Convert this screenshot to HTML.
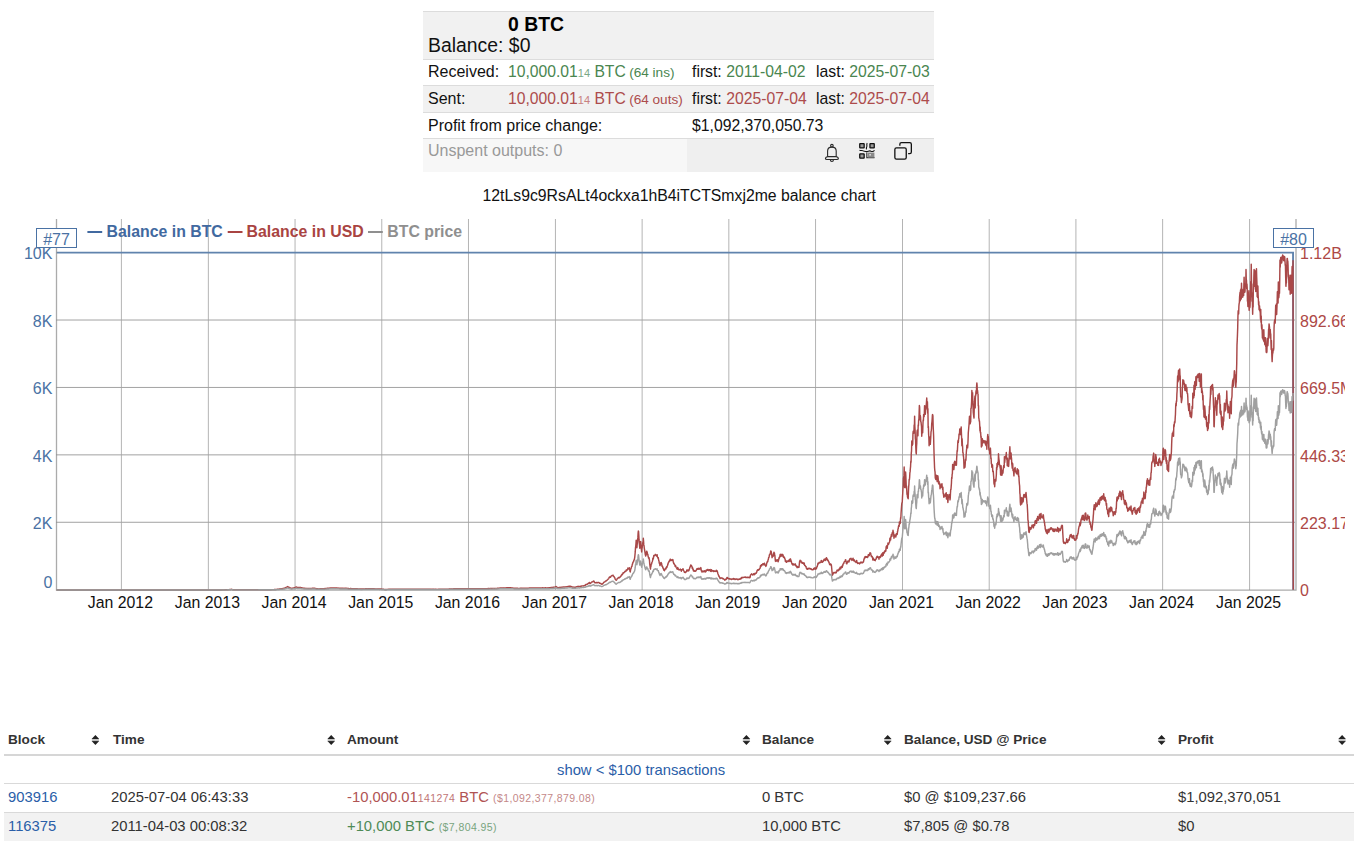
<!DOCTYPE html>
<html><head><meta charset="utf-8">
<style>
*{box-sizing:border-box}
html,body{margin:0;padding:0;background:#fff}
body{width:1354px;height:841px;overflow:hidden;position:relative;font-family:"Liberation Sans",sans-serif;color:#111}
.a{position:absolute;white-space:nowrap}
#top{position:absolute;left:423px;top:11px;width:511px;height:161px}
.row{position:absolute;left:0;width:511px;border-top:1px solid #dcdcdc}
.g{color:#4a8650}
.r{color:#ad4c4c}
.sm{font-size:11px}
.f16{font-size:16px}
.th{top:732px;font-size:13.6px;font-weight:bold;color:#333}
.td{font-size:14.8px;color:#333}
.s10{font-size:10.5px;letter-spacing:0.4px}
</style></head><body>
<div id="top">
  <div class="row" style="top:0;height:49px;background:#f1f1f1"></div>
  <div class="row" style="top:48px;height:26px;background:#fff"></div>
  <div class="row" style="top:74px;height:27px;background:#f1f1f1"></div>
  <div class="row" style="top:101px;height:26px;background:#fff"></div>
  <div class="row" style="top:127px;height:34px;background:#f7f7f7"></div>
  <div class="a" style="left:264px;top:128px;width:247px;height:33px;background:#efefef"></div>
  <div class="a" style="left:85px;top:2px;font-size:19.4px;font-weight:bold;color:#000">0 BTC</div>
  <div class="a" style="left:5px;top:23px;font-size:19.4px">Balance: $0</div>
  <div class="a f16" style="left:5px;top:52px">Received:</div>
  <div class="a g" style="left:85px;top:52px;font-size:15.7px">10,000.01<span class="sm" style="color:#7aa886">14</span> BTC <span style="font-size:13.6px;margin-left:-1px">(64 ins)</span></div>
  <div class="a f16" style="left:269px;top:52px;font-size:15.75px">first: <span class="g">2011-04-02</span></div>
  <div class="a f16" style="left:393px;top:52px;font-size:15.75px">last: <span class="g">2025-07-03</span></div>
  <div class="a f16" style="left:5px;top:79px">Sent:</div>
  <div class="a r" style="left:85px;top:79px;font-size:15.7px">10,000.01<span class="sm" style="color:#c88080">14</span> BTC <span style="font-size:13.6px;margin-left:-1px">(64 outs)</span></div>
  <div class="a f16" style="left:269px;top:79px;font-size:15.75px">first: <span class="r">2025-07-04</span></div>
  <div class="a f16" style="left:393px;top:79px;font-size:15.75px">last: <span class="r">2025-07-04</span></div>
  <div class="a f16" style="left:5px;top:106px">Profit from price change:</div>
  <div class="a f16" style="left:269px;top:106px;font-size:15.75px">$1,092,370,050.73</div>
  <div class="a f16" style="left:5px;top:131px;color:#999">Unspent outputs: 0</div>
<svg class="a" style="left:-423px;top:-11px" width="1354" height="200" viewBox="0 0 1354 200">
<g fill="none" stroke="#2a2a2a" stroke-width="1.1">
<circle cx="831.9" cy="145.7" r="1.3"/>
<path d="M827.6 156.6V151C827.6 148.4 829.4 147.1 831.9 147.1C834.4 147.1 836.2 148.4 836.2 151V156.6"/>
<path d="M827.6 156.6C826.1 157 825.4 157.7 825.4 158.5C825.4 159.2 826 159.5 827 159.5H836.8C837.8 159.5 838.4 159.2 838.4 158.5C838.4 157.7 837.7 157 836.2 156.6Z"/>
<path d="M830.4 159.9A1.5 1.5 0 0 0 833.4 159.9"/>
</g>
<g fill="#9a9a9a" stroke="#111" stroke-width="1.3">
<rect x="859.75" y="143.65" width="4.4" height="4.3" rx="0.4"/>
<rect x="869.95" y="143.65" width="4.3" height="4.3" rx="0.4"/>
<rect x="859.75" y="153.85" width="4.4" height="4.3" rx="0.4"/>
</g>
<g fill="none" stroke="#111" stroke-width="1.1">
<path d="M867.3 143.2C866 144.5 867.6 145.5 866.6 147.2C866.2 148 866.5 148.6 866.4 149.3"/>
<path d="M859.5 150.2C861 150.8 862 150 863.5 150.9C864.5 151.4 865.5 151.4 866.6 151.6C868 151.8 869.5 150.2 871 151.2C872.5 151.8 873.5 151.5 874.5 150.4"/>
<path d="M866.8 152.6V157.6H874.5" stroke="#333"/>
</g>
<rect x="867.6" y="152.6" width="6.8" height="5" fill="#8a8a8a"/>
<rect x="869.3" y="154" width="1.6" height="1.6" fill="#ddd"/>
<g fill="none" stroke="#111" stroke-width="1.3">
<rect x="894.85" y="147.85" width="11.4" height="11.3" rx="1.6"/>
<path d="M899.85 145.8V144.2Q899.85 142.65 901.4 142.65H909.8Q911.35 142.65 911.35 144.2V152Q911.35 153.55 909.8 153.55H908.1"/>
</g>
</svg>

</div>
<div class="a f16" style="left:482.5px;top:187px;font-size:15.8px">12tLs9c9RsALt4ockxa1hB4iTCTSmxj2me balance chart</div>
<svg class="a" style="left:0;top:0" width="1354" height="841" viewBox="0 0 1354 841">
<defs><clipPath id="cr"><rect x="0" y="0" width="1345" height="841"/></clipPath></defs>
<path d="M121.40 219V590M208.35 219V590M295.06 219V590M381.77 219V590M468.48 219V590M555.43 219V590M642.14 219V590M728.84 219V590M815.55 219V590M902.50 219V590M989.21 219V590M1075.92 219V590M1162.63 219V590M1249.58 219V590" stroke="#b4b4b4" stroke-width="1" fill="none"/>
<path d="M56 320.02H1295M56 387.44H1295M56 454.86H1295M56 522.28H1295" stroke="#a2a2a2" stroke-width="1" fill="none"/>
<polyline points="56.5,252.6 1293.05,252.6 1293.25,590" fill="none" stroke="#6083ad" stroke-width="1.9"/>
<polyline points="56.55,590.00 56.79,590.00 57.03,590.00 57.26,590.00 57.50,590.00 57.74,590.00 57.98,590.00 58.21,590.00 58.45,590.00 58.69,590.00 58.93,590.00 59.16,590.00 59.40,589.99 59.64,589.99 59.88,589.99 60.11,589.99 60.35,589.99 60.59,589.99 60.83,589.99 61.06,589.99 61.30,589.99 61.54,589.99 61.78,589.99 62.01,589.99 62.25,589.99 62.49,589.99 62.73,589.99 62.96,589.99 63.20,589.99 63.44,589.99 63.68,589.99 63.91,589.99 64.15,589.99 64.39,589.99 64.63,589.98 64.86,589.98 65.10,589.98 65.34,589.98 65.58,589.98 65.81,589.98 66.05,589.98 66.29,589.98 66.53,589.97 66.77,589.97 67.00,589.97 67.24,589.97 67.48,589.97 67.72,589.97 67.95,589.97 68.19,589.96 68.43,589.96 68.67,589.96 68.90,589.96 69.14,589.96 69.38,589.96 69.62,589.95 69.85,589.95 70.09,589.95 70.33,589.95 70.57,589.94 70.80,589.94 71.04,589.93 71.28,589.93 71.52,589.93 71.75,589.93 71.99,589.92 72.23,589.91 72.47,589.91 72.70,589.92 72.94,589.92 73.18,589.92 73.42,589.92 73.65,589.92 73.89,589.93 74.13,589.93 74.37,589.93 74.60,589.93 74.84,589.93 75.08,589.94 75.32,589.94 75.55,589.94 75.79,589.94 76.03,589.94 76.27,589.94 76.51,589.95 76.74,589.95 76.98,589.95 77.22,589.95 77.46,589.95 77.69,589.95 77.93,589.95 78.17,589.95 78.41,589.96 78.64,589.96 78.88,589.96 79.12,589.96 79.36,589.96 79.59,589.96 79.83,589.96 80.07,589.96 80.31,589.96 80.54,589.96 80.78,589.96 81.02,589.96 81.26,589.96 81.49,589.96 81.73,589.96 81.97,589.97 82.21,589.97 82.44,589.97 82.68,589.97 82.92,589.97 83.16,589.97 83.39,589.97 83.63,589.97 83.87,589.97 84.11,589.97 84.34,589.97 84.58,589.97 84.82,589.97 85.06,589.97 85.29,589.97 85.53,589.97 85.77,589.97 86.01,589.97 86.25,589.97 86.48,589.97 86.72,589.97 86.96,589.98 87.20,589.98 87.43,589.98 87.67,589.98 87.91,589.98 88.15,589.98 88.38,589.98 88.62,589.98 88.86,589.98 89.10,589.98 89.33,589.98 89.57,589.98 89.81,589.98 90.05,589.98 90.28,589.98 90.52,589.98 90.76,589.98 91.00,589.98 91.23,589.98 91.47,589.98 91.71,589.98 91.95,589.98 92.18,589.98 92.42,589.98 92.66,589.98 92.90,589.98 93.13,589.98 93.37,589.99 93.61,589.99 93.85,589.99 94.08,589.99 94.32,589.99 94.56,589.99 94.80,589.99 95.03,589.99 95.27,589.99 95.51,589.99 95.75,589.99 95.98,589.99 96.22,589.99 96.46,589.99 96.70,589.99 96.94,589.99 97.17,589.99 97.41,589.99 97.65,589.99 97.89,589.99 98.12,589.99 98.36,589.99 98.60,589.99 98.84,589.99 99.07,589.99 99.31,589.99 99.55,589.99 99.79,589.99 100.02,589.99 100.26,589.99 100.50,589.99 100.74,589.99 100.97,589.99 101.21,589.99 101.45,589.99 101.69,589.99 101.92,589.99 102.16,589.99 102.40,589.99 102.64,589.99 102.87,589.99 103.11,589.99 103.35,589.99 103.59,589.99 103.82,589.99 104.06,589.99 104.30,589.99 104.54,589.99 104.77,589.99 105.01,589.99 105.25,589.99 105.49,589.99 105.72,589.99 105.96,589.99 106.20,589.99 106.44,589.99 106.68,589.99 106.91,589.99 107.15,589.99 107.39,589.99 107.63,589.99 107.86,589.99 108.10,589.99 108.34,589.99 108.58,589.99 108.81,589.99 109.05,589.99 109.29,589.99 109.53,589.99 109.76,589.99 110.00,589.99 110.24,589.99 110.48,589.99 110.71,589.99 110.95,589.99 111.19,589.99 111.43,589.99 111.66,589.99 111.90,589.99 112.14,589.99 112.38,589.99 112.61,589.99 112.85,589.99 113.09,589.99 113.33,589.99 113.56,589.99 113.80,589.99 114.04,589.99 114.28,589.99 114.51,589.99 114.75,589.99 114.99,589.99 115.23,589.99 115.46,589.99 115.70,589.99 115.94,589.99 116.18,589.99 116.42,589.99 116.65,589.99 116.89,589.99 117.13,589.99 117.37,589.99 117.60,589.99 117.84,589.99 118.08,589.99 118.32,589.99 118.55,589.99 118.79,589.99 119.03,589.99 119.27,589.99 119.50,589.99 119.74,589.98 119.98,589.98 120.22,589.98 120.45,589.98 120.69,589.98 120.93,589.98 121.17,589.98 121.40,589.98 121.64,589.98 121.88,589.98 122.12,589.98 122.35,589.98 122.59,589.98 122.83,589.98 123.07,589.98 123.30,589.98 123.54,589.98 123.78,589.98 124.02,589.98 124.25,589.98 124.49,589.98 124.73,589.98 124.97,589.98 125.20,589.98 125.44,589.98 125.68,589.98 125.92,589.98 126.16,589.98 126.39,589.98 126.63,589.98 126.87,589.98 127.11,589.98 127.34,589.98 127.58,589.98 127.82,589.98 128.06,589.98 128.29,589.98 128.53,589.98 128.77,589.98 129.01,589.98 129.24,589.98 129.48,589.98 129.72,589.98 129.96,589.98 130.19,589.98 130.43,589.98 130.67,589.98 130.91,589.98 131.14,589.98 131.38,589.98 131.62,589.98 131.86,589.98 132.09,589.98 132.33,589.98 132.57,589.98 132.81,589.98 133.04,589.98 133.28,589.98 133.52,589.98 133.76,589.98 133.99,589.98 134.23,589.98 134.47,589.98 134.71,589.98 134.94,589.98 135.18,589.98 135.42,589.98 135.66,589.98 135.90,589.98 136.13,589.98 136.37,589.98 136.61,589.98 136.85,589.98 137.08,589.98 137.32,589.98 137.56,589.98 137.80,589.98 138.03,589.98 138.27,589.98 138.51,589.98 138.75,589.98 138.98,589.98 139.22,589.98 139.46,589.98 139.70,589.98 139.93,589.98 140.17,589.98 140.41,589.98 140.65,589.98 140.88,589.98 141.12,589.98 141.36,589.98 141.60,589.98 141.83,589.98 142.07,589.98 142.31,589.98 142.55,589.98 142.78,589.98 143.02,589.98 143.26,589.98 143.50,589.98 143.73,589.98 143.97,589.98 144.21,589.98 144.45,589.98 144.68,589.98 144.92,589.98 145.16,589.98 145.40,589.98 145.63,589.98 145.87,589.98 146.11,589.98 146.35,589.98 146.59,589.98 146.82,589.98 147.06,589.98 147.30,589.98 147.54,589.98 147.77,589.98 148.01,589.98 148.25,589.98 148.49,589.98 148.72,589.98 148.96,589.98 149.20,589.98 149.44,589.98 149.67,589.98 149.91,589.98 150.15,589.98 150.39,589.98 150.62,589.97 150.86,589.97 151.10,589.98 151.34,589.98 151.57,589.98 151.81,589.98 152.05,589.98 152.29,589.98 152.52,589.98 152.76,589.98 153.00,589.98 153.24,589.97 153.47,589.97 153.71,589.98 153.95,589.97 154.19,589.97 154.42,589.98 154.66,589.98 154.90,589.98 155.14,589.98 155.37,589.98 155.61,589.98 155.85,589.98 156.09,589.98 156.33,589.98 156.56,589.98 156.80,589.98 157.04,589.98 157.28,589.98 157.51,589.98 157.75,589.98 157.99,589.98 158.23,589.97 158.46,589.98 158.70,589.98 158.94,589.98 159.18,589.97 159.41,589.98 159.65,589.97 159.89,589.97 160.13,589.97 160.36,589.97 160.60,589.97 160.84,589.97 161.08,589.97 161.31,589.97 161.55,589.97 161.79,589.97 162.03,589.97 162.26,589.97 162.50,589.97 162.74,589.97 162.98,589.97 163.21,589.97 163.45,589.97 163.69,589.97 163.93,589.97 164.16,589.97 164.40,589.97 164.64,589.97 164.88,589.97 165.11,589.97 165.35,589.97 165.59,589.97 165.83,589.97 166.07,589.97 166.30,589.97 166.54,589.97 166.78,589.97 167.02,589.96 167.25,589.96 167.49,589.96 167.73,589.96 167.97,589.96 168.20,589.96 168.44,589.96 168.68,589.97 168.92,589.97 169.15,589.96 169.39,589.96 169.63,589.96 169.87,589.96 170.10,589.96 170.34,589.96 170.58,589.96 170.82,589.97 171.05,589.96 171.29,589.97 171.53,589.97 171.77,589.96 172.00,589.96 172.24,589.96 172.48,589.96 172.72,589.96 172.95,589.96 173.19,589.97 173.43,589.96 173.67,589.96 173.90,589.96 174.14,589.96 174.38,589.96 174.62,589.96 174.85,589.96 175.09,589.96 175.33,589.96 175.57,589.96 175.81,589.96 176.04,589.96 176.28,589.96 176.52,589.96 176.76,589.96 176.99,589.96 177.23,589.96 177.47,589.96 177.71,589.96 177.94,589.96 178.18,589.96 178.42,589.96 178.66,589.96 178.89,589.96 179.13,589.96 179.37,589.96 179.61,589.96 179.84,589.96 180.08,589.96 180.32,589.96 180.56,589.96 180.79,589.96 181.03,589.96 181.27,589.96 181.51,589.96 181.74,589.96 181.98,589.96 182.22,589.96 182.46,589.96 182.69,589.96 182.93,589.96 183.17,589.96 183.41,589.96 183.64,589.96 183.88,589.96 184.12,589.96 184.36,589.96 184.59,589.96 184.83,589.96 185.07,589.96 185.31,589.96 185.55,589.96 185.78,589.96 186.02,589.96 186.26,589.96 186.50,589.96 186.73,589.96 186.97,589.96 187.21,589.96 187.45,589.96 187.68,589.96 187.92,589.96 188.16,589.96 188.40,589.96 188.63,589.96 188.87,589.96 189.11,589.96 189.35,589.96 189.58,589.96 189.82,589.96 190.06,589.96 190.30,589.96 190.53,589.96 190.77,589.96 191.01,589.96 191.25,589.96 191.48,589.96 191.72,589.96 191.96,589.96 192.20,589.96 192.43,589.96 192.67,589.96 192.91,589.96 193.15,589.96 193.38,589.96 193.62,589.96 193.86,589.96 194.10,589.96 194.33,589.96 194.57,589.96 194.81,589.96 195.05,589.96 195.29,589.96 195.52,589.96 195.76,589.96 196.00,589.96 196.24,589.96 196.47,589.96 196.71,589.96 196.95,589.96 197.19,589.96 197.42,589.96 197.66,589.96 197.90,589.96 198.14,589.96 198.37,589.96 198.61,589.96 198.85,589.96 199.09,589.96 199.32,589.96 199.56,589.96 199.80,589.96 200.04,589.96 200.27,589.96 200.51,589.96 200.75,589.96 200.99,589.96 201.22,589.96 201.46,589.96 201.70,589.96 201.94,589.96 202.17,589.96 202.41,589.96 202.65,589.96 202.89,589.96 203.12,589.96 203.36,589.96 203.60,589.96 203.84,589.96 204.07,589.96 204.31,589.96 204.55,589.96 204.79,589.96 205.02,589.96 205.26,589.96 205.50,589.96 205.74,589.96 205.98,589.96 206.21,589.96 206.45,589.96 206.69,589.96 206.93,589.96 207.16,589.96 207.40,589.96 207.64,589.96 207.88,589.96 208.11,589.96 208.35,589.96 208.59,589.96 208.83,589.96 209.06,589.96 209.30,589.95 209.54,589.95 209.78,589.95 210.01,589.95 210.25,589.95 210.49,589.95 210.73,589.95 210.96,589.95 211.20,589.95 211.44,589.95 211.68,589.95 211.91,589.95 212.15,589.94 212.39,589.95 212.63,589.95 212.86,589.94 213.10,589.94 213.34,589.94 213.58,589.94 213.81,589.94 214.05,589.94 214.29,589.94 214.53,589.94 214.76,589.94 215.00,589.93 215.24,589.93 215.48,589.93 215.72,589.93 215.95,589.93 216.19,589.93 216.43,589.93 216.67,589.93 216.90,589.93 217.14,589.93 217.38,589.93 217.62,589.93 217.85,589.93 218.09,589.93 218.33,589.92 218.57,589.92 218.80,589.92 219.04,589.92 219.28,589.92 219.52,589.92 219.75,589.91 219.99,589.92 220.23,589.91 220.47,589.91 220.70,589.91 220.94,589.91 221.18,589.91 221.42,589.91 221.65,589.91 221.89,589.90 222.13,589.90 222.37,589.90 222.60,589.89 222.84,589.89 223.08,589.88 223.32,589.88 223.55,589.87 223.79,589.86 224.03,589.86 224.27,589.86 224.50,589.85 224.74,589.84 224.98,589.83 225.22,589.83 225.46,589.83 225.69,589.81 225.93,589.80 226.17,589.79 226.41,589.79 226.64,589.77 226.88,589.76 227.12,589.75 227.36,589.74 227.59,589.72 227.83,589.71 228.07,589.69 228.31,589.67 228.54,589.67 228.78,589.65 229.02,589.64 229.26,589.61 229.49,589.59 229.73,589.58 229.97,589.55 230.21,589.52 230.44,589.50 230.68,589.47 230.92,589.43 231.16,589.37 231.39,589.33 231.63,589.30 231.87,589.40 232.11,589.48 232.34,589.58 232.58,589.65 232.82,589.70 233.06,589.75 233.29,589.79 233.53,589.78 233.77,589.79 234.01,589.78 234.24,589.79 234.48,589.78 234.72,589.78 234.96,589.79 235.20,589.79 235.43,589.78 235.67,589.79 235.91,589.79 236.15,589.79 236.38,589.79 236.62,589.79 236.86,589.79 237.10,589.79 237.33,589.79 237.57,589.79 237.81,589.79 238.05,589.79 238.28,589.79 238.52,589.79 238.76,589.79 239.00,589.79 239.23,589.79 239.47,589.80 239.71,589.79 239.95,589.80 240.18,589.79 240.42,589.79 240.66,589.79 240.90,589.79 241.13,589.79 241.37,589.79 241.61,589.79 241.85,589.80 242.08,589.79 242.32,589.79 242.56,589.79 242.80,589.79 243.03,589.79 243.27,589.79 243.51,589.79 243.75,589.79 243.98,589.79 244.22,589.80 244.46,589.79 244.70,589.79 244.94,589.78 245.17,589.79 245.41,589.79 245.65,589.79 245.89,589.79 246.12,589.79 246.36,589.79 246.60,589.80 246.84,589.79 247.07,589.79 247.31,589.80 247.55,589.79 247.79,589.79 248.02,589.79 248.26,589.79 248.50,589.79 248.74,589.79 248.97,589.79 249.21,589.80 249.45,589.79 249.69,589.79 249.92,589.79 250.16,589.79 250.40,589.78 250.64,589.78 250.87,589.78 251.11,589.79 251.35,589.78 251.59,589.79 251.82,589.79 252.06,589.79 252.30,589.79 252.54,589.78 252.77,589.78 253.01,589.77 253.25,589.76 253.49,589.77 253.72,589.76 253.96,589.76 254.20,589.77 254.44,589.77 254.68,589.77 254.91,589.78 255.15,589.77 255.39,589.77 255.63,589.76 255.86,589.76 256.10,589.76 256.34,589.75 256.58,589.75 256.81,589.75 257.05,589.76 257.29,589.76 257.53,589.75 257.76,589.75 258.00,589.74 258.24,589.74 258.48,589.75 258.71,589.74 258.95,589.74 259.19,589.73 259.43,589.72 259.66,589.72 259.90,589.72 260.14,589.72 260.38,589.72 260.61,589.73 260.85,589.71 261.09,589.70 261.33,589.72 261.56,589.71 261.80,589.72 262.04,589.70 262.28,589.71 262.51,589.70 262.75,589.71 262.99,589.70 263.23,589.70 263.46,589.69 263.70,589.68 263.94,589.69 264.18,589.68 264.41,589.70 264.65,589.67 264.89,589.68 265.13,589.69 265.37,589.68 265.60,589.69 265.84,589.69 266.08,589.69 266.32,589.70 266.55,589.69 266.79,589.69 267.03,589.70 267.27,589.68 267.50,589.69 267.74,589.69 267.98,589.68 268.22,589.69 268.45,589.69 268.69,589.69 268.93,589.68 269.17,589.69 269.40,589.68 269.64,589.68 269.88,589.68 270.12,589.68 270.35,589.68 270.59,589.67 270.83,589.65 271.07,589.67 271.30,589.65 271.54,589.65 271.78,589.64 272.02,589.63 272.25,589.65 272.49,589.62 272.73,589.62 272.97,589.62 273.20,589.62 273.44,589.63 273.68,589.62 273.92,589.60 274.15,589.58 274.39,589.56 274.63,589.55 274.87,589.51 275.11,589.51 275.34,589.49 275.58,589.47 275.82,589.44 276.06,589.42 276.29,589.42 276.53,589.38 276.77,589.36 277.01,589.34 277.24,589.32 277.48,589.31 277.72,589.28 277.96,589.25 278.19,589.19 278.43,589.18 278.67,589.16 278.91,589.11 279.14,589.07 279.38,589.00 279.62,589.00 279.86,588.92 280.09,588.86 280.33,588.85 280.57,588.81 280.81,588.79 281.04,588.77 281.28,588.77 281.52,588.73 281.76,588.68 281.99,588.62 282.23,588.61 282.47,588.63 282.71,588.58 282.94,588.55 283.18,588.48 283.42,588.40 283.66,588.29 283.89,588.33 284.13,588.27 284.37,588.24 284.61,588.19 284.85,588.11 285.08,587.93 285.32,587.80 285.56,587.71 285.80,587.64 286.03,587.55 286.27,587.36 286.51,587.29 286.75,587.08 286.98,586.99 287.22,586.88 287.46,586.58 287.70,586.74 287.93,586.80 288.17,587.07 288.41,587.22 288.65,587.24 288.88,587.38 289.12,587.45 289.36,587.45 289.60,587.54 289.83,587.70 290.07,587.87 290.31,588.00 290.55,588.08 290.78,588.12 291.02,588.21 291.26,588.28 291.50,588.41 291.73,588.43 291.97,588.37 292.21,588.24 292.45,588.20 292.68,588.13 292.92,588.10 293.16,588.02 293.40,587.88 293.63,587.90 293.87,588.00 294.11,587.90 294.35,587.78 294.59,587.74 294.82,587.73 295.06,587.59 295.30,587.40 295.54,587.26 295.77,587.17 296.01,587.11 296.25,586.98 296.49,586.99 296.72,587.22 296.96,587.29 297.20,587.42 297.44,587.39 297.67,587.51 297.91,587.51 298.15,587.58 298.39,587.41 298.62,587.42 298.86,587.48 299.10,587.43 299.34,587.47 299.57,587.42 299.81,587.50 300.05,587.47 300.29,587.56 300.52,587.60 300.76,587.55 301.00,587.60 301.24,587.71 301.47,587.77 301.71,587.89 301.95,587.86 302.19,587.93 302.42,588.03 302.66,588.08 302.90,588.05 303.14,588.09 303.37,588.14 303.61,588.21 303.85,588.22 304.09,588.32 304.33,588.29 304.56,588.28 304.80,588.32 305.04,588.27 305.28,588.35 305.51,588.36 305.75,588.41 305.99,588.40 306.23,588.44 306.46,588.40 306.70,588.35 306.94,588.40 307.18,588.39 307.41,588.44 307.65,588.42 307.89,588.51 308.13,588.49 308.36,588.44 308.60,588.41 308.84,588.36 309.08,588.45 309.31,588.44 309.55,588.44 309.79,588.40 310.03,588.40 310.26,588.45 310.50,588.49 310.74,588.46 310.98,588.45 311.21,588.43 311.45,588.39 311.69,588.43 311.93,588.39 312.16,588.36 312.40,588.22 312.64,588.23 312.88,588.20 313.11,588.21 313.35,588.23 313.59,588.22 313.83,588.20 314.07,588.21 314.30,588.33 314.54,588.30 314.78,588.28 315.02,588.40 315.25,588.44 315.49,588.52 315.73,588.54 315.97,588.58 316.20,588.62 316.44,588.64 316.68,588.68 316.92,588.70 317.15,588.64 317.39,588.69 317.63,588.78 317.87,588.78 318.10,588.85 318.34,588.90 318.58,588.91 318.82,588.90 319.05,588.90 319.29,588.90 319.53,588.88 319.77,588.84 320.00,588.82 320.24,588.83 320.48,588.80 320.72,588.77 320.95,588.82 321.19,588.78 321.43,588.74 321.67,588.76 321.90,588.75 322.14,588.78 322.38,588.77 322.62,588.75 322.85,588.79 323.09,588.78 323.33,588.77 323.57,588.72 323.81,588.72 324.04,588.70 324.28,588.65 324.52,588.59 324.76,588.59 324.99,588.60 325.23,588.58 325.47,588.55 325.71,588.55 325.94,588.49 326.18,588.48 326.42,588.43 326.66,588.47 326.89,588.33 327.13,588.27 327.37,588.27 327.61,588.23 327.84,588.18 328.08,588.23 328.32,588.20 328.56,588.21 328.79,588.17 329.03,588.17 329.27,588.08 329.51,588.12 329.74,588.10 329.98,588.16 330.22,588.06 330.46,588.07 330.69,588.07 330.93,588.00 331.17,588.03 331.41,587.97 331.64,588.06 331.88,587.99 332.12,587.95 332.36,588.07 332.59,588.02 332.83,588.04 333.07,588.06 333.31,588.07 333.54,588.02 333.78,588.03 334.02,587.99 334.26,588.00 334.50,588.02 334.73,588.02 334.97,588.06 335.21,588.10 335.45,588.07 335.68,588.07 335.92,588.02 336.16,588.06 336.40,588.02 336.63,588.02 336.87,588.09 337.11,588.11 337.35,588.11 337.58,588.06 337.82,588.12 338.06,588.11 338.30,588.08 338.53,588.10 338.77,588.10 339.01,588.11 339.25,588.15 339.48,588.15 339.72,588.24 339.96,588.25 340.20,588.30 340.43,588.25 340.67,588.21 340.91,588.26 341.15,588.30 341.38,588.27 341.62,588.32 341.86,588.22 342.10,588.31 342.33,588.26 342.57,588.32 342.81,588.23 343.05,588.30 343.28,588.31 343.52,588.32 343.76,588.36 344.00,588.36 344.24,588.36 344.47,588.29 344.71,588.36 344.95,588.35 345.19,588.28 345.42,588.29 345.66,588.33 345.90,588.34 346.14,588.40 346.37,588.33 346.61,588.34 346.85,588.29 347.09,588.31 347.32,588.40 347.56,588.48 347.80,588.50 348.04,588.51 348.27,588.55 348.51,588.60 348.75,588.57 348.99,588.63 349.22,588.60 349.46,588.61 349.70,588.67 349.94,588.65 350.17,588.59 350.41,588.57 350.65,588.62 350.89,588.58 351.12,588.59 351.36,588.60 351.60,588.69 351.84,588.64 352.07,588.68 352.31,588.65 352.55,588.65 352.79,588.70 353.02,588.69 353.26,588.66 353.50,588.66 353.74,588.67 353.98,588.71 354.21,588.72 354.45,588.69 354.69,588.76 354.93,588.83 355.16,588.77 355.40,588.79 355.64,588.74 355.88,588.76 356.11,588.77 356.35,588.76 356.59,588.80 356.83,588.79 357.06,588.76 357.30,588.81 357.54,588.83 357.78,588.86 358.01,588.85 358.25,588.88 358.49,588.89 358.73,588.86 358.96,588.89 359.20,588.90 359.44,588.93 359.68,588.91 359.91,588.92 360.15,588.96 360.39,589.00 360.63,589.01 360.86,589.03 361.10,589.06 361.34,589.03 361.58,588.96 361.81,589.00 362.05,589.00 362.29,588.99 362.53,589.00 362.76,589.01 363.00,588.97 363.24,588.96 363.48,588.95 363.72,588.96 363.95,588.93 364.19,588.95 364.43,588.88 364.67,588.88 364.90,588.88 365.14,588.87 365.38,588.80 365.62,588.85 365.85,588.79 366.09,588.84 366.33,588.84 366.57,588.87 366.80,588.82 367.04,588.85 367.28,588.84 367.52,588.82 367.75,588.81 367.99,588.77 368.23,588.76 368.47,588.77 368.70,588.77 368.94,588.76 369.18,588.71 369.42,588.72 369.65,588.71 369.89,588.73 370.13,588.71 370.37,588.70 370.60,588.74 370.84,588.73 371.08,588.74 371.32,588.80 371.55,588.74 371.79,588.77 372.03,588.80 372.27,588.72 372.50,588.76 372.74,588.75 372.98,588.74 373.22,588.78 373.46,588.78 373.69,588.77 373.93,588.72 374.17,588.78 374.41,588.83 374.64,588.86 374.88,588.85 375.12,588.93 375.36,588.91 375.59,588.89 375.83,588.92 376.07,588.90 376.31,588.90 376.54,588.90 376.78,588.88 377.02,588.90 377.26,588.90 377.49,588.95 377.73,588.97 377.97,588.95 378.21,588.97 378.44,588.96 378.68,588.97 378.92,588.98 379.16,589.03 379.39,589.00 379.63,589.00 379.87,588.99 380.11,589.00 380.34,588.98 380.58,589.00 380.82,588.98 381.06,589.00 381.29,589.02 381.53,589.03 381.77,589.07 382.01,589.11 382.24,589.16 382.48,589.18 382.72,589.24 382.96,589.22 383.19,589.25 383.43,589.26 383.67,589.31 383.91,589.34 384.15,589.36 384.38,589.39 384.62,589.42 384.86,589.46 385.10,589.45 385.33,589.45 385.57,589.44 385.81,589.41 386.05,589.44 386.28,589.44 386.52,589.40 386.76,589.40 387.00,589.41 387.23,589.39 387.47,589.38 387.71,589.37 387.95,589.34 388.18,589.35 388.42,589.33 388.66,589.34 388.90,589.31 389.13,589.31 389.37,589.32 389.61,589.29 389.85,589.33 390.08,589.32 390.32,589.31 390.56,589.31 390.80,589.33 391.03,589.33 391.27,589.33 391.51,589.33 391.75,589.27 391.98,589.28 392.22,589.28 392.46,589.27 392.70,589.28 392.93,589.28 393.17,589.30 393.41,589.28 393.65,589.27 393.89,589.29 394.12,589.28 394.36,589.29 394.60,589.27 394.84,589.24 395.07,589.24 395.31,589.21 395.55,589.23 395.79,589.18 396.02,589.21 396.26,589.17 396.50,589.23 396.74,589.20 396.97,589.17 397.21,589.13 397.45,589.15 397.69,589.14 397.92,589.12 398.16,589.12 398.40,589.12 398.64,589.13 398.87,589.13 399.11,589.16 399.35,589.14 399.59,589.14 399.82,589.17 400.06,589.15 400.30,589.14 400.54,589.16 400.77,589.15 401.01,589.17 401.25,589.15 401.49,589.17 401.72,589.19 401.96,589.21 402.20,589.17 402.44,589.18 402.67,589.16 402.91,589.16 403.15,589.16 403.39,589.14 403.63,589.19 403.86,589.16 404.10,589.18 404.34,589.17 404.58,589.20 404.81,589.14 405.05,589.16 405.29,589.12 405.53,589.11 405.76,589.13 406.00,589.12 406.24,589.16 406.48,589.19 406.71,589.16 406.95,589.19 407.19,589.17 407.43,589.16 407.66,589.15 407.90,589.18 408.14,589.17 408.38,589.16 408.61,589.14 408.85,589.11 409.09,589.13 409.33,589.14 409.56,589.16 409.80,589.18 410.04,589.14 410.28,589.13 410.51,589.16 410.75,589.16 410.99,589.17 411.23,589.18 411.46,589.14 411.70,589.13 411.94,589.15 412.18,589.16 412.41,589.13 412.65,589.16 412.89,589.17 413.13,589.17 413.37,589.15 413.60,589.15 413.84,589.14 414.08,589.14 414.32,589.13 414.55,589.14 414.79,589.15 415.03,589.19 415.27,589.21 415.50,589.21 415.74,589.21 415.98,589.20 416.22,589.19 416.45,589.16 416.69,589.21 416.93,589.19 417.17,589.17 417.40,589.19 417.64,589.18 417.88,589.16 418.12,589.15 418.35,589.14 418.59,589.16 418.83,589.16 419.07,589.16 419.30,589.18 419.54,589.20 419.78,589.18 420.02,589.19 420.25,589.19 420.49,589.20 420.73,589.21 420.97,589.20 421.20,589.23 421.44,589.25 421.68,589.23 421.92,589.22 422.15,589.21 422.39,589.24 422.63,589.24 422.87,589.21 423.11,589.21 423.34,589.25 423.58,589.24 423.82,589.24 424.06,589.26 424.29,589.24 424.53,589.23 424.77,589.23 425.01,589.23 425.24,589.21 425.48,589.24 425.72,589.24 425.96,589.22 426.19,589.23 426.43,589.24 426.67,589.24 426.91,589.26 427.14,589.31 427.38,589.29 427.62,589.32 427.86,589.31 428.09,589.28 428.33,589.30 428.57,589.29 428.81,589.29 429.04,589.29 429.28,589.30 429.52,589.29 429.76,589.29 429.99,589.32 430.23,589.34 430.47,589.33 430.71,589.31 430.94,589.32 431.18,589.33 431.42,589.32 431.66,589.33 431.89,589.33 432.13,589.31 432.37,589.33 432.61,589.32 432.85,589.32 433.08,589.32 433.32,589.31 433.56,589.32 433.80,589.32 434.03,589.32 434.27,589.32 434.51,589.32 434.75,589.35 434.98,589.33 435.22,589.30 435.46,589.35 435.70,589.33 435.93,589.34 436.17,589.34 436.41,589.34 436.65,589.35 436.88,589.36 437.12,589.34 437.36,589.36 437.60,589.37 437.83,589.35 438.07,589.36 438.31,589.34 438.55,589.33 438.78,589.32 439.02,589.32 439.26,589.34 439.50,589.31 439.73,589.30 439.97,589.30 440.21,589.30 440.45,589.27 440.68,589.29 440.92,589.28 441.16,589.30 441.40,589.30 441.63,589.28 441.87,589.31 442.11,589.30 442.35,589.27 442.58,589.24 442.82,589.25 443.06,589.24 443.30,589.26 443.54,589.23 443.77,589.23 444.01,589.25 444.25,589.24 444.49,589.25 444.72,589.27 444.96,589.27 445.20,589.24 445.44,589.25 445.67,589.22 445.91,589.19 446.15,589.19 446.39,589.19 446.62,589.17 446.86,589.20 447.10,589.19 447.34,589.20 447.57,589.19 447.81,589.14 448.05,589.14 448.29,589.13 448.52,589.12 448.76,589.10 449.00,589.07 449.24,589.08 449.47,589.05 449.71,589.00 449.95,588.96 450.19,588.95 450.42,588.90 450.66,588.92 450.90,588.88 451.14,588.89 451.37,588.95 451.61,588.92 451.85,588.93 452.09,588.88 452.32,588.93 452.56,588.86 452.80,588.87 453.04,588.91 453.28,588.84 453.51,588.79 453.75,588.78 453.99,588.77 454.23,588.80 454.46,588.77 454.70,588.79 454.94,588.81 455.18,588.80 455.41,588.77 455.65,588.80 455.89,588.83 456.13,588.81 456.36,588.82 456.60,588.79 456.84,588.81 457.08,588.84 457.31,588.82 457.55,588.80 457.79,588.82 458.03,588.80 458.26,588.83 458.50,588.81 458.74,588.79 458.98,588.80 459.21,588.82 459.45,588.82 459.69,588.79 459.93,588.79 460.16,588.80 460.40,588.79 460.64,588.81 460.88,588.80 461.11,588.81 461.35,588.81 461.59,588.79 461.83,588.82 462.06,588.77 462.30,588.79 462.54,588.81 462.78,588.74 463.02,588.75 463.25,588.75 463.49,588.82 463.73,588.80 463.97,588.80 464.20,588.81 464.44,588.83 464.68,588.82 464.92,588.79 465.15,588.78 465.39,588.76 465.63,588.80 465.87,588.78 466.10,588.79 466.34,588.77 466.58,588.77 466.82,588.74 467.05,588.73 467.29,588.74 467.53,588.70 467.77,588.76 468.00,588.68 468.24,588.70 468.48,588.72 468.72,588.66 468.95,588.71 469.19,588.70 469.43,588.68 469.67,588.69 469.90,588.73 470.14,588.67 470.38,588.70 470.62,588.71 470.85,588.72 471.09,588.74 471.33,588.69 471.57,588.73 471.80,588.68 472.04,588.75 472.28,588.70 472.52,588.73 472.76,588.73 472.99,588.70 473.23,588.69 473.47,588.67 473.71,588.73 473.94,588.72 474.18,588.71 474.42,588.71 474.66,588.70 474.89,588.72 475.13,588.73 475.37,588.70 475.61,588.71 475.84,588.70 476.08,588.69 476.32,588.70 476.56,588.67 476.79,588.72 477.03,588.71 477.27,588.70 477.51,588.71 477.74,588.72 477.98,588.71 478.22,588.68 478.46,588.71 478.69,588.71 478.93,588.73 479.17,588.70 479.41,588.73 479.64,588.71 479.88,588.72 480.12,588.70 480.36,588.69 480.59,588.69 480.83,588.68 481.07,588.67 481.31,588.65 481.54,588.70 481.78,588.70 482.02,588.67 482.26,588.69 482.50,588.68 482.73,588.70 482.97,588.72 483.21,588.72 483.45,588.71 483.68,588.70 483.92,588.71 484.16,588.64 484.40,588.68 484.63,588.67 484.87,588.71 485.11,588.74 485.35,588.69 485.58,588.72 485.82,588.69 486.06,588.62 486.30,588.68 486.53,588.69 486.77,588.61 487.01,588.61 487.25,588.66 487.48,588.59 487.72,588.60 487.96,588.59 488.20,588.57 488.43,588.57 488.67,588.54 488.91,588.61 489.15,588.62 489.38,588.60 489.62,588.56 489.86,588.56 490.10,588.55 490.33,588.50 490.57,588.46 490.81,588.53 491.05,588.54 491.28,588.58 491.52,588.57 491.76,588.53 492.00,588.53 492.24,588.48 492.47,588.54 492.71,588.53 492.95,588.52 493.19,588.48 493.42,588.51 493.66,588.48 493.90,588.53 494.14,588.55 494.37,588.55 494.61,588.53 494.85,588.46 495.09,588.49 495.32,588.48 495.56,588.48 495.80,588.42 496.04,588.47 496.27,588.46 496.51,588.47 496.75,588.43 496.99,588.40 497.22,588.32 497.46,588.27 497.70,588.25 497.94,588.21 498.17,588.20 498.41,588.19 498.65,588.15 498.89,588.15 499.12,588.17 499.36,588.11 499.60,588.11 499.84,588.04 500.07,588.04 500.31,588.00 500.55,587.99 500.79,588.05 501.02,587.95 501.26,587.98 501.50,587.96 501.74,587.89 501.98,587.91 502.21,587.92 502.45,587.94 502.69,587.91 502.93,587.96 503.16,587.96 503.40,587.99 503.64,588.07 503.88,588.07 504.11,588.03 504.35,588.04 504.59,588.04 504.83,588.04 505.06,587.97 505.30,587.87 505.54,587.96 505.78,587.94 506.01,587.89 506.25,587.80 506.49,587.83 506.73,587.90 506.96,587.88 507.20,587.80 507.44,587.82 507.68,587.80 507.91,587.73 508.15,587.81 508.39,587.73 508.63,587.82 508.86,587.75 509.10,587.79 509.34,587.79 509.58,587.75 509.81,587.80 510.05,587.74 510.29,587.75 510.53,587.74 510.76,587.78 511.00,587.85 511.24,587.86 511.48,587.84 511.71,587.89 511.95,587.91 512.19,587.97 512.43,588.03 512.67,587.94 512.90,588.03 513.14,588.08 513.38,588.12 513.62,588.16 513.85,588.24 514.09,588.24 514.33,588.22 514.57,588.16 514.80,588.18 515.04,588.30 515.28,588.27 515.52,588.23 515.75,588.21 515.99,588.24 516.23,588.24 516.47,588.24 516.70,588.27 516.94,588.21 517.18,588.21 517.42,588.31 517.65,588.30 517.89,588.35 518.13,588.39 518.37,588.37 518.60,588.40 518.84,588.40 519.08,588.41 519.32,588.37 519.55,588.37 519.79,588.36 520.03,588.28 520.27,588.31 520.50,588.31 520.74,588.35 520.98,588.28 521.22,588.34 521.45,588.34 521.69,588.27 521.93,588.22 522.17,588.28 522.41,588.32 522.64,588.33 522.88,588.39 523.12,588.29 523.36,588.33 523.59,588.31 523.83,588.25 524.07,588.34 524.31,588.22 524.54,588.25 524.78,588.26 525.02,588.20 525.26,588.12 525.49,588.18 525.73,588.22 525.97,588.18 526.21,588.16 526.44,588.16 526.68,588.24 526.92,588.20 527.16,588.24 527.39,588.21 527.63,588.19 527.87,588.21 528.11,588.22 528.34,588.12 528.58,588.13 528.82,588.12 529.06,588.08 529.29,588.08 529.53,588.05 529.77,588.06 530.01,587.99 530.24,588.01 530.48,588.03 530.72,588.03 530.96,588.07 531.19,588.03 531.43,588.04 531.67,587.96 531.91,588.03 532.15,587.96 532.38,587.98 532.62,587.94 532.86,588.00 533.10,588.00 533.33,588.05 533.57,588.03 533.81,588.02 534.05,588.04 534.28,588.02 534.52,588.03 534.76,588.02 535.00,587.99 535.23,588.01 535.47,588.00 535.71,588.00 535.95,587.98 536.18,588.03 536.42,588.03 536.66,588.03 536.90,588.03 537.13,588.01 537.37,588.02 537.61,588.00 537.85,588.07 538.08,588.05 538.32,588.03 538.56,588.00 538.80,588.01 539.03,588.00 539.27,588.03 539.51,588.00 539.75,588.03 539.98,588.06 540.22,588.07 540.46,588.08 540.70,588.06 540.93,588.03 541.17,588.06 541.41,588.03 541.65,587.92 541.89,587.90 542.12,587.89 542.36,587.88 542.60,587.83 542.84,587.80 543.07,587.86 543.31,587.89 543.55,587.87 543.79,587.90 544.02,587.88 544.26,587.92 544.50,587.87 544.74,587.90 544.97,587.81 545.21,587.81 545.45,587.79 545.69,587.88 545.92,587.96 546.16,588.06 546.40,587.98 546.64,587.91 546.87,587.91 547.11,587.98 547.35,587.85 547.59,587.92 547.82,587.89 548.06,587.95 548.30,587.88 548.54,587.83 548.77,587.85 549.01,587.83 549.25,587.78 549.49,587.79 549.72,587.78 549.96,587.71 550.20,587.74 550.44,587.68 550.67,587.62 550.91,587.54 551.15,587.52 551.39,587.58 551.63,587.46 551.86,587.46 552.10,587.35 552.34,587.37 552.58,587.41 552.81,587.46 553.05,587.31 553.29,587.29 553.53,587.35 553.76,587.14 554.00,587.18 554.24,587.15 554.48,587.12 554.71,587.11 554.95,587.12 555.19,587.10 555.43,586.93 555.66,586.67 555.90,586.59 556.14,586.52 556.38,586.66 556.61,586.89 556.85,587.12 557.09,587.20 557.33,587.36 557.56,587.41 557.80,587.64 558.04,587.63 558.28,587.64 558.51,587.68 558.75,587.58 558.99,587.58 559.23,587.53 559.46,587.43 559.70,587.34 559.94,587.51 560.18,587.48 560.41,587.41 560.65,587.26 560.89,587.33 561.13,587.27 561.37,587.20 561.60,587.42 561.84,587.23 562.08,587.30 562.32,587.20 562.55,587.13 562.79,587.07 563.03,587.02 563.27,586.96 563.50,587.01 563.74,586.93 563.98,587.05 564.22,586.96 564.45,587.01 564.69,586.95 564.93,586.87 565.17,586.86 565.40,586.91 565.64,586.91 565.88,586.78 566.12,586.82 566.35,586.90 566.59,586.94 566.83,586.82 567.07,586.76 567.30,586.72 567.54,586.79 567.78,586.61 568.02,586.44 568.25,586.46 568.49,586.40 568.73,586.32 568.97,586.22 569.20,586.26 569.44,586.23 569.68,586.20 569.92,586.13 570.15,586.11 570.39,586.21 570.63,586.42 570.87,586.42 571.10,586.50 571.34,586.76 571.58,586.74 571.82,586.80 572.06,586.85 572.29,586.97 572.53,587.04 572.77,587.16 573.01,587.07 573.24,587.05 573.48,587.16 573.72,587.13 573.96,587.12 574.19,587.16 574.43,587.17 574.67,587.22 574.91,587.19 575.14,587.16 575.38,587.20 575.62,587.20 575.86,587.01 576.09,586.90 576.33,586.84 576.57,586.81 576.81,586.73 577.04,586.71 577.28,586.56 577.52,586.54 577.76,586.44 577.99,586.60 578.23,586.48 578.47,586.40 578.71,586.31 578.94,586.43 579.18,586.58 579.42,586.58 579.66,586.58 579.89,586.48 580.13,586.42 580.37,586.33 580.61,586.34 580.84,586.36 581.08,586.27 581.32,586.23 581.56,586.03 581.80,585.94 582.03,585.88 582.27,585.87 582.51,585.85 582.75,585.88 582.98,585.91 583.22,585.85 583.46,585.95 583.70,585.92 583.93,585.67 584.17,585.61 584.41,585.51 584.65,585.49 584.88,585.39 585.12,585.46 585.36,585.22 585.60,584.80 585.83,584.51 586.07,584.56 586.31,584.46 586.55,584.45 586.78,584.26 587.02,584.36 587.26,584.24 587.50,583.98 587.73,583.77 587.97,583.68 588.21,583.24 588.45,583.56 588.68,583.42 588.92,583.03 589.16,582.66 589.40,582.42 589.63,582.44 589.87,583.16 590.11,583.65 590.35,583.34 590.58,583.16 590.82,582.95 591.06,582.69 591.30,582.72 591.54,582.36 591.77,581.99 592.01,582.08 592.25,581.91 592.49,581.81 592.72,581.69 592.96,581.64 593.20,581.19 593.44,581.36 593.67,581.08 593.91,581.08 594.15,581.66 594.39,582.15 594.62,582.59 594.86,582.77 595.10,582.68 595.34,582.58 595.57,582.64 595.81,582.77 596.05,582.79 596.29,582.52 596.52,582.68 596.76,582.53 597.00,582.75 597.24,582.77 597.47,582.84 597.71,582.48 597.95,582.55 598.19,582.43 598.42,582.44 598.66,582.50 598.90,582.47 599.14,582.66 599.37,582.89 599.61,583.22 599.85,583.19 600.09,583.22 600.32,583.48 600.56,583.38 600.80,583.52 601.04,583.51 601.28,584.01 601.51,583.94 601.75,584.19 601.99,584.25 602.23,584.03 602.46,583.97 602.70,583.55 602.94,583.47 603.18,583.17 603.41,582.86 603.65,582.43 603.89,582.12 604.13,582.14 604.36,582.14 604.60,581.90 604.84,581.61 605.08,581.65 605.31,581.23 605.55,581.04 605.79,581.01 606.03,581.11 606.26,580.62 606.50,580.70 606.74,580.32 606.98,580.31 607.21,580.07 607.45,579.81 607.69,579.53 607.93,579.20 608.16,579.24 608.40,578.72 608.64,578.80 608.88,578.28 609.11,577.55 609.35,577.28 609.59,577.00 609.83,576.91 610.06,577.09 610.30,577.30 610.54,577.12 610.78,576.75 611.02,576.14 611.25,576.08 611.49,575.83 611.73,575.63 611.97,575.40 612.20,575.52 612.44,575.67 612.68,575.52 612.92,575.32 613.15,575.18 613.39,575.72 613.63,576.17 613.87,576.60 614.10,576.64 614.34,577.10 614.58,577.55 614.82,577.74 615.05,578.80 615.29,579.22 615.53,579.78 615.77,579.75 616.00,580.01 616.24,580.32 616.48,580.09 616.72,579.66 616.95,579.22 617.19,578.68 617.43,578.55 617.67,578.21 617.90,578.18 618.14,577.88 618.38,577.58 618.62,577.54 618.85,577.67 619.09,577.36 619.33,577.43 619.57,577.65 619.80,577.48 620.04,577.16 620.28,576.70 620.52,576.59 620.75,576.37 620.99,576.22 621.23,575.30 621.47,575.00 621.71,574.66 621.94,574.25 622.18,574.82 622.42,574.42 622.66,573.91 622.89,573.67 623.13,572.77 623.37,572.69 623.61,572.97 623.84,572.75 624.08,572.57 624.32,572.17 624.56,571.73 624.79,571.86 625.03,571.16 625.27,571.50 625.51,571.55 625.74,571.36 625.98,570.82 626.22,570.05 626.46,570.52 626.69,570.12 626.93,570.23 627.17,569.82 627.41,569.22 627.64,569.74 627.88,568.09 628.12,568.88 628.36,568.90 628.59,568.64 628.83,568.44 629.07,568.50 629.31,567.62 629.54,568.46 629.78,569.98 630.02,571.54 630.26,572.01 630.49,570.38 630.73,569.14 630.97,568.70 631.21,568.20 631.45,567.05 631.68,566.41 631.92,566.53 632.16,565.21 632.40,563.92 632.63,563.88 632.87,562.38 633.11,562.03 633.35,561.90 633.58,561.65 633.82,560.38 634.06,559.84 634.30,559.76 634.53,558.37 634.77,557.04 635.01,554.53 635.25,551.93 635.48,547.85 635.72,546.44 635.96,543.74 636.20,540.11 636.43,542.56 636.67,543.69 636.91,547.67 637.15,544.71 637.38,543.10 637.62,540.14 637.86,537.64 638.10,533.40 638.33,531.03 638.57,531.64 638.81,535.63 639.05,539.93 639.28,542.87 639.52,545.26 639.76,548.27 640.00,547.59 640.23,544.81 640.47,541.73 640.71,541.62 640.95,544.29 641.19,548.03 641.42,550.02 641.66,551.90 641.90,548.57 642.14,548.00 642.37,545.86 642.61,544.39 642.85,542.28 643.09,542.14 643.32,538.29 643.56,541.09 643.80,544.92 644.04,545.75 644.27,548.02 644.51,549.30 644.75,550.88 644.99,552.30 645.22,554.20 645.46,555.06 645.70,556.13 645.94,555.43 646.17,554.01 646.41,552.25 646.65,551.30 646.89,551.28 647.12,552.53 647.36,553.52 647.60,554.66 647.84,554.26 648.07,556.32 648.31,556.61 648.55,558.14 648.79,558.10 649.02,557.59 649.26,559.16 649.50,560.59 649.74,564.11 649.97,565.69 650.21,567.36 650.45,569.14 650.69,566.72 650.93,566.44 651.16,564.31 651.40,563.92 651.64,563.92 651.88,562.43 652.11,562.07 652.35,561.37 652.59,560.70 652.83,558.31 653.06,558.37 653.30,558.96 653.54,557.46 653.78,555.58 654.01,556.13 654.25,555.75 654.49,555.39 654.73,555.32 654.96,554.75 655.20,554.60 655.44,554.38 655.68,554.54 655.91,555.07 656.15,555.68 656.39,555.22 656.63,556.13 656.86,555.23 657.10,554.69 657.34,556.49 657.58,557.40 657.81,557.50 658.05,558.21 658.29,557.72 658.53,559.31 658.76,560.74 659.00,560.83 659.24,563.10 659.48,563.43 659.71,563.65 659.95,565.61 660.19,565.21 660.43,563.29 660.67,562.79 660.90,562.83 661.14,562.56 661.38,563.01 661.62,563.53 661.85,565.26 662.09,566.31 662.33,566.30 662.57,566.46 662.80,567.65 663.04,568.18 663.28,568.28 663.52,569.14 663.75,570.14 663.99,570.14 664.23,570.19 664.47,570.80 664.70,570.04 664.94,569.24 665.18,569.13 665.42,568.35 665.65,568.21 665.89,568.99 666.13,568.06 666.37,567.63 666.60,566.66 666.84,567.53 667.08,566.52 667.32,566.04 667.55,565.56 667.79,564.07 668.03,564.13 668.27,562.63 668.50,562.59 668.74,562.38 668.98,561.19 669.22,560.97 669.45,561.24 669.69,560.39 669.93,560.14 670.17,559.19 670.41,559.28 670.64,560.35 670.88,560.64 671.12,559.65 671.36,560.35 671.59,560.37 671.83,560.22 672.07,560.12 672.31,559.92 672.54,559.68 672.78,559.45 673.02,560.42 673.26,562.17 673.49,562.48 673.73,563.63 673.97,563.35 674.21,563.96 674.44,564.56 674.68,564.51 674.92,565.00 675.16,566.33 675.39,566.07 675.63,565.68 675.87,566.42 676.11,567.22 676.34,567.76 676.58,567.69 676.82,568.54 677.06,568.53 677.29,569.20 677.53,568.39 677.77,567.56 678.01,568.84 678.24,568.82 678.48,568.95 678.72,569.54 678.96,570.05 679.19,569.82 679.43,569.68 679.67,569.62 679.91,569.83 680.14,569.44 680.38,569.01 680.62,569.76 680.86,570.05 681.10,570.06 681.33,571.22 681.57,569.66 681.81,569.72 682.05,569.75 682.28,569.88 682.52,569.43 682.76,569.02 683.00,568.75 683.23,569.20 683.47,570.04 683.71,570.55 683.95,571.09 684.18,571.39 684.42,572.29 684.66,572.16 684.90,572.26 685.13,572.55 685.37,572.40 685.61,572.56 685.85,571.80 686.08,571.80 686.32,571.77 686.56,571.27 686.80,570.09 687.03,570.09 687.27,570.65 687.51,570.19 687.75,570.67 687.98,570.89 688.22,570.09 688.46,570.32 688.70,570.47 688.93,570.65 689.17,569.44 689.41,569.05 689.65,568.08 689.88,567.43 690.12,566.72 690.36,566.67 690.60,565.35 690.84,564.90 691.07,565.26 691.31,565.28 691.55,565.76 691.79,566.42 692.02,566.83 692.26,568.46 692.50,567.36 692.74,568.55 692.97,569.35 693.21,569.82 693.45,570.94 693.69,570.25 693.92,570.72 694.16,570.97 694.40,571.23 694.64,570.94 694.87,570.74 695.11,570.98 695.35,571.06 695.59,571.25 695.82,570.70 696.06,570.65 696.30,570.00 696.54,569.74 696.77,569.09 697.01,568.65 697.25,569.36 697.49,569.16 697.72,568.83 697.96,569.10 698.20,568.26 698.44,568.62 698.67,568.88 698.91,569.30 699.15,568.67 699.39,568.41 699.62,568.83 699.86,568.70 700.10,568.98 700.34,568.00 700.58,567.99 700.81,567.62 701.05,568.77 701.29,570.78 701.53,571.25 701.76,571.01 702.00,572.12 702.24,571.59 702.48,571.41 702.71,571.10 702.95,570.94 703.19,571.54 703.43,571.81 703.66,571.28 703.90,571.41 704.14,571.19 704.38,570.78 704.61,571.69 704.85,570.89 705.09,570.88 705.33,571.93 705.56,571.12 705.80,570.83 706.04,571.47 706.28,570.05 706.51,570.34 706.75,570.59 706.99,570.04 707.23,569.95 707.46,569.97 707.70,569.38 707.94,570.28 708.18,569.57 708.41,569.87 708.65,570.10 708.89,570.75 709.13,570.06 709.36,569.62 709.60,569.67 709.84,569.91 710.08,569.49 710.32,570.35 710.55,571.14 710.79,570.97 711.03,571.48 711.27,570.58 711.50,569.79 711.74,570.58 711.98,570.57 712.22,571.07 712.45,570.68 712.69,570.83 712.93,571.07 713.17,570.78 713.40,570.85 713.64,571.63 713.88,571.01 714.12,570.84 714.35,571.21 714.59,571.35 714.83,571.37 715.07,571.26 715.30,571.33 715.54,570.96 715.78,571.40 716.02,570.80 716.25,570.26 716.49,570.92 716.73,571.23 716.97,570.73 717.20,570.95 717.44,572.04 717.68,572.83 717.92,573.68 718.15,574.22 718.39,574.94 718.63,575.20 718.87,576.39 719.10,576.21 719.34,577.01 719.58,577.10 719.82,577.54 720.06,578.51 720.29,578.46 720.53,577.97 720.77,578.05 721.01,577.92 721.24,578.07 721.48,578.10 721.72,578.22 721.96,577.86 722.19,578.40 722.43,578.21 722.67,578.73 722.91,578.43 723.14,578.62 723.38,578.70 723.62,579.05 723.86,579.26 724.09,579.28 724.33,579.58 724.57,579.69 724.81,580.32 725.04,580.10 725.28,579.86 725.52,579.34 725.76,579.30 725.99,579.51 726.23,579.20 726.47,578.60 726.71,578.02 726.94,577.60 727.18,577.76 727.42,577.55 727.66,578.48 727.89,578.55 728.13,578.27 728.37,578.70 728.61,578.81 728.84,578.61 729.08,578.74 729.32,578.67 729.56,578.85 729.80,579.23 730.03,578.58 730.27,579.12 730.51,579.09 730.75,579.17 730.98,579.11 731.22,579.39 731.46,579.08 731.70,579.41 731.93,579.26 732.17,579.08 732.41,578.94 732.65,579.12 732.88,578.92 733.12,579.15 733.36,578.52 733.60,578.96 733.83,578.83 734.07,578.92 734.31,579.11 734.55,578.84 734.78,579.11 735.02,579.52 735.26,579.17 735.50,579.29 735.73,579.08 735.97,579.20 736.21,579.00 736.45,578.94 736.68,578.94 736.92,579.01 737.16,579.44 737.40,579.27 737.63,579.72 737.87,579.60 738.11,579.58 738.35,579.72 738.58,579.17 738.82,579.36 739.06,579.39 739.30,578.95 739.53,579.17 739.77,579.29 740.01,578.84 740.25,578.74 740.49,578.40 740.72,578.90 740.96,578.77 741.20,578.72 741.44,577.54 741.67,577.60 741.91,577.88 742.15,577.49 742.39,577.72 742.62,577.44 742.86,577.48 743.10,577.61 743.34,577.52 743.57,577.38 743.81,577.29 744.05,577.19 744.29,577.38 744.52,577.31 744.76,577.35 745.00,576.97 745.24,577.13 745.47,577.43 745.71,577.23 745.95,577.31 746.19,577.43 746.42,577.48 746.66,577.43 746.90,577.27 747.14,577.62 747.37,577.26 747.61,577.41 747.85,577.32 748.09,577.32 748.32,577.44 748.56,577.57 748.80,577.35 749.04,577.67 749.27,577.79 749.51,577.79 749.75,577.32 749.99,577.60 750.23,576.51 750.46,575.18 750.70,575.04 750.94,574.54 751.18,574.35 751.41,574.40 751.65,573.87 751.89,574.33 752.13,574.40 752.36,574.42 752.60,574.99 752.84,574.89 753.08,574.69 753.31,574.42 753.55,573.76 753.79,574.11 754.03,574.51 754.26,574.77 754.50,574.20 754.74,573.77 754.98,573.18 755.21,573.99 755.45,573.37 755.69,573.39 755.93,573.28 756.16,572.99 756.40,572.99 756.64,572.21 756.88,571.65 757.11,570.47 757.35,570.29 757.59,569.79 757.83,570.36 758.06,569.71 758.30,570.23 758.54,570.02 758.78,569.56 759.01,569.79 759.25,569.52 759.49,568.84 759.73,568.83 759.97,568.18 760.20,567.92 760.44,565.81 760.68,566.81 760.92,565.87 761.15,565.40 761.39,564.78 761.63,565.77 761.87,564.72 762.10,564.65 762.34,564.30 762.58,564.61 762.82,563.75 763.05,564.09 763.29,564.03 763.53,563.88 763.77,564.69 764.00,563.95 764.24,563.69 764.48,563.18 764.72,564.80 764.95,564.80 765.19,565.20 765.43,565.64 765.67,566.00 765.90,566.41 766.14,564.92 766.38,565.30 766.62,563.48 766.85,563.10 767.09,561.99 767.33,561.87 767.57,561.91 767.80,561.51 768.04,559.95 768.28,559.57 768.52,558.27 768.75,557.23 768.99,557.28 769.23,556.14 769.47,554.69 769.71,554.86 769.94,553.96 770.18,553.86 770.42,553.35 770.66,550.99 770.89,551.95 771.13,551.18 771.37,552.68 771.61,554.84 771.84,555.57 772.08,557.65 772.32,556.47 772.56,555.37 772.79,556.11 773.03,556.47 773.27,556.02 773.51,553.25 773.74,554.29 773.98,552.20 774.22,553.83 774.46,553.04 774.69,555.27 774.93,556.28 775.17,558.91 775.41,561.11 775.64,561.27 775.88,561.40 776.12,561.27 776.36,560.11 776.59,560.01 776.83,560.44 777.07,559.65 777.31,559.66 777.54,560.07 777.78,561.12 778.02,561.76 778.26,561.35 778.49,560.53 778.73,559.63 778.97,557.78 779.21,558.35 779.45,557.07 779.68,557.25 779.92,556.04 780.16,554.40 780.40,554.32 780.63,554.38 780.87,556.27 781.11,556.24 781.35,554.46 781.58,555.33 781.82,554.57 782.06,554.42 782.30,554.46 782.53,556.13 782.77,554.51 783.01,555.36 783.25,555.63 783.48,557.32 783.72,557.51 783.96,556.96 784.20,557.43 784.43,557.34 784.67,558.27 784.91,559.16 785.15,559.25 785.38,561.47 785.62,560.74 785.86,561.27 786.10,561.86 786.33,561.03 786.57,562.30 786.81,561.77 787.05,561.13 787.28,561.25 787.52,561.60 787.76,561.24 788.00,560.67 788.23,560.87 788.47,561.37 788.71,560.91 788.95,561.03 789.19,559.82 789.42,559.83 789.66,559.61 789.90,561.51 790.14,559.63 790.37,558.83 790.61,559.16 790.85,560.39 791.09,560.67 791.32,561.40 791.56,562.73 791.80,563.25 792.04,564.06 792.27,564.30 792.51,564.78 792.75,564.84 792.99,563.60 793.22,565.14 793.46,564.20 793.70,564.28 793.94,564.86 794.17,564.30 794.41,564.71 794.65,564.25 794.89,564.67 795.12,564.45 795.36,563.88 795.60,565.86 795.84,565.13 796.07,565.79 796.31,565.93 796.55,566.24 796.79,566.73 797.02,567.49 797.26,566.37 797.50,567.42 797.74,566.80 797.97,567.47 798.21,567.21 798.45,567.21 798.69,567.35 798.92,567.32 799.16,565.54 799.40,563.42 799.64,561.27 799.88,560.95 800.11,560.25 800.35,561.15 800.59,561.38 800.83,561.01 801.06,560.91 801.30,562.64 801.54,562.61 801.78,562.96 802.01,562.79 802.25,562.44 802.49,563.32 802.73,562.54 802.96,562.94 803.20,562.79 803.44,563.27 803.68,564.04 803.91,564.22 804.15,563.07 804.39,563.89 804.63,565.45 804.86,565.61 805.10,565.54 805.34,565.72 805.58,566.21 805.81,566.73 806.05,566.54 806.29,567.74 806.53,568.54 806.76,568.83 807.00,569.04 807.24,569.36 807.48,569.24 807.71,568.44 807.95,568.33 808.19,568.98 808.43,568.31 808.66,568.61 808.90,568.62 809.14,568.63 809.38,568.61 809.62,568.25 809.85,568.79 810.09,569.01 810.33,568.94 810.57,568.54 810.80,568.85 811.04,569.16 811.28,569.03 811.52,569.20 811.75,569.45 811.99,569.74 812.23,569.66 812.47,569.77 812.70,569.69 812.94,569.74 813.18,569.68 813.42,569.29 813.65,568.52 813.89,568.93 814.13,569.17 814.37,568.81 814.60,568.06 814.84,568.36 815.08,567.89 815.32,568.23 815.55,568.12 815.79,569.25 816.03,568.61 816.27,568.20 816.50,568.46 816.74,567.11 816.98,566.66 817.22,566.62 817.45,565.46 817.69,564.91 817.93,563.30 818.17,563.63 818.40,563.68 818.64,563.39 818.88,563.30 819.12,562.57 819.36,562.29 819.59,562.44 819.83,562.80 820.07,562.71 820.31,562.18 820.54,562.32 820.78,562.30 821.02,561.86 821.26,560.39 821.49,561.87 821.73,561.05 821.97,562.21 822.21,561.64 822.44,562.25 822.68,561.58 822.92,560.97 823.16,561.60 823.39,560.84 823.63,560.02 823.87,560.71 824.11,559.54 824.34,559.06 824.58,560.12 824.82,560.06 825.06,560.11 825.29,560.44 825.53,559.80 825.77,558.55 826.01,559.02 826.24,558.18 826.48,557.68 826.72,559.24 826.96,558.45 827.19,560.13 827.43,560.19 827.67,559.59 827.91,560.47 828.14,560.37 828.38,561.32 828.62,561.43 828.86,562.43 829.10,562.26 829.33,563.69 829.57,564.28 829.81,564.79 830.05,564.42 830.28,564.34 830.52,564.52 830.76,563.83 831.00,565.01 831.23,564.63 831.47,565.81 831.71,568.22 831.95,571.04 832.18,573.05 832.42,575.18 832.66,574.68 832.90,574.39 833.13,573.67 833.37,573.12 833.61,572.95 833.85,572.38 834.08,572.68 834.32,572.87 834.56,572.80 834.80,572.56 835.03,573.06 835.27,572.46 835.51,572.21 835.75,572.34 835.98,572.00 836.22,572.74 836.46,571.83 836.70,571.35 836.93,570.65 837.17,570.11 837.41,570.91 837.65,570.15 837.88,570.31 838.12,570.32 838.36,570.62 838.60,569.70 838.84,569.43 839.07,569.02 839.31,568.93 839.55,569.73 839.79,568.83 840.02,567.63 840.26,567.22 840.50,568.20 840.74,568.79 840.97,567.68 841.21,567.67 841.45,566.61 841.69,566.88 841.92,566.34 842.16,567.39 842.40,566.83 842.64,564.90 842.87,565.46 843.11,563.89 843.35,563.59 843.59,563.23 843.82,563.39 844.06,562.20 844.30,561.90 844.54,561.40 844.77,561.49 845.01,560.93 845.25,560.21 845.49,559.75 845.72,559.76 845.96,561.39 846.20,561.64 846.44,563.69 846.67,563.81 846.91,563.75 847.15,562.77 847.39,562.50 847.62,561.29 847.86,562.19 848.10,561.64 848.34,561.07 848.58,561.29 848.81,560.96 849.05,561.80 849.29,560.08 849.53,560.26 849.76,558.91 850.00,558.81 850.24,558.76 850.48,559.00 850.71,559.06 850.95,558.25 851.19,558.82 851.43,558.86 851.66,559.16 851.90,560.41 852.14,560.11 852.38,559.04 852.61,559.17 852.85,559.40 853.09,558.27 853.33,560.14 853.56,560.04 853.80,560.76 854.04,559.71 854.28,560.05 854.51,560.83 854.75,560.73 854.99,561.54 855.23,561.44 855.46,561.96 855.70,561.77 855.94,561.53 856.18,562.56 856.41,561.61 856.65,560.45 856.89,561.73 857.13,562.21 857.36,562.23 857.60,563.42 857.84,562.79 858.08,562.85 858.31,563.15 858.55,563.18 858.79,563.04 859.03,563.19 859.27,563.49 859.50,563.96 859.74,563.26 859.98,563.19 860.22,562.58 860.45,563.08 860.69,562.22 860.93,562.32 861.17,562.30 861.40,562.42 861.64,562.11 861.88,562.10 862.12,562.95 862.35,562.84 862.59,562.61 862.83,562.53 863.07,561.99 863.30,562.09 863.54,561.58 863.78,560.22 864.02,559.55 864.25,558.30 864.49,557.75 864.73,558.34 864.97,556.74 865.20,556.53 865.44,556.82 865.68,557.25 865.92,557.20 866.15,557.22 866.39,556.64 866.63,557.04 866.87,557.31 867.10,556.69 867.34,557.52 867.58,557.59 867.82,556.96 868.05,556.46 868.29,554.65 868.53,555.74 868.77,554.99 869.01,554.52 869.24,555.56 869.48,553.97 869.72,553.80 869.96,552.81 870.19,553.45 870.43,553.01 870.67,553.31 870.91,554.49 871.14,555.50 871.38,556.46 871.62,555.89 871.86,556.73 872.09,556.45 872.33,556.80 872.57,557.60 872.81,559.97 873.04,558.76 873.28,559.34 873.52,558.25 873.76,559.00 873.99,559.41 874.23,560.21 874.47,559.76 874.71,559.86 874.94,560.35 875.18,560.61 875.42,559.79 875.66,559.27 875.89,559.26 876.13,558.86 876.37,557.51 876.61,558.00 876.84,556.75 877.08,556.28 877.32,557.30 877.56,556.38 877.79,557.19 878.03,556.90 878.27,557.23 878.51,557.38 878.75,557.90 878.98,559.22 879.22,557.00 879.46,556.84 879.70,557.50 879.93,556.73 880.17,557.62 880.41,557.34 880.65,556.97 880.88,555.46 881.12,555.85 881.36,554.54 881.60,554.29 881.83,553.90 882.07,554.44 882.31,556.06 882.55,554.71 882.78,552.83 883.02,553.53 883.26,555.26 883.50,552.48 883.73,553.17 883.97,552.41 884.21,552.00 884.45,552.89 884.68,551.47 884.92,550.66 885.16,550.98 885.40,551.30 885.63,550.05 885.87,550.95 886.11,547.21 886.35,546.60 886.58,545.87 886.82,547.18 887.06,545.46 887.30,548.18 887.53,545.17 887.77,544.44 888.01,542.97 888.25,543.53 888.49,544.46 888.72,543.78 888.96,543.13 889.20,542.70 889.44,542.26 889.67,541.45 889.91,538.30 890.15,538.05 890.39,538.76 890.62,540.03 890.86,536.77 891.10,536.86 891.34,534.45 891.57,536.10 891.81,536.48 892.05,535.61 892.29,532.56 892.52,532.78 892.76,532.51 893.00,530.23 893.24,531.95 893.47,532.25 893.71,534.76 893.95,538.29 894.19,535.32 894.42,535.90 894.66,535.11 894.90,536.66 895.14,535.20 895.37,536.20 895.61,535.63 895.85,536.99 896.09,534.62 896.32,533.82 896.56,535.02 896.80,534.43 897.04,534.00 897.27,534.26 897.51,531.42 897.75,531.26 897.99,528.83 898.23,528.67 898.46,526.52 898.70,525.59 898.94,525.95 899.18,526.17 899.41,521.87 899.65,522.09 899.89,521.71 900.13,523.64 900.36,521.46 900.60,517.78 900.84,518.33 901.08,513.03 901.31,509.87 901.55,506.63 901.79,503.70 902.03,502.51 902.26,502.31 902.50,497.09 902.74,492.98 902.98,488.45 903.21,485.23 903.45,478.13 903.69,477.69 903.93,475.39 904.16,466.93 904.40,475.90 904.64,487.51 904.88,487.19 905.11,479.64 905.35,476.86 905.59,472.07 905.83,475.86 906.06,481.23 906.30,488.32 906.54,486.09 906.78,490.36 907.01,494.34 907.25,493.98 907.49,496.87 907.73,497.97 907.97,493.23 908.20,498.78 908.44,491.74 908.68,486.83 908.92,484.31 909.15,479.44 909.39,479.96 909.63,477.49 909.87,472.92 910.10,471.89 910.34,468.75 910.58,466.31 910.82,461.11 911.05,462.22 911.29,453.07 911.53,450.91 911.77,441.08 912.00,441.17 912.24,445.30 912.48,444.04 912.72,444.25 912.95,433.48 913.19,431.21 913.43,433.26 913.67,432.01 913.90,433.11 914.14,425.10 914.38,428.96 914.62,416.13 914.85,426.22 915.09,430.01 915.33,438.54 915.57,439.81 915.80,447.20 916.04,452.68 916.28,453.93 916.52,446.37 916.75,443.63 916.99,432.38 917.23,430.31 917.47,432.90 917.70,433.78 917.94,435.81 918.18,425.01 918.42,425.66 918.66,419.80 918.89,420.26 919.13,413.06 919.37,405.55 919.61,406.85 919.84,415.40 920.08,419.67 920.32,415.51 920.56,417.41 920.79,421.97 921.03,421.87 921.27,424.54 921.51,426.62 921.74,436.17 921.98,431.17 922.22,432.76 922.46,429.64 922.69,432.85 922.93,424.49 923.17,419.99 923.41,420.58 923.64,414.38 923.88,416.11 924.12,416.68 924.36,412.75 924.59,405.64 924.83,406.15 925.07,412.17 925.31,414.31 925.54,410.32 925.78,408.91 926.02,409.10 926.26,404.82 926.49,402.05 926.73,397.99 926.97,404.25 927.21,407.42 927.44,401.76 927.68,413.33 927.92,408.80 928.16,427.68 928.40,426.53 928.63,434.62 928.87,437.77 929.11,445.70 929.35,442.86 929.58,441.84 929.82,441.96 930.06,437.08 930.30,444.33 930.53,440.65 930.77,437.03 931.01,432.13 931.25,430.72 931.48,429.00 931.72,423.54 931.96,421.87 932.20,418.58 932.43,414.84 932.67,414.62 932.91,415.80 933.15,425.81 933.38,430.60 933.62,435.95 933.86,446.76 934.10,455.51 934.33,461.44 934.57,467.69 934.81,470.51 935.05,471.90 935.28,478.12 935.52,474.96 935.76,479.47 936.00,475.57 936.23,479.57 936.47,475.32 936.71,475.67 936.95,478.70 937.18,481.62 937.42,475.79 937.66,476.55 937.90,475.96 938.14,478.12 938.37,481.51 938.61,483.55 938.85,481.12 939.09,481.73 939.32,484.47 939.56,483.42 939.80,483.52 940.04,488.73 940.27,486.03 940.51,485.28 940.75,485.42 940.99,486.70 941.22,487.12 941.46,484.43 941.70,485.54 941.94,483.62 942.17,486.67 942.41,487.92 942.65,489.42 942.89,487.19 943.12,493.17 943.36,493.24 943.60,495.40 943.84,497.28 944.07,496.09 944.31,495.87 944.55,495.88 944.79,496.00 945.02,495.00 945.26,493.91 945.50,495.57 945.74,496.22 945.97,496.53 946.21,492.78 946.45,499.03 946.69,498.24 946.92,497.69 947.16,496.58 947.40,494.70 947.64,499.55 947.88,502.56 948.11,499.79 948.35,497.10 948.59,496.57 948.83,497.20 949.06,494.56 949.30,495.70 949.54,497.20 949.78,497.74 950.01,499.89 950.25,498.18 950.49,492.84 950.73,489.56 950.96,489.52 951.20,486.42 951.44,483.30 951.68,477.45 951.91,478.44 952.15,474.41 952.39,473.57 952.63,464.51 952.86,465.71 953.10,464.53 953.34,465.39 953.58,468.01 953.81,469.55 954.05,467.60 954.29,462.15 954.53,463.26 954.76,461.33 955.00,465.19 955.24,464.47 955.48,464.66 955.71,462.10 955.95,462.93 956.19,465.30 956.43,465.17 956.66,458.38 956.90,454.42 957.14,450.53 957.38,451.10 957.62,446.34 957.85,441.84 958.09,440.38 958.33,442.48 958.57,438.99 958.80,438.53 959.04,434.05 959.28,434.62 959.52,433.88 959.75,428.91 959.99,432.90 960.23,434.54 960.47,432.03 960.70,428.77 960.94,434.65 961.18,426.87 961.42,433.37 961.65,438.14 961.89,445.71 962.13,438.76 962.37,444.23 962.60,446.61 962.84,452.83 963.08,452.62 963.32,456.12 963.55,456.84 963.79,460.87 964.03,468.29 964.27,465.68 964.50,462.72 964.74,464.08 964.98,467.24 965.22,464.02 965.45,459.64 965.69,459.19 965.93,460.12 966.17,454.84 966.40,451.30 966.64,448.91 966.88,445.15 967.12,445.15 967.36,444.86 967.59,447.82 967.83,445.07 968.07,439.95 968.31,432.58 968.54,430.23 968.78,427.31 969.02,424.71 969.26,419.92 969.49,416.18 969.73,419.77 969.97,421.99 970.21,423.72 970.44,417.71 970.68,422.13 970.92,408.53 971.16,408.51 971.39,405.82 971.63,401.29 971.87,390.43 972.11,395.57 972.34,401.57 972.58,392.60 972.82,401.90 973.06,406.85 973.29,412.69 973.53,414.62 973.77,416.61 974.01,418.03 974.24,407.42 974.48,402.74 974.72,398.76 974.96,396.27 975.19,407.87 975.43,395.33 975.67,395.97 975.91,392.15 976.14,390.54 976.38,393.79 976.62,385.90 976.86,382.92 977.09,385.14 977.33,391.97 977.57,390.58 977.81,393.40 978.05,394.20 978.28,406.07 978.52,405.58 978.76,417.95 979.00,418.75 979.23,421.17 979.47,420.98 979.71,425.11 979.95,430.98 980.18,426.96 980.42,432.96 980.66,432.40 980.90,437.38 981.13,436.24 981.37,447.03 981.61,438.29 981.85,442.12 982.08,445.90 982.32,438.77 982.56,441.84 982.80,442.53 983.03,442.87 983.27,441.97 983.51,442.29 983.75,440.56 983.98,441.17 984.22,442.09 984.46,441.46 984.70,441.23 984.93,443.20 985.17,440.85 985.41,444.06 985.65,444.86 985.88,441.47 986.12,445.63 986.36,444.48 986.60,441.74 986.83,449.31 987.07,441.08 987.31,443.19 987.55,437.09 987.79,434.42 988.02,436.70 988.26,436.47 988.50,440.50 988.74,447.54 988.97,450.00 989.21,449.98 989.45,449.67 989.69,453.86 989.92,450.05 990.16,454.20 990.40,448.10 990.64,452.05 990.87,458.70 991.11,458.00 991.35,463.61 991.59,463.82 991.82,467.23 992.06,467.03 992.30,464.63 992.54,465.24 992.77,471.39 993.01,472.01 993.25,471.23 993.49,474.78 993.72,477.48 993.96,483.38 994.20,484.17 994.44,480.61 994.67,486.72 994.91,483.28 995.15,479.61 995.39,479.49 995.62,480.63 995.86,481.03 996.10,477.72 996.34,475.05 996.57,467.40 996.81,469.66 997.05,463.43 997.29,466.41 997.53,466.81 997.76,462.30 998.00,463.26 998.24,464.20 998.48,453.77 998.71,456.95 998.95,459.29 999.19,460.82 999.43,464.93 999.66,464.75 999.90,465.46 1000.14,468.12 1000.38,468.82 1000.61,474.93 1000.85,467.45 1001.09,465.79 1001.33,469.33 1001.56,475.29 1001.80,472.91 1002.04,475.10 1002.28,470.57 1002.51,473.73 1002.75,473.26 1002.99,472.67 1003.23,469.22 1003.46,467.52 1003.70,465.49 1003.94,465.58 1004.18,467.54 1004.41,456.64 1004.65,462.42 1004.89,460.40 1005.13,457.50 1005.36,456.61 1005.60,456.45 1005.84,456.88 1006.08,455.48 1006.31,452.57 1006.55,458.39 1006.79,459.38 1007.03,458.73 1007.27,465.81 1007.50,458.32 1007.74,465.60 1007.98,464.87 1008.22,466.03 1008.45,466.41 1008.69,466.17 1008.93,461.14 1009.17,458.90 1009.40,453.05 1009.64,450.76 1009.88,446.67 1010.12,452.61 1010.35,457.13 1010.59,458.90 1010.83,458.14 1011.07,453.00 1011.30,456.71 1011.54,458.59 1011.78,463.85 1012.02,465.61 1012.25,468.12 1012.49,463.21 1012.73,463.93 1012.97,470.56 1013.20,469.29 1013.44,470.82 1013.68,472.67 1013.92,475.89 1014.15,471.67 1014.39,470.29 1014.63,468.38 1014.87,470.58 1015.10,467.50 1015.34,471.23 1015.58,471.86 1015.82,472.09 1016.05,471.62 1016.29,473.07 1016.53,471.03 1016.77,473.89 1017.01,470.83 1017.24,468.67 1017.48,471.87 1017.72,470.47 1017.96,472.36 1018.19,474.98 1018.43,469.96 1018.67,476.84 1018.91,475.97 1019.14,480.82 1019.38,483.97 1019.62,485.82 1019.86,493.09 1020.09,494.66 1020.33,502.31 1020.57,505.01 1020.81,501.57 1021.04,497.95 1021.28,497.53 1021.52,502.47 1021.76,504.02 1021.99,502.39 1022.23,500.30 1022.47,497.88 1022.71,499.95 1022.94,502.07 1023.18,501.48 1023.42,498.51 1023.66,494.97 1023.89,494.53 1024.13,495.33 1024.37,496.82 1024.61,496.96 1024.84,494.60 1025.08,497.24 1025.32,494.52 1025.56,494.00 1025.79,495.08 1026.03,492.44 1026.27,495.36 1026.51,498.13 1026.75,500.80 1026.98,503.43 1027.22,504.55 1027.46,509.00 1027.70,513.48 1027.93,520.01 1028.17,520.80 1028.41,525.18 1028.65,528.95 1028.88,532.02 1029.12,532.55 1029.36,531.70 1029.60,530.32 1029.83,527.15 1030.07,528.98 1030.31,527.72 1030.55,527.85 1030.78,528.45 1031.02,529.14 1031.26,527.91 1031.50,527.88 1031.73,527.30 1031.97,525.15 1032.21,525.93 1032.45,525.64 1032.68,525.06 1032.92,524.97 1033.16,525.03 1033.40,527.84 1033.63,524.93 1033.87,524.69 1034.11,525.44 1034.35,525.25 1034.58,525.57 1034.82,524.59 1035.06,520.96 1035.30,522.66 1035.53,522.28 1035.77,520.53 1036.01,521.23 1036.25,522.15 1036.48,523.38 1036.72,522.09 1036.96,518.39 1037.20,520.00 1037.44,518.96 1037.67,516.36 1037.91,517.35 1038.15,520.27 1038.39,518.93 1038.62,518.32 1038.86,518.52 1039.10,517.43 1039.34,515.20 1039.57,514.23 1039.81,514.33 1040.05,518.33 1040.29,519.06 1040.52,518.33 1040.76,514.00 1041.00,513.48 1041.24,516.92 1041.47,516.12 1041.71,517.04 1041.95,517.22 1042.19,517.55 1042.42,517.98 1042.66,516.22 1042.90,517.60 1043.14,514.65 1043.37,515.30 1043.61,517.60 1043.85,519.51 1044.09,520.14 1044.32,522.64 1044.56,522.39 1044.80,525.66 1045.04,525.98 1045.27,529.26 1045.51,529.03 1045.75,531.08 1045.99,531.04 1046.22,529.72 1046.46,532.91 1046.70,532.33 1046.94,531.87 1047.18,531.01 1047.41,533.71 1047.65,531.74 1047.89,529.56 1048.13,530.26 1048.36,529.26 1048.60,529.76 1048.84,532.30 1049.08,531.54 1049.31,530.42 1049.55,529.36 1049.79,528.92 1050.03,528.84 1050.26,528.81 1050.50,528.01 1050.74,529.52 1050.98,528.23 1051.21,527.76 1051.45,528.26 1051.69,528.82 1051.93,528.34 1052.16,528.72 1052.40,529.23 1052.64,530.08 1052.88,530.80 1053.11,530.23 1053.35,531.31 1053.59,528.95 1053.83,531.46 1054.06,531.08 1054.30,529.52 1054.54,529.21 1054.78,531.53 1055.01,529.22 1055.25,529.40 1055.49,530.03 1055.73,529.88 1055.96,529.10 1056.20,530.31 1056.44,530.37 1056.68,530.42 1056.92,531.18 1057.15,529.95 1057.39,529.76 1057.63,527.50 1057.87,531.01 1058.10,530.57 1058.34,529.43 1058.58,531.91 1058.82,530.28 1059.05,528.52 1059.29,529.74 1059.53,529.35 1059.77,529.52 1060.00,530.61 1060.24,530.63 1060.48,529.46 1060.72,528.82 1060.95,528.25 1061.19,527.63 1061.43,525.87 1061.67,526.64 1061.90,525.30 1062.14,527.28 1062.38,525.59 1062.62,530.02 1062.85,534.33 1063.09,538.23 1063.33,541.92 1063.57,542.31 1063.80,543.18 1064.04,543.02 1064.28,542.99 1064.52,542.27 1064.75,542.65 1064.99,543.30 1065.23,543.70 1065.47,543.43 1065.70,542.70 1065.94,542.23 1066.18,542.22 1066.42,541.93 1066.66,538.79 1066.89,541.91 1067.13,542.02 1067.37,542.55 1067.61,542.11 1067.84,542.07 1068.08,540.78 1068.32,539.84 1068.56,540.78 1068.79,540.29 1069.03,539.85 1069.27,540.10 1069.51,537.40 1069.74,537.50 1069.98,535.69 1070.22,534.89 1070.46,536.46 1070.69,535.82 1070.93,534.88 1071.17,534.39 1071.41,536.20 1071.64,536.18 1071.88,537.66 1072.12,535.91 1072.36,537.64 1072.59,538.10 1072.83,537.91 1073.07,536.84 1073.31,535.46 1073.54,536.05 1073.78,535.57 1074.02,539.02 1074.26,538.45 1074.49,538.66 1074.73,539.90 1074.97,540.34 1075.21,540.06 1075.44,540.27 1075.68,540.11 1075.92,539.71 1076.16,538.80 1076.40,535.37 1076.63,535.75 1076.87,538.43 1077.11,535.89 1077.35,535.32 1077.58,535.21 1077.82,533.31 1078.06,533.50 1078.30,531.21 1078.53,529.23 1078.77,528.08 1079.01,526.80 1079.25,525.98 1079.48,524.99 1079.72,525.03 1079.96,522.42 1080.20,525.77 1080.43,522.24 1080.67,523.94 1080.91,520.63 1081.15,519.48 1081.38,518.80 1081.62,519.87 1081.86,516.93 1082.10,519.37 1082.33,515.46 1082.57,518.34 1082.81,519.40 1083.05,517.51 1083.28,515.20 1083.52,519.66 1083.76,519.04 1084.00,517.58 1084.23,519.77 1084.47,520.41 1084.71,519.79 1084.95,515.93 1085.18,513.13 1085.42,515.44 1085.66,512.98 1085.90,514.38 1086.14,519.05 1086.37,518.25 1086.61,517.65 1086.85,520.08 1087.09,520.00 1087.32,517.86 1087.56,517.58 1087.80,515.01 1088.04,517.47 1088.27,517.21 1088.51,518.62 1088.75,517.76 1088.99,518.40 1089.22,516.56 1089.46,521.85 1089.70,522.17 1089.94,521.84 1090.17,524.39 1090.41,522.88 1090.65,524.58 1090.89,527.07 1091.12,527.73 1091.36,526.71 1091.60,529.99 1091.84,530.24 1092.07,529.22 1092.31,526.01 1092.55,523.91 1092.79,521.70 1093.02,519.78 1093.26,516.30 1093.50,513.68 1093.74,508.61 1093.97,507.15 1094.21,504.79 1094.45,507.55 1094.69,505.86 1094.92,504.87 1095.16,509.71 1095.40,505.35 1095.64,504.76 1095.88,502.62 1096.11,505.06 1096.35,506.34 1096.59,506.62 1096.83,504.30 1097.06,506.14 1097.30,505.46 1097.54,504.12 1097.78,502.80 1098.01,501.48 1098.25,502.84 1098.49,500.07 1098.73,504.28 1098.96,502.37 1099.20,504.51 1099.44,503.05 1099.68,502.93 1099.91,497.98 1100.15,498.92 1100.39,498.08 1100.63,497.41 1100.86,498.50 1101.10,500.24 1101.34,496.65 1101.58,498.60 1101.81,497.57 1102.05,499.18 1102.29,496.04 1102.53,497.57 1102.76,496.21 1103.00,496.97 1103.24,495.84 1103.48,498.97 1103.71,493.71 1103.95,498.08 1104.19,496.75 1104.43,500.37 1104.66,500.47 1104.90,500.00 1105.14,497.56 1105.38,501.16 1105.61,501.29 1105.85,500.01 1106.09,503.46 1106.33,505.35 1106.57,503.43 1106.80,508.66 1107.04,509.58 1107.28,509.71 1107.52,509.99 1107.75,513.89 1107.99,511.42 1108.23,514.09 1108.47,514.92 1108.70,516.59 1108.94,509.56 1109.18,508.00 1109.42,509.86 1109.65,509.63 1109.89,510.66 1110.13,511.74 1110.37,509.61 1110.60,508.73 1110.84,506.90 1111.08,510.40 1111.32,509.50 1111.55,509.24 1111.79,507.85 1112.03,511.27 1112.27,511.39 1112.50,512.01 1112.74,511.67 1112.98,512.91 1113.22,515.79 1113.45,514.97 1113.69,512.24 1113.93,513.87 1114.17,512.59 1114.40,512.07 1114.64,511.86 1114.88,511.72 1115.12,514.41 1115.35,511.49 1115.59,512.79 1115.83,511.98 1116.07,508.27 1116.31,508.30 1116.54,502.72 1116.78,499.27 1117.02,497.17 1117.26,500.88 1117.49,498.15 1117.73,498.01 1117.97,496.79 1118.21,497.54 1118.44,498.77 1118.68,495.74 1118.92,494.68 1119.16,493.28 1119.39,496.05 1119.63,493.46 1119.87,491.30 1120.11,496.18 1120.34,494.60 1120.58,493.58 1120.82,492.13 1121.06,496.24 1121.29,498.17 1121.53,499.50 1121.77,495.05 1122.01,493.28 1122.24,493.13 1122.48,492.83 1122.72,490.80 1122.96,494.64 1123.19,494.19 1123.43,496.06 1123.67,499.49 1123.91,499.32 1124.14,500.85 1124.38,503.81 1124.62,502.81 1124.86,501.19 1125.09,504.67 1125.33,500.44 1125.57,502.61 1125.81,502.23 1126.05,502.96 1126.28,502.81 1126.52,504.10 1126.76,507.76 1127.00,507.26 1127.23,508.66 1127.47,508.77 1127.71,511.21 1127.95,508.50 1128.18,510.38 1128.42,509.79 1128.66,510.48 1128.90,509.02 1129.13,508.58 1129.37,507.32 1129.61,508.78 1129.85,507.73 1130.08,509.57 1130.32,509.71 1130.56,507.09 1130.80,510.45 1131.03,505.97 1131.27,510.11 1131.51,511.26 1131.75,512.18 1131.98,510.82 1132.22,514.15 1132.46,513.89 1132.70,510.57 1132.93,511.07 1133.17,510.71 1133.41,508.97 1133.65,508.15 1133.88,508.94 1134.12,509.44 1134.36,508.49 1134.60,508.10 1134.83,507.49 1135.07,512.49 1135.31,511.69 1135.55,510.51 1135.79,513.21 1136.02,514.10 1136.26,514.19 1136.50,511.90 1136.74,510.15 1136.97,510.72 1137.21,512.92 1137.45,508.85 1137.69,510.55 1137.92,509.68 1138.16,509.93 1138.40,509.01 1138.64,508.02 1138.87,510.52 1139.11,511.15 1139.35,511.10 1139.59,512.35 1139.82,509.40 1140.06,506.27 1140.30,507.76 1140.54,506.97 1140.77,505.33 1141.01,503.74 1141.25,501.74 1141.49,501.72 1141.72,502.67 1141.96,500.25 1142.20,502.55 1142.44,498.35 1142.67,499.23 1142.91,503.45 1143.15,498.72 1143.39,499.22 1143.62,496.26 1143.86,492.10 1144.10,493.67 1144.34,494.98 1144.57,494.18 1144.81,498.76 1145.05,497.89 1145.29,498.14 1145.53,494.02 1145.76,490.49 1146.00,492.57 1146.24,487.19 1146.48,486.87 1146.71,483.76 1146.95,480.53 1147.19,483.16 1147.43,478.67 1147.66,480.98 1147.90,481.32 1148.14,481.85 1148.38,484.82 1148.61,480.42 1148.85,482.23 1149.09,483.78 1149.33,485.19 1149.56,483.32 1149.80,485.14 1150.04,479.03 1150.28,478.44 1150.51,477.45 1150.75,479.52 1150.99,472.90 1151.23,472.74 1151.46,469.30 1151.70,463.89 1151.94,462.34 1152.18,461.80 1152.41,462.19 1152.65,461.06 1152.89,459.78 1153.13,455.71 1153.36,460.53 1153.60,453.10 1153.84,453.77 1154.08,461.24 1154.31,463.13 1154.55,459.92 1154.79,466.40 1155.03,463.88 1155.26,462.25 1155.50,460.89 1155.74,454.57 1155.98,456.84 1156.22,456.95 1156.45,463.38 1156.69,461.55 1156.93,463.51 1157.17,462.22 1157.40,463.16 1157.64,463.20 1157.88,465.39 1158.12,465.41 1158.35,463.79 1158.59,465.38 1158.83,459.11 1159.07,463.05 1159.30,459.83 1159.54,458.25 1159.78,462.25 1160.02,460.80 1160.25,460.86 1160.49,461.37 1160.73,462.03 1160.97,465.47 1161.20,463.22 1161.44,464.15 1161.68,462.88 1161.92,462.29 1162.15,462.47 1162.39,462.10 1162.63,458.73 1162.87,452.99 1163.10,449.19 1163.34,448.21 1163.58,457.81 1163.82,459.44 1164.05,456.74 1164.29,452.60 1164.53,451.06 1164.77,455.16 1165.00,449.40 1165.24,450.82 1165.48,450.33 1165.72,453.93 1165.96,461.33 1166.19,457.50 1166.43,463.50 1166.67,462.29 1166.91,460.54 1167.14,469.50 1167.38,464.85 1167.62,468.31 1167.86,470.56 1168.09,470.73 1168.33,468.21 1168.57,471.51 1168.81,462.14 1169.04,461.81 1169.28,459.61 1169.52,456.49 1169.76,454.60 1169.99,458.79 1170.23,460.46 1170.47,459.08 1170.71,459.22 1170.94,456.83 1171.18,454.45 1171.42,451.79 1171.66,443.80 1171.89,438.20 1172.13,436.15 1172.37,433.11 1172.61,433.45 1172.84,434.74 1173.08,433.37 1173.32,431.03 1173.56,436.34 1173.79,424.65 1174.03,427.00 1174.27,424.82 1174.51,421.85 1174.74,422.94 1174.98,422.09 1175.22,417.64 1175.46,414.24 1175.70,405.95 1175.93,403.29 1176.17,405.77 1176.41,401.02 1176.65,401.50 1176.88,394.14 1177.12,390.73 1177.36,383.48 1177.60,376.47 1177.83,375.73 1178.07,381.78 1178.31,373.43 1178.55,370.26 1178.78,380.06 1179.02,371.81 1179.26,370.59 1179.50,370.45 1179.73,369.08 1179.97,375.31 1180.21,375.94 1180.45,389.71 1180.68,397.09 1180.92,396.78 1181.16,397.61 1181.40,402.53 1181.63,400.98 1181.87,399.92 1182.11,397.94 1182.35,387.90 1182.58,387.09 1182.82,379.85 1183.06,381.32 1183.30,381.72 1183.53,380.15 1183.77,381.25 1184.01,382.76 1184.25,384.75 1184.48,383.57 1184.72,387.94 1184.96,390.44 1185.20,388.88 1185.44,388.07 1185.67,388.86 1185.91,384.72 1186.15,390.29 1186.39,391.15 1186.62,389.71 1186.86,387.41 1187.10,393.18 1187.34,393.04 1187.57,393.73 1187.81,397.40 1188.05,404.64 1188.29,405.41 1188.52,407.94 1188.76,410.62 1189.00,406.72 1189.24,404.85 1189.47,403.66 1189.71,413.99 1189.95,410.45 1190.19,416.53 1190.42,416.28 1190.66,415.69 1190.90,412.54 1191.14,414.37 1191.37,417.65 1191.61,416.19 1191.85,413.12 1192.09,406.25 1192.32,408.04 1192.56,408.45 1192.80,393.27 1193.04,397.01 1193.27,395.68 1193.51,397.95 1193.75,397.78 1193.99,385.30 1194.22,395.72 1194.46,389.23 1194.70,381.80 1194.94,389.35 1195.18,389.30 1195.41,381.12 1195.65,384.76 1195.89,376.80 1196.13,378.34 1196.36,385.61 1196.60,378.95 1196.84,376.94 1197.08,375.68 1197.31,376.12 1197.55,374.92 1197.79,377.55 1198.03,374.16 1198.26,375.62 1198.50,375.22 1198.74,376.71 1198.98,373.72 1199.21,381.25 1199.45,378.06 1199.69,373.53 1199.93,379.89 1200.16,378.34 1200.40,387.03 1200.64,375.86 1200.88,384.10 1201.11,377.49 1201.35,373.99 1201.59,392.49 1201.83,388.03 1202.06,390.98 1202.30,390.96 1202.54,393.51 1202.78,400.02 1203.01,395.54 1203.25,404.65 1203.49,409.34 1203.73,406.95 1203.96,416.73 1204.20,417.23 1204.44,412.87 1204.68,406.06 1204.92,408.49 1205.15,411.97 1205.39,419.03 1205.63,419.17 1205.87,417.99 1206.10,416.46 1206.34,418.11 1206.58,425.23 1206.82,426.72 1207.05,422.59 1207.29,424.71 1207.53,430.50 1207.77,429.80 1208.00,427.46 1208.24,428.52 1208.48,422.31 1208.72,414.68 1208.95,422.91 1209.19,413.41 1209.43,406.33 1209.67,409.56 1209.90,404.50 1210.14,399.72 1210.38,396.21 1210.62,386.85 1210.85,394.38 1211.09,389.44 1211.33,387.23 1211.57,385.51 1211.80,385.49 1212.04,385.94 1212.28,385.53 1212.52,384.38 1212.75,390.20 1212.99,387.75 1213.23,396.91 1213.47,404.30 1213.70,408.57 1213.94,426.54 1214.18,426.72 1214.42,419.12 1214.65,411.42 1214.89,410.59 1215.13,404.60 1215.37,397.68 1215.61,405.35 1215.84,400.75 1216.08,400.46 1216.32,405.97 1216.56,407.89 1216.79,415.23 1217.03,404.74 1217.27,404.26 1217.51,402.93 1217.74,399.20 1217.98,395.03 1218.22,396.10 1218.46,398.95 1218.69,395.10 1218.93,396.48 1219.17,393.56 1219.41,395.76 1219.64,395.65 1219.88,402.89 1220.12,413.10 1220.36,404.58 1220.59,414.27 1220.83,411.85 1221.07,411.12 1221.31,418.84 1221.54,422.73 1221.78,427.02 1222.02,426.66 1222.26,417.01 1222.49,428.26 1222.73,429.44 1222.97,424.10 1223.21,425.14 1223.44,418.89 1223.68,421.27 1223.92,415.42 1224.16,410.19 1224.39,403.17 1224.63,407.75 1224.87,404.90 1225.11,411.03 1225.35,409.21 1225.58,406.48 1225.82,403.34 1226.06,403.16 1226.30,399.38 1226.53,401.73 1226.77,391.04 1227.01,398.47 1227.25,402.97 1227.48,410.04 1227.72,404.34 1227.96,412.79 1228.20,406.00 1228.43,409.19 1228.67,408.22 1228.91,412.53 1229.15,407.26 1229.38,408.91 1229.62,418.24 1229.86,410.09 1230.10,407.56 1230.33,401.39 1230.57,404.28 1230.81,407.85 1231.05,403.55 1231.28,413.66 1231.52,398.50 1231.76,398.29 1232.00,395.81 1232.23,385.63 1232.47,383.40 1232.71,380.48 1232.95,380.99 1233.18,378.91 1233.42,386.15 1233.66,382.12 1233.90,378.45 1234.13,375.15 1234.37,370.78 1234.61,371.85 1234.85,377.32 1235.09,376.34 1235.32,374.99 1235.56,383.33 1235.80,387.19 1236.04,382.87 1236.27,382.02 1236.51,371.35 1236.75,362.98 1236.99,345.12 1237.22,340.59 1237.46,334.73 1237.70,328.14 1237.94,316.35 1238.17,310.79 1238.41,313.60 1238.65,313.96 1238.89,306.25 1239.12,303.63 1239.36,302.78 1239.60,296.83 1239.84,294.36 1240.07,292.16 1240.31,300.80 1240.55,289.96 1240.79,292.25 1241.02,288.90 1241.26,298.96 1241.50,283.26 1241.74,290.75 1241.97,289.00 1242.21,291.18 1242.45,289.71 1242.69,297.26 1242.92,291.56 1243.16,290.65 1243.40,289.72 1243.64,295.48 1243.87,285.31 1244.11,277.27 1244.35,287.75 1244.59,284.01 1244.83,292.22 1245.06,290.84 1245.30,284.71 1245.54,284.83 1245.78,285.28 1246.01,269.48 1246.25,279.20 1246.49,280.65 1246.73,288.67 1246.96,284.05 1247.20,288.15 1247.44,301.20 1247.68,300.26 1247.91,306.53 1248.15,299.09 1248.39,292.68 1248.63,305.67 1248.86,290.81 1249.10,310.30 1249.34,308.17 1249.58,307.01 1249.81,307.60 1250.05,305.81 1250.29,298.61 1250.53,292.84 1250.76,281.58 1251.00,288.71 1251.24,264.16 1251.48,280.55 1251.71,291.79 1251.95,301.25 1252.19,292.92 1252.43,304.25 1252.66,314.20 1252.90,303.93 1253.14,306.87 1253.38,283.86 1253.61,289.36 1253.85,277.17 1254.09,269.48 1254.33,271.09 1254.57,286.20 1254.80,270.44 1255.04,283.19 1255.28,284.23 1255.52,284.01 1255.75,291.47 1255.99,282.06 1256.23,271.73 1256.47,268.73 1256.70,276.90 1256.94,283.22 1257.18,296.67 1257.42,293.67 1257.65,297.55 1257.89,286.00 1258.13,295.11 1258.37,298.85 1258.60,304.88 1258.84,301.60 1259.08,309.85 1259.32,305.99 1259.55,305.84 1259.79,310.96 1260.03,310.36 1260.27,313.04 1260.50,319.15 1260.74,309.35 1260.98,322.16 1261.22,315.92 1261.45,326.22 1261.69,328.93 1261.93,324.76 1262.17,330.42 1262.40,337.95 1262.64,329.96 1262.88,336.64 1263.12,339.42 1263.35,338.23 1263.59,340.97 1263.83,329.72 1264.07,338.45 1264.31,341.89 1264.54,337.48 1264.78,344.38 1265.02,344.73 1265.26,344.94 1265.49,337.80 1265.73,346.59 1265.97,346.61 1266.21,352.34 1266.44,350.97 1266.68,352.55 1266.92,351.48 1267.16,341.97 1267.39,338.58 1267.63,345.85 1267.87,345.62 1268.11,342.27 1268.34,337.19 1268.58,329.51 1268.82,328.77 1269.06,323.91 1269.29,325.55 1269.53,327.63 1269.77,331.85 1270.01,338.02 1270.24,329.39 1270.48,333.80 1270.72,333.69 1270.96,342.75 1271.19,349.45 1271.43,340.54 1271.67,350.41 1271.91,357.29 1272.14,361.61 1272.38,356.19 1272.62,352.63 1272.86,353.09 1273.09,350.55 1273.33,348.43 1273.57,350.12 1273.81,348.04 1274.04,328.42 1274.28,322.95 1274.52,320.79 1274.76,319.73 1275.00,323.20 1275.23,323.08 1275.47,312.78 1275.71,305.12 1275.95,307.28 1276.18,305.74 1276.42,304.04 1276.66,314.47 1276.90,308.30 1277.13,302.70 1277.37,291.83 1277.61,302.57 1277.85,293.11 1278.08,303.10 1278.32,281.99 1278.56,294.08 1278.80,297.80 1279.03,295.13 1279.27,288.57 1279.51,293.22 1279.75,278.55 1279.98,259.97 1280.22,267.23 1280.46,262.11 1280.70,257.52 1280.93,259.83 1281.17,258.18 1281.41,257.27 1281.65,262.97 1281.88,261.68 1282.12,257.74 1282.36,257.31 1282.60,255.06 1282.83,255.29 1283.07,256.30 1283.31,256.09 1283.55,260.47 1283.78,257.06 1284.02,260.68 1284.26,259.11 1284.50,256.46 1284.74,257.20 1284.97,260.35 1285.21,264.75 1285.45,266.02 1285.69,277.84 1285.92,286.35 1286.16,281.84 1286.40,283.09 1286.64,272.21 1286.87,263.12 1287.11,258.56 1287.35,258.58 1287.59,261.45 1287.82,261.13 1288.06,265.66 1288.30,276.27 1288.54,277.84 1288.77,280.05 1289.01,289.78 1289.25,284.40 1289.49,283.94 1289.72,282.57 1289.96,275.26 1290.20,294.15 1290.44,284.90 1290.67,288.67 1290.91,275.17 1291.15,276.55 1291.39,281.31 1291.62,293.28 1291.86,281.02 1292.10,266.61 1292.34,266.46 1292.57,268.80 1292.81,272.59 1293.05,260.66 1293.25,590.00" fill="none" stroke="#a94848" stroke-width="1.45" stroke-linejoin="round"/>
<polyline points="56.55,590.00 56.79,590.00 57.03,590.00 57.26,590.00 57.50,590.00 57.74,590.00 57.98,590.00 58.21,590.00 58.45,590.00 58.69,590.00 58.93,590.00 59.16,590.00 59.40,590.00 59.64,590.00 59.88,590.00 60.11,590.00 60.35,590.00 60.59,590.00 60.83,590.00 61.06,590.00 61.30,590.00 61.54,590.00 61.78,589.99 62.01,589.99 62.25,589.99 62.49,589.99 62.73,589.99 62.96,589.99 63.20,589.99 63.44,589.99 63.68,589.99 63.91,589.99 64.15,589.99 64.39,589.99 64.63,589.99 64.86,589.99 65.10,589.99 65.34,589.99 65.58,589.99 65.81,589.99 66.05,589.99 66.29,589.99 66.53,589.98 66.77,589.98 67.00,589.98 67.24,589.98 67.48,589.98 67.72,589.98 67.95,589.98 68.19,589.98 68.43,589.98 68.67,589.98 68.90,589.98 69.14,589.97 69.38,589.97 69.62,589.97 69.85,589.97 70.09,589.97 70.33,589.97 70.57,589.96 70.80,589.96 71.04,589.96 71.28,589.96 71.52,589.96 71.75,589.96 71.99,589.95 72.23,589.95 72.47,589.95 72.70,589.95 72.94,589.95 73.18,589.95 73.42,589.95 73.65,589.95 73.89,589.96 74.13,589.96 74.37,589.96 74.60,589.96 74.84,589.96 75.08,589.96 75.32,589.96 75.55,589.97 75.79,589.96 76.03,589.97 76.27,589.97 76.51,589.97 76.74,589.97 76.98,589.97 77.22,589.97 77.46,589.97 77.69,589.97 77.93,589.97 78.17,589.97 78.41,589.97 78.64,589.97 78.88,589.97 79.12,589.97 79.36,589.97 79.59,589.98 79.83,589.98 80.07,589.97 80.31,589.97 80.54,589.98 80.78,589.98 81.02,589.98 81.26,589.98 81.49,589.98 81.73,589.98 81.97,589.98 82.21,589.98 82.44,589.98 82.68,589.98 82.92,589.98 83.16,589.98 83.39,589.98 83.63,589.98 83.87,589.98 84.11,589.98 84.34,589.98 84.58,589.98 84.82,589.98 85.06,589.98 85.29,589.98 85.53,589.98 85.77,589.98 86.01,589.98 86.25,589.98 86.48,589.98 86.72,589.98 86.96,589.99 87.20,589.99 87.43,589.99 87.67,589.99 87.91,589.99 88.15,589.99 88.38,589.99 88.62,589.99 88.86,589.99 89.10,589.99 89.33,589.99 89.57,589.99 89.81,589.99 90.05,589.99 90.28,589.99 90.52,589.99 90.76,589.99 91.00,589.99 91.23,589.99 91.47,589.99 91.71,589.99 91.95,589.99 92.18,589.99 92.42,589.99 92.66,589.99 92.90,589.99 93.13,589.99 93.37,589.99 93.61,589.99 93.85,589.99 94.08,589.99 94.32,589.99 94.56,589.99 94.80,589.99 95.03,589.99 95.27,589.99 95.51,589.99 95.75,589.99 95.98,589.99 96.22,589.99 96.46,589.99 96.70,589.99 96.94,589.99 97.17,589.99 97.41,589.99 97.65,589.99 97.89,589.99 98.12,589.99 98.36,589.99 98.60,589.99 98.84,589.99 99.07,589.99 99.31,589.99 99.55,589.99 99.79,589.99 100.02,589.99 100.26,589.99 100.50,589.99 100.74,589.99 100.97,589.99 101.21,589.99 101.45,589.99 101.69,589.99 101.92,590.00 102.16,590.00 102.40,590.00 102.64,590.00 102.87,590.00 103.11,590.00 103.35,590.00 103.59,590.00 103.82,590.00 104.06,590.00 104.30,590.00 104.54,590.00 104.77,590.00 105.01,590.00 105.25,590.00 105.49,590.00 105.72,590.00 105.96,590.00 106.20,590.00 106.44,590.00 106.68,590.00 106.91,590.00 107.15,590.00 107.39,590.00 107.63,589.99 107.86,589.99 108.10,589.99 108.34,589.99 108.58,589.99 108.81,589.99 109.05,589.99 109.29,589.99 109.53,589.99 109.76,589.99 110.00,589.99 110.24,589.99 110.48,589.99 110.71,589.99 110.95,589.99 111.19,589.99 111.43,589.99 111.66,589.99 111.90,589.99 112.14,589.99 112.38,589.99 112.61,589.99 112.85,589.99 113.09,589.99 113.33,589.99 113.56,589.99 113.80,589.99 114.04,589.99 114.28,589.99 114.51,589.99 114.75,589.99 114.99,589.99 115.23,589.99 115.46,589.99 115.70,589.99 115.94,589.99 116.18,589.99 116.42,589.99 116.65,589.99 116.89,589.99 117.13,589.99 117.37,589.99 117.60,589.99 117.84,589.99 118.08,589.99 118.32,589.99 118.55,589.99 118.79,589.99 119.03,589.99 119.27,589.99 119.50,589.99 119.74,589.99 119.98,589.99 120.22,589.99 120.45,589.99 120.69,589.99 120.93,589.99 121.17,589.99 121.40,589.99 121.64,589.99 121.88,589.99 122.12,589.99 122.35,589.99 122.59,589.99 122.83,589.99 123.07,589.99 123.30,589.99 123.54,589.99 123.78,589.99 124.02,589.99 124.25,589.99 124.49,589.99 124.73,589.99 124.97,589.99 125.20,589.99 125.44,589.99 125.68,589.99 125.92,589.99 126.16,589.99 126.39,589.99 126.63,589.99 126.87,589.99 127.11,589.99 127.34,589.99 127.58,589.99 127.82,589.99 128.06,589.99 128.29,589.99 128.53,589.99 128.77,589.99 129.01,589.99 129.24,589.99 129.48,589.99 129.72,589.99 129.96,589.99 130.19,589.99 130.43,589.99 130.67,589.99 130.91,589.99 131.14,589.99 131.38,589.99 131.62,589.99 131.86,589.99 132.09,589.99 132.33,589.99 132.57,589.99 132.81,589.99 133.04,589.99 133.28,589.99 133.52,589.99 133.76,589.99 133.99,589.99 134.23,589.99 134.47,589.99 134.71,589.99 134.94,589.99 135.18,589.99 135.42,589.99 135.66,589.99 135.90,589.99 136.13,589.99 136.37,589.99 136.61,589.99 136.85,589.99 137.08,589.99 137.32,589.99 137.56,589.99 137.80,589.99 138.03,589.99 138.27,589.99 138.51,589.99 138.75,589.99 138.98,589.99 139.22,589.99 139.46,589.99 139.70,589.99 139.93,589.99 140.17,589.99 140.41,589.99 140.65,589.99 140.88,589.99 141.12,589.99 141.36,589.99 141.60,589.99 141.83,589.99 142.07,589.99 142.31,589.99 142.55,589.99 142.78,589.99 143.02,589.99 143.26,589.99 143.50,589.99 143.73,589.99 143.97,589.99 144.21,589.99 144.45,589.99 144.68,589.99 144.92,589.99 145.16,589.99 145.40,589.99 145.63,589.99 145.87,589.99 146.11,589.99 146.35,589.99 146.59,589.99 146.82,589.99 147.06,589.99 147.30,589.99 147.54,589.99 147.77,589.99 148.01,589.99 148.25,589.99 148.49,589.99 148.72,589.99 148.96,589.99 149.20,589.99 149.44,589.99 149.67,589.99 149.91,589.99 150.15,589.99 150.39,589.99 150.62,589.98 150.86,589.98 151.10,589.99 151.34,589.99 151.57,589.99 151.81,589.99 152.05,589.99 152.29,589.99 152.52,589.99 152.76,589.99 153.00,589.99 153.24,589.98 153.47,589.99 153.71,589.99 153.95,589.98 154.19,589.98 154.42,589.99 154.66,589.99 154.90,589.99 155.14,589.99 155.37,589.99 155.61,589.99 155.85,589.99 156.09,589.99 156.33,589.99 156.56,589.99 156.80,589.99 157.04,589.99 157.28,589.99 157.51,589.99 157.75,589.99 157.99,589.99 158.23,589.98 158.46,589.99 158.70,589.99 158.94,589.99 159.18,589.98 159.41,589.99 159.65,589.98 159.89,589.98 160.13,589.98 160.36,589.98 160.60,589.98 160.84,589.98 161.08,589.98 161.31,589.98 161.55,589.98 161.79,589.98 162.03,589.98 162.26,589.98 162.50,589.98 162.74,589.98 162.98,589.98 163.21,589.98 163.45,589.98 163.69,589.98 163.93,589.98 164.16,589.98 164.40,589.98 164.64,589.98 164.88,589.98 165.11,589.98 165.35,589.98 165.59,589.98 165.83,589.98 166.07,589.98 166.30,589.98 166.54,589.98 166.78,589.98 167.02,589.98 167.25,589.98 167.49,589.98 167.73,589.98 167.97,589.98 168.20,589.98 168.44,589.98 168.68,589.98 168.92,589.98 169.15,589.98 169.39,589.98 169.63,589.98 169.87,589.98 170.10,589.98 170.34,589.98 170.58,589.98 170.82,589.98 171.05,589.98 171.29,589.98 171.53,589.98 171.77,589.98 172.00,589.98 172.24,589.98 172.48,589.98 172.72,589.98 172.95,589.98 173.19,589.98 173.43,589.98 173.67,589.98 173.90,589.98 174.14,589.98 174.38,589.98 174.62,589.98 174.85,589.98 175.09,589.98 175.33,589.98 175.57,589.98 175.81,589.98 176.04,589.98 176.28,589.98 176.52,589.98 176.76,589.98 176.99,589.98 177.23,589.97 177.47,589.98 177.71,589.98 177.94,589.98 178.18,589.98 178.42,589.97 178.66,589.98 178.89,589.97 179.13,589.98 179.37,589.98 179.61,589.98 179.84,589.98 180.08,589.98 180.32,589.98 180.56,589.98 180.79,589.98 181.03,589.98 181.27,589.98 181.51,589.98 181.74,589.97 181.98,589.98 182.22,589.97 182.46,589.98 182.69,589.98 182.93,589.97 183.17,589.98 183.41,589.98 183.64,589.98 183.88,589.97 184.12,589.98 184.36,589.98 184.59,589.97 184.83,589.98 185.07,589.98 185.31,589.98 185.55,589.98 185.78,589.98 186.02,589.98 186.26,589.98 186.50,589.97 186.73,589.98 186.97,589.98 187.21,589.98 187.45,589.97 187.68,589.98 187.92,589.98 188.16,589.98 188.40,589.98 188.63,589.98 188.87,589.98 189.11,589.98 189.35,589.97 189.58,589.98 189.82,589.98 190.06,589.98 190.30,589.98 190.53,589.98 190.77,589.98 191.01,589.98 191.25,589.98 191.48,589.98 191.72,589.98 191.96,589.98 192.20,589.97 192.43,589.98 192.67,589.98 192.91,589.97 193.15,589.98 193.38,589.98 193.62,589.97 193.86,589.98 194.10,589.98 194.33,589.98 194.57,589.98 194.81,589.98 195.05,589.98 195.29,589.97 195.52,589.98 195.76,589.98 196.00,589.98 196.24,589.98 196.47,589.98 196.71,589.98 196.95,589.98 197.19,589.98 197.42,589.98 197.66,589.98 197.90,589.98 198.14,589.98 198.37,589.98 198.61,589.98 198.85,589.98 199.09,589.98 199.32,589.98 199.56,589.98 199.80,589.98 200.04,589.98 200.27,589.98 200.51,589.98 200.75,589.98 200.99,589.98 201.22,589.98 201.46,589.98 201.70,589.98 201.94,589.98 202.17,589.98 202.41,589.98 202.65,589.98 202.89,589.98 203.12,589.98 203.36,589.98 203.60,589.98 203.84,589.98 204.07,589.98 204.31,589.98 204.55,589.98 204.79,589.98 205.02,589.98 205.26,589.98 205.50,589.98 205.74,589.98 205.98,589.98 206.21,589.98 206.45,589.98 206.69,589.98 206.93,589.98 207.16,589.98 207.40,589.98 207.64,589.98 207.88,589.98 208.11,589.98 208.35,589.98 208.59,589.97 208.83,589.97 209.06,589.97 209.30,589.97 209.54,589.97 209.78,589.97 210.01,589.97 210.25,589.97 210.49,589.97 210.73,589.97 210.96,589.97 211.20,589.97 211.44,589.97 211.68,589.97 211.91,589.97 212.15,589.97 212.39,589.97 212.63,589.97 212.86,589.97 213.10,589.97 213.34,589.97 213.58,589.97 213.81,589.97 214.05,589.97 214.29,589.96 214.53,589.96 214.76,589.96 215.00,589.96 215.24,589.96 215.48,589.96 215.72,589.96 215.95,589.96 216.19,589.96 216.43,589.96 216.67,589.96 216.90,589.96 217.14,589.96 217.38,589.96 217.62,589.96 217.85,589.96 218.09,589.96 218.33,589.95 218.57,589.95 218.80,589.95 219.04,589.95 219.28,589.95 219.52,589.95 219.75,589.95 219.99,589.95 220.23,589.95 220.47,589.95 220.70,589.95 220.94,589.95 221.18,589.95 221.42,589.95 221.65,589.95 221.89,589.94 222.13,589.94 222.37,589.94 222.60,589.94 222.84,589.93 223.08,589.93 223.32,589.93 223.55,589.92 223.79,589.92 224.03,589.92 224.27,589.91 224.50,589.91 224.74,589.91 224.98,589.90 225.22,589.90 225.46,589.90 225.69,589.89 225.93,589.88 226.17,589.88 226.41,589.87 226.64,589.86 226.88,589.86 227.12,589.85 227.36,589.84 227.59,589.83 227.83,589.83 228.07,589.81 228.31,589.81 228.54,589.80 228.78,589.79 229.02,589.78 229.26,589.77 229.49,589.76 229.73,589.75 229.97,589.73 230.21,589.71 230.44,589.70 230.68,589.68 230.92,589.66 231.16,589.62 231.39,589.60 231.63,589.58 231.87,589.64 232.11,589.69 232.34,589.75 232.58,589.79 232.82,589.82 233.06,589.85 233.29,589.87 233.53,589.87 233.77,589.87 234.01,589.87 234.24,589.87 234.48,589.87 234.72,589.87 234.96,589.87 235.20,589.88 235.43,589.87 235.67,589.88 235.91,589.88 236.15,589.87 236.38,589.87 236.62,589.88 236.86,589.88 237.10,589.87 237.33,589.88 237.57,589.87 237.81,589.87 238.05,589.87 238.28,589.87 238.52,589.88 238.76,589.88 239.00,589.88 239.23,589.87 239.47,589.88 239.71,589.87 239.95,589.88 240.18,589.87 240.42,589.88 240.66,589.87 240.90,589.87 241.13,589.87 241.37,589.88 241.61,589.87 241.85,589.88 242.08,589.88 242.32,589.88 242.56,589.87 242.80,589.88 243.03,589.87 243.27,589.88 243.51,589.88 243.75,589.88 243.98,589.87 244.22,589.88 244.46,589.87 244.70,589.87 244.94,589.87 245.17,589.87 245.41,589.87 245.65,589.87 245.89,589.87 246.12,589.87 246.36,589.87 246.60,589.88 246.84,589.88 247.07,589.87 247.31,589.88 247.55,589.87 247.79,589.88 248.02,589.88 248.26,589.87 248.50,589.87 248.74,589.88 248.97,589.88 249.21,589.88 249.45,589.87 249.69,589.87 249.92,589.87 250.16,589.87 250.40,589.87 250.64,589.87 250.87,589.87 251.11,589.87 251.35,589.87 251.59,589.87 251.82,589.87 252.06,589.87 252.30,589.87 252.54,589.87 252.77,589.87 253.01,589.86 253.25,589.86 253.49,589.86 253.72,589.86 253.96,589.86 254.20,589.86 254.44,589.86 254.68,589.86 254.91,589.87 255.15,589.86 255.39,589.86 255.63,589.86 255.86,589.85 256.10,589.85 256.34,589.85 256.58,589.85 256.81,589.85 257.05,589.85 257.29,589.85 257.53,589.85 257.76,589.85 258.00,589.85 258.24,589.84 258.48,589.85 258.71,589.84 258.95,589.84 259.19,589.84 259.43,589.83 259.66,589.83 259.90,589.83 260.14,589.84 260.38,589.83 260.61,589.84 260.85,589.83 261.09,589.82 261.33,589.83 261.56,589.83 261.80,589.83 262.04,589.82 262.28,589.83 262.51,589.82 262.75,589.83 262.99,589.82 263.23,589.82 263.46,589.82 263.70,589.81 263.94,589.81 264.18,589.81 264.41,589.82 264.65,589.80 264.89,589.81 265.13,589.81 265.37,589.81 265.60,589.81 265.84,589.82 266.08,589.81 266.32,589.82 266.55,589.82 266.79,589.81 267.03,589.82 267.27,589.81 267.50,589.82 267.74,589.81 267.98,589.81 268.22,589.81 268.45,589.82 268.69,589.81 268.93,589.81 269.17,589.81 269.40,589.81 269.64,589.81 269.88,589.81 270.12,589.81 270.35,589.81 270.59,589.80 270.83,589.79 271.07,589.80 271.30,589.79 271.54,589.79 271.78,589.79 272.02,589.78 272.25,589.79 272.49,589.78 272.73,589.77 272.97,589.77 273.20,589.77 273.44,589.78 273.68,589.77 273.92,589.76 274.15,589.75 274.39,589.74 274.63,589.73 274.87,589.70 275.11,589.71 275.34,589.69 275.58,589.68 275.82,589.67 276.06,589.65 276.29,589.65 276.53,589.63 276.77,589.61 277.01,589.61 277.24,589.60 277.48,589.59 277.72,589.57 277.96,589.55 278.19,589.52 278.43,589.51 278.67,589.50 278.91,589.47 279.14,589.44 279.38,589.40 279.62,589.40 279.86,589.35 280.09,589.32 280.33,589.31 280.57,589.29 280.81,589.28 281.04,589.26 281.28,589.26 281.52,589.24 281.76,589.21 281.99,589.18 282.23,589.17 282.47,589.18 282.71,589.15 282.94,589.13 283.18,589.09 283.42,589.04 283.66,588.98 283.89,589.00 284.13,588.97 284.37,588.95 284.61,588.92 284.85,588.87 285.08,588.76 285.32,588.68 285.56,588.63 285.80,588.59 286.03,588.53 286.27,588.42 286.51,588.38 286.75,588.25 286.98,588.20 287.22,588.14 287.46,587.96 287.70,588.05 287.93,588.08 288.17,588.25 288.41,588.34 288.65,588.35 288.88,588.44 289.12,588.47 289.36,588.48 289.60,588.53 289.83,588.62 290.07,588.72 290.31,588.81 290.55,588.85 290.78,588.87 291.02,588.93 291.26,588.97 291.50,589.05 291.73,589.06 291.97,589.02 292.21,588.95 292.45,588.92 292.68,588.88 292.92,588.86 293.16,588.82 293.40,588.73 293.63,588.75 293.87,588.80 294.11,588.75 294.35,588.67 294.59,588.65 294.82,588.64 295.06,588.56 295.30,588.44 295.54,588.36 295.77,588.31 296.01,588.27 296.25,588.19 296.49,588.20 296.72,588.34 296.96,588.38 297.20,588.46 297.44,588.44 297.67,588.51 297.91,588.51 298.15,588.55 298.39,588.45 298.62,588.46 298.86,588.50 299.10,588.46 299.34,588.49 299.57,588.46 299.81,588.50 300.05,588.49 300.29,588.54 300.52,588.56 300.76,588.54 301.00,588.56 301.24,588.63 301.47,588.66 301.71,588.74 301.95,588.72 302.19,588.76 302.42,588.82 302.66,588.85 302.90,588.83 303.14,588.86 303.37,588.89 303.61,588.93 303.85,588.94 304.09,588.99 304.33,588.98 304.56,588.97 304.80,588.99 305.04,588.97 305.28,589.02 305.51,589.02 305.75,589.05 305.99,589.04 306.23,589.07 306.46,589.04 306.70,589.01 306.94,589.05 307.18,589.04 307.41,589.07 307.65,589.06 307.89,589.11 308.13,589.10 308.36,589.07 308.60,589.05 308.84,589.02 309.08,589.07 309.31,589.07 309.55,589.07 309.79,589.04 310.03,589.05 310.26,589.07 310.50,589.10 310.74,589.08 310.98,589.07 311.21,589.06 311.45,589.04 311.69,589.06 311.93,589.04 312.16,589.02 312.40,588.94 312.64,588.94 312.88,588.92 313.11,588.93 313.35,588.94 313.59,588.93 313.83,588.92 314.07,588.93 314.30,589.00 314.54,588.98 314.78,588.97 315.02,589.04 315.25,589.07 315.49,589.11 315.73,589.13 315.97,589.15 316.20,589.18 316.44,589.18 316.68,589.21 316.92,589.22 317.15,589.18 317.39,589.22 317.63,589.27 317.87,589.27 318.10,589.31 318.34,589.34 318.58,589.35 318.82,589.34 319.05,589.34 319.29,589.34 319.53,589.33 319.77,589.31 320.00,589.30 320.24,589.30 320.48,589.28 320.72,589.27 320.95,589.29 321.19,589.27 321.43,589.25 321.67,589.26 321.90,589.25 322.14,589.27 322.38,589.26 322.62,589.25 322.85,589.28 323.09,589.27 323.33,589.26 323.57,589.24 323.81,589.24 324.04,589.23 324.28,589.19 324.52,589.16 324.76,589.16 324.99,589.16 325.23,589.15 325.47,589.13 325.71,589.13 325.94,589.10 326.18,589.09 326.42,589.06 326.66,589.09 326.89,589.00 327.13,588.97 327.37,588.97 327.61,588.94 327.84,588.91 328.08,588.94 328.32,588.92 328.56,588.93 328.79,588.91 329.03,588.91 329.27,588.85 329.51,588.88 329.74,588.86 329.98,588.90 330.22,588.84 330.46,588.85 330.69,588.84 330.93,588.81 331.17,588.82 331.41,588.79 331.64,588.84 331.88,588.80 332.12,588.77 332.36,588.85 332.59,588.81 332.83,588.83 333.07,588.84 333.31,588.85 333.54,588.82 333.78,588.82 334.02,588.80 334.26,588.80 334.50,588.82 334.73,588.82 334.97,588.84 335.21,588.86 335.45,588.85 335.68,588.85 335.92,588.82 336.16,588.84 336.40,588.82 336.63,588.82 336.87,588.86 337.11,588.87 337.35,588.87 337.58,588.84 337.82,588.87 338.06,588.87 338.30,588.85 338.53,588.87 338.77,588.87 339.01,588.87 339.25,588.90 339.48,588.89 339.72,588.95 339.96,588.95 340.20,588.98 340.43,588.95 340.67,588.93 340.91,588.96 341.15,588.98 341.38,588.96 341.62,589.00 341.86,588.94 342.10,588.99 342.33,588.96 342.57,588.99 342.81,588.94 343.05,588.98 343.28,588.99 343.52,588.99 343.76,589.02 344.00,589.02 344.24,589.02 344.47,588.98 344.71,589.02 344.95,589.01 345.19,588.97 345.42,588.98 345.66,589.00 345.90,589.01 346.14,589.04 346.37,589.00 346.61,589.01 346.85,588.98 347.09,588.99 347.32,589.04 347.56,589.09 347.80,589.10 348.04,589.11 348.27,589.13 348.51,589.16 348.75,589.15 348.99,589.18 349.22,589.16 349.46,589.17 349.70,589.20 349.94,589.19 350.17,589.15 350.41,589.14 350.65,589.17 350.89,589.15 351.12,589.16 351.36,589.16 351.60,589.21 351.84,589.19 352.07,589.21 352.31,589.19 352.55,589.19 352.79,589.22 353.02,589.22 353.26,589.20 353.50,589.20 353.74,589.21 353.98,589.23 354.21,589.23 354.45,589.21 354.69,589.26 354.93,589.30 355.16,589.26 355.40,589.28 355.64,589.25 355.88,589.26 356.11,589.27 356.35,589.26 356.59,589.28 356.83,589.28 357.06,589.26 357.30,589.29 357.54,589.30 357.78,589.32 358.01,589.31 358.25,589.33 358.49,589.33 358.73,589.32 358.96,589.33 359.20,589.34 359.44,589.36 359.68,589.35 359.91,589.36 360.15,589.38 360.39,589.40 360.63,589.41 360.86,589.42 361.10,589.44 361.34,589.42 361.58,589.38 361.81,589.40 362.05,589.40 362.29,589.39 362.53,589.40 362.76,589.41 363.00,589.39 363.24,589.38 363.48,589.37 363.72,589.38 363.95,589.36 364.19,589.37 364.43,589.33 364.67,589.33 364.90,589.33 365.14,589.32 365.38,589.28 365.62,589.31 365.85,589.28 366.09,589.31 366.33,589.30 366.57,589.32 366.80,589.29 367.04,589.31 367.28,589.31 367.52,589.29 367.75,589.29 367.99,589.26 368.23,589.26 368.47,589.27 368.70,589.26 368.94,589.26 369.18,589.23 369.42,589.24 369.65,589.23 369.89,589.24 370.13,589.23 370.37,589.22 370.60,589.25 370.84,589.24 371.08,589.25 371.32,589.28 371.55,589.25 371.79,589.26 372.03,589.28 372.27,589.24 372.50,589.26 372.74,589.25 372.98,589.25 373.22,589.27 373.46,589.27 373.69,589.27 373.93,589.23 374.17,589.27 374.41,589.30 374.64,589.32 374.88,589.31 375.12,589.36 375.36,589.35 375.59,589.33 375.83,589.35 376.07,589.34 376.31,589.34 376.54,589.34 376.78,589.33 377.02,589.34 377.26,589.34 377.49,589.37 377.73,589.38 377.97,589.37 378.21,589.38 378.44,589.38 378.68,589.39 378.92,589.39 379.16,589.42 379.39,589.40 379.63,589.40 379.87,589.39 380.11,589.40 380.34,589.39 380.58,589.40 380.82,589.39 381.06,589.40 381.29,589.41 381.53,589.42 381.77,589.44 382.01,589.47 382.24,589.50 382.48,589.51 382.72,589.54 382.96,589.53 383.19,589.55 383.43,589.56 383.67,589.59 383.91,589.61 384.15,589.62 384.38,589.63 384.62,589.66 384.86,589.67 385.10,589.67 385.33,589.67 385.57,589.67 385.81,589.65 386.05,589.67 386.28,589.66 386.52,589.64 386.76,589.64 387.00,589.65 387.23,589.64 387.47,589.63 387.71,589.63 387.95,589.61 388.18,589.61 388.42,589.60 388.66,589.61 388.90,589.59 389.13,589.59 389.37,589.60 389.61,589.58 389.85,589.60 390.08,589.59 390.32,589.59 390.56,589.59 390.80,589.60 391.03,589.60 391.27,589.60 391.51,589.60 391.75,589.56 391.98,589.57 392.22,589.57 392.46,589.56 392.70,589.57 392.93,589.57 393.17,589.58 393.41,589.57 393.65,589.56 393.89,589.58 394.12,589.57 394.36,589.57 394.60,589.56 394.84,589.54 395.07,589.55 395.31,589.53 395.55,589.54 395.79,589.51 396.02,589.53 396.26,589.50 396.50,589.54 396.74,589.52 396.97,589.50 397.21,589.48 397.45,589.49 397.69,589.49 397.92,589.48 398.16,589.47 398.40,589.47 398.64,589.48 398.87,589.48 399.11,589.50 399.35,589.48 399.59,589.48 399.82,589.50 400.06,589.49 400.30,589.48 400.54,589.50 400.77,589.49 401.01,589.50 401.25,589.49 401.49,589.50 401.72,589.52 401.96,589.53 402.20,589.50 402.44,589.51 402.67,589.50 402.91,589.50 403.15,589.50 403.39,589.49 403.63,589.51 403.86,589.50 404.10,589.51 404.34,589.51 404.58,589.52 404.81,589.49 405.05,589.50 405.29,589.47 405.53,589.47 405.76,589.48 406.00,589.47 406.24,589.50 406.48,589.51 406.71,589.50 406.95,589.52 407.19,589.51 407.43,589.50 407.66,589.49 407.90,589.51 408.14,589.50 408.38,589.50 408.61,589.49 408.85,589.47 409.09,589.48 409.33,589.49 409.56,589.50 409.80,589.51 410.04,589.49 410.28,589.48 410.51,589.50 410.75,589.50 410.99,589.50 411.23,589.51 411.46,589.49 411.70,589.48 411.94,589.49 412.18,589.50 412.41,589.48 412.65,589.50 412.89,589.50 413.13,589.50 413.37,589.49 413.60,589.49 413.84,589.48 414.08,589.48 414.32,589.48 414.55,589.49 414.79,589.49 415.03,589.51 415.27,589.53 415.50,589.53 415.74,589.53 415.98,589.52 416.22,589.52 416.45,589.50 416.69,589.53 416.93,589.52 417.17,589.51 417.40,589.51 417.64,589.51 417.88,589.50 418.12,589.49 418.35,589.49 418.59,589.50 418.83,589.50 419.07,589.50 419.30,589.51 419.54,589.52 419.78,589.51 420.02,589.52 420.25,589.51 420.49,589.52 420.73,589.53 420.97,589.52 421.20,589.54 421.44,589.55 421.68,589.54 421.92,589.53 422.15,589.53 422.39,589.54 422.63,589.55 422.87,589.53 423.11,589.53 423.34,589.55 423.58,589.55 423.82,589.55 424.06,589.55 424.29,589.54 424.53,589.54 424.77,589.54 425.01,589.54 425.24,589.53 425.48,589.55 425.72,589.55 425.96,589.53 426.19,589.54 426.43,589.55 426.67,589.55 426.91,589.56 427.14,589.58 427.38,589.57 427.62,589.59 427.86,589.59 428.09,589.57 428.33,589.58 428.57,589.58 428.81,589.57 429.04,589.58 429.28,589.58 429.52,589.58 429.76,589.58 429.99,589.59 430.23,589.60 430.47,589.60 430.71,589.59 430.94,589.60 431.18,589.60 431.42,589.60 431.66,589.60 431.89,589.60 432.13,589.59 432.37,589.60 432.61,589.60 432.85,589.59 433.08,589.59 433.32,589.59 433.56,589.59 433.80,589.59 434.03,589.59 434.27,589.60 434.51,589.60 434.75,589.61 434.98,589.60 435.22,589.58 435.46,589.61 435.70,589.60 435.93,589.60 436.17,589.61 436.41,589.60 436.65,589.61 436.88,589.62 437.12,589.61 437.36,589.62 437.60,589.62 437.83,589.61 438.07,589.62 438.31,589.61 438.55,589.60 438.78,589.59 439.02,589.59 439.26,589.60 439.50,589.59 439.73,589.58 439.97,589.58 440.21,589.58 440.45,589.56 440.68,589.58 440.92,589.57 441.16,589.58 441.40,589.58 441.63,589.57 441.87,589.59 442.11,589.58 442.35,589.56 442.58,589.54 442.82,589.55 443.06,589.55 443.30,589.56 443.54,589.54 443.77,589.54 444.01,589.55 444.25,589.54 444.49,589.55 444.72,589.56 444.96,589.56 445.20,589.54 445.44,589.55 445.67,589.54 445.91,589.52 446.15,589.52 446.39,589.52 446.62,589.50 446.86,589.52 447.10,589.51 447.34,589.52 447.57,589.52 447.81,589.49 448.05,589.49 448.29,589.48 448.52,589.47 448.76,589.46 449.00,589.45 449.24,589.45 449.47,589.43 449.71,589.40 449.95,589.38 450.19,589.37 450.42,589.34 450.66,589.35 450.90,589.33 451.14,589.34 451.37,589.37 451.61,589.36 451.85,589.36 452.09,589.33 452.32,589.36 452.56,589.32 452.80,589.32 453.04,589.35 453.28,589.31 453.51,589.28 453.75,589.27 453.99,589.26 454.23,589.29 454.46,589.27 454.70,589.28 454.94,589.29 455.18,589.28 455.41,589.26 455.65,589.28 455.89,589.30 456.13,589.29 456.36,589.30 456.60,589.28 456.84,589.29 457.08,589.31 457.31,589.29 457.55,589.28 457.79,589.30 458.03,589.28 458.26,589.30 458.50,589.29 458.74,589.28 458.98,589.28 459.21,589.29 459.45,589.29 459.69,589.28 459.93,589.28 460.16,589.28 460.40,589.28 460.64,589.29 460.88,589.28 461.11,589.29 461.35,589.29 461.59,589.27 461.83,589.29 462.06,589.26 462.30,589.28 462.54,589.29 462.78,589.25 463.02,589.25 463.25,589.26 463.49,589.30 463.73,589.28 463.97,589.28 464.20,589.29 464.44,589.30 464.68,589.29 464.92,589.27 465.15,589.27 465.39,589.26 465.63,589.28 465.87,589.27 466.10,589.28 466.34,589.26 466.58,589.27 466.82,589.24 467.05,589.24 467.29,589.24 467.53,589.22 467.77,589.26 468.00,589.21 468.24,589.22 468.48,589.23 468.72,589.20 468.95,589.23 469.19,589.22 469.43,589.21 469.67,589.22 469.90,589.24 470.14,589.20 470.38,589.22 470.62,589.23 470.85,589.24 471.09,589.25 471.33,589.21 471.57,589.24 471.80,589.21 472.04,589.25 472.28,589.22 472.52,589.24 472.76,589.24 472.99,589.22 473.23,589.21 473.47,589.20 473.71,589.24 473.94,589.23 474.18,589.23 474.42,589.23 474.66,589.22 474.89,589.23 475.13,589.24 475.37,589.22 475.61,589.23 475.84,589.22 476.08,589.22 476.32,589.22 476.56,589.20 476.79,589.24 477.03,589.23 477.27,589.22 477.51,589.23 477.74,589.23 477.98,589.23 478.22,589.21 478.46,589.23 478.69,589.23 478.93,589.24 479.17,589.22 479.41,589.24 479.64,589.23 479.88,589.24 480.12,589.22 480.36,589.22 480.59,589.22 480.83,589.21 481.07,589.21 481.31,589.19 481.54,589.22 481.78,589.22 482.02,589.20 482.26,589.22 482.50,589.21 482.73,589.22 482.97,589.24 483.21,589.23 483.45,589.23 483.68,589.22 483.92,589.23 484.16,589.19 484.40,589.21 484.63,589.21 484.87,589.23 485.11,589.25 485.35,589.22 485.58,589.23 485.82,589.22 486.06,589.17 486.30,589.21 486.53,589.22 486.77,589.17 487.01,589.17 487.25,589.20 487.48,589.16 487.72,589.16 487.96,589.16 488.20,589.15 488.43,589.15 488.67,589.12 488.91,589.17 489.15,589.18 489.38,589.17 489.62,589.14 489.86,589.14 490.10,589.13 490.33,589.10 490.57,589.08 490.81,589.12 491.05,589.13 491.28,589.15 491.52,589.14 491.76,589.12 492.00,589.12 492.24,589.09 492.47,589.13 492.71,589.12 492.95,589.12 493.19,589.09 493.42,589.11 493.66,589.09 493.90,589.12 494.14,589.14 494.37,589.13 494.61,589.12 494.85,589.08 495.09,589.09 495.32,589.09 495.56,589.09 495.80,589.06 496.04,589.08 496.27,589.08 496.51,589.08 496.75,589.06 496.99,589.04 497.22,589.00 497.46,588.96 497.70,588.95 497.94,588.93 498.17,588.93 498.41,588.92 498.65,588.90 498.89,588.89 499.12,588.91 499.36,588.87 499.60,588.87 499.84,588.83 500.07,588.83 500.31,588.80 500.55,588.80 500.79,588.83 501.02,588.77 501.26,588.79 501.50,588.78 501.74,588.74 501.98,588.75 502.21,588.75 502.45,588.77 502.69,588.75 502.93,588.78 503.16,588.78 503.40,588.80 503.64,588.84 503.88,588.85 504.11,588.82 504.35,588.83 504.59,588.83 504.83,588.83 505.06,588.79 505.30,588.73 505.54,588.78 505.78,588.77 506.01,588.74 506.25,588.69 506.49,588.70 506.73,588.75 506.96,588.73 507.20,588.69 507.44,588.70 507.68,588.69 507.91,588.64 508.15,588.69 508.39,588.64 508.63,588.70 508.86,588.65 509.10,588.68 509.34,588.68 509.58,588.66 509.81,588.69 510.05,588.65 510.29,588.66 510.53,588.65 510.76,588.67 511.00,588.71 511.24,588.72 511.48,588.71 511.71,588.74 511.95,588.75 512.19,588.78 512.43,588.82 512.67,588.77 512.90,588.82 513.14,588.85 513.38,588.87 513.62,588.90 513.85,588.95 514.09,588.95 514.33,588.94 514.57,588.90 514.80,588.91 515.04,588.98 515.28,588.97 515.52,588.94 515.75,588.93 515.99,588.95 516.23,588.94 516.47,588.95 516.70,588.96 516.94,588.93 517.18,588.93 517.42,588.99 517.65,588.98 517.89,589.01 518.13,589.03 518.37,589.02 518.60,589.04 518.84,589.04 519.08,589.05 519.32,589.02 519.55,589.02 519.79,589.02 520.03,588.97 520.27,588.99 520.50,588.99 520.74,589.01 520.98,588.97 521.22,589.01 521.45,589.01 521.69,588.97 521.93,588.93 522.17,588.97 522.41,589.00 522.64,589.00 522.88,589.04 523.12,588.98 523.36,589.00 523.59,588.99 523.83,588.95 524.07,589.01 524.31,588.94 524.54,588.95 524.78,588.96 525.02,588.92 525.26,588.88 525.49,588.91 525.73,588.93 525.97,588.91 526.21,588.90 526.44,588.90 526.68,588.95 526.92,588.93 527.16,588.95 527.39,588.93 527.63,588.92 527.87,588.93 528.11,588.94 528.34,588.87 528.58,588.88 528.82,588.88 529.06,588.85 529.29,588.85 529.53,588.83 529.77,588.84 530.01,588.80 530.24,588.81 530.48,588.82 530.72,588.82 530.96,588.85 531.19,588.82 531.43,588.83 531.67,588.78 531.91,588.82 532.15,588.78 532.38,588.79 532.62,588.77 532.86,588.81 533.10,588.81 533.33,588.84 533.57,588.82 533.81,588.81 534.05,588.83 534.28,588.81 534.52,588.82 534.76,588.82 535.00,588.80 535.23,588.81 535.47,588.81 535.71,588.81 535.95,588.79 536.18,588.82 536.42,588.82 536.66,588.82 536.90,588.82 537.13,588.81 537.37,588.81 537.61,588.81 537.85,588.85 538.08,588.83 538.32,588.82 538.56,588.80 538.80,588.81 539.03,588.80 539.27,588.82 539.51,588.80 539.75,588.82 539.98,588.84 540.22,588.85 540.46,588.85 540.70,588.84 540.93,588.82 541.17,588.84 541.41,588.82 541.65,588.75 541.89,588.75 542.12,588.74 542.36,588.73 542.60,588.70 542.84,588.69 543.07,588.72 543.31,588.74 543.55,588.73 543.79,588.75 544.02,588.73 544.26,588.76 544.50,588.73 544.74,588.75 544.97,588.69 545.21,588.69 545.45,588.68 545.69,588.73 545.92,588.78 546.16,588.84 546.40,588.79 546.64,588.75 546.87,588.75 547.11,588.79 547.35,588.72 547.59,588.76 547.82,588.74 548.06,588.77 548.30,588.73 548.54,588.70 548.77,588.71 549.01,588.70 549.25,588.67 549.49,588.68 549.72,588.67 549.96,588.63 550.20,588.65 550.44,588.61 550.67,588.58 550.91,588.53 551.15,588.52 551.39,588.56 551.63,588.48 551.86,588.48 552.10,588.42 552.34,588.42 552.58,588.45 552.81,588.48 553.05,588.39 553.29,588.38 553.53,588.42 553.76,588.29 554.00,588.31 554.24,588.30 554.48,588.28 554.71,588.27 554.95,588.28 555.19,588.26 555.43,588.16 555.66,588.01 555.90,587.96 556.14,587.92 556.38,588.00 556.61,588.14 556.85,588.28 557.09,588.32 557.33,588.42 557.56,588.45 557.80,588.59 558.04,588.58 558.28,588.59 558.51,588.61 558.75,588.56 558.99,588.55 559.23,588.53 559.46,588.46 559.70,588.41 559.94,588.51 560.18,588.49 560.41,588.45 560.65,588.36 560.89,588.40 561.13,588.37 561.37,588.33 561.60,588.46 561.84,588.34 562.08,588.39 562.32,588.32 562.55,588.28 562.79,588.25 563.03,588.22 563.27,588.18 563.50,588.21 563.74,588.16 563.98,588.23 564.22,588.18 564.45,588.21 564.69,588.18 564.93,588.13 565.17,588.12 565.40,588.15 565.64,588.15 565.88,588.07 566.12,588.10 566.35,588.14 566.59,588.17 566.83,588.10 567.07,588.06 567.30,588.04 567.54,588.08 567.78,587.97 568.02,587.87 568.25,587.88 568.49,587.85 568.73,587.80 568.97,587.74 569.20,587.76 569.44,587.75 569.68,587.73 569.92,587.69 570.15,587.67 570.39,587.73 570.63,587.86 570.87,587.86 571.10,587.91 571.34,588.06 571.58,588.05 571.82,588.08 572.06,588.11 572.29,588.19 572.53,588.23 572.77,588.30 573.01,588.25 573.24,588.24 573.48,588.30 573.72,588.28 573.96,588.28 574.19,588.30 574.43,588.31 574.67,588.34 574.91,588.32 575.14,588.30 575.38,588.32 575.62,588.32 575.86,588.21 576.09,588.14 576.33,588.11 576.57,588.09 576.81,588.05 577.04,588.03 577.28,587.94 577.52,587.93 577.76,587.87 577.99,587.97 578.23,587.89 578.47,587.85 578.71,587.79 578.94,587.86 579.18,587.96 579.42,587.95 579.66,587.96 579.89,587.90 580.13,587.86 580.37,587.81 580.61,587.81 580.84,587.82 581.08,587.77 581.32,587.75 581.56,587.63 581.80,587.57 582.03,587.53 582.27,587.53 582.51,587.52 582.75,587.53 582.98,587.55 583.22,587.52 583.46,587.58 583.70,587.56 583.93,587.41 584.17,587.38 584.41,587.31 584.65,587.30 584.88,587.24 585.12,587.29 585.36,587.14 585.60,586.89 585.83,586.71 586.07,586.75 586.31,586.69 586.55,586.68 586.78,586.57 587.02,586.63 587.26,586.55 587.50,586.40 587.73,586.27 587.97,586.22 588.21,585.96 588.45,586.15 588.68,586.07 588.92,585.83 589.16,585.61 589.40,585.47 589.63,585.48 589.87,585.91 590.11,586.20 590.35,586.02 590.58,585.91 590.82,585.78 591.06,585.63 591.30,585.65 591.54,585.43 591.77,585.21 592.01,585.27 592.25,585.16 592.49,585.10 592.72,585.03 592.96,585.00 593.20,584.73 593.44,584.83 593.67,584.67 593.91,584.67 594.15,585.01 594.39,585.31 594.62,585.57 594.86,585.67 595.10,585.62 595.34,585.57 595.57,585.60 595.81,585.68 596.05,585.69 596.29,585.53 596.52,585.63 596.76,585.53 597.00,585.66 597.24,585.67 597.47,585.72 597.71,585.50 597.95,585.55 598.19,585.47 598.42,585.48 598.66,585.51 598.90,585.50 599.14,585.61 599.37,585.75 599.61,585.95 599.85,585.92 600.09,585.95 600.32,586.10 600.56,586.04 600.80,586.13 601.04,586.12 601.28,586.42 601.51,586.38 601.75,586.53 601.99,586.56 602.23,586.43 602.46,586.40 602.70,586.14 602.94,586.10 603.18,585.92 603.41,585.73 603.65,585.47 603.89,585.29 604.13,585.30 604.36,585.30 604.60,585.16 604.84,584.98 605.08,585.01 605.31,584.75 605.55,584.64 605.79,584.62 606.03,584.69 606.26,584.39 606.50,584.44 606.74,584.21 606.98,584.21 607.21,584.06 607.45,583.91 607.69,583.74 607.93,583.54 608.16,583.56 608.40,583.25 608.64,583.30 608.88,582.99 609.11,582.56 609.35,582.39 609.59,582.22 609.83,582.18 610.06,582.28 610.30,582.41 610.54,582.30 610.78,582.07 611.02,581.71 611.25,581.67 611.49,581.53 611.73,581.41 611.97,581.27 612.20,581.34 612.44,581.43 612.68,581.34 612.92,581.22 613.15,581.14 613.39,581.46 613.63,581.73 613.87,581.99 614.10,582.01 614.34,582.28 614.58,582.55 614.82,582.67 615.05,583.30 615.29,583.56 615.53,583.89 615.77,583.87 616.00,584.03 616.24,584.21 616.48,584.07 616.72,583.82 616.95,583.55 617.19,583.23 617.43,583.15 617.67,582.95 617.90,582.93 618.14,582.75 618.38,582.57 618.62,582.55 618.85,582.63 619.09,582.44 619.33,582.48 619.57,582.62 619.80,582.51 620.04,582.32 620.28,582.04 620.52,581.98 620.75,581.85 620.99,581.76 621.23,581.21 621.47,581.03 621.71,580.83 621.94,580.58 622.18,580.92 622.42,580.68 622.66,580.38 622.89,580.24 623.13,579.69 623.37,579.65 623.61,579.81 623.84,579.69 624.08,579.58 624.32,579.34 624.56,579.07 624.79,579.15 625.03,578.73 625.27,578.94 625.51,578.97 625.74,578.85 625.98,578.53 626.22,578.07 626.46,578.35 626.69,578.11 626.93,578.18 627.17,577.93 627.41,577.57 627.64,577.89 627.88,576.90 628.12,577.37 628.36,577.38 628.59,577.22 628.83,577.11 629.07,577.14 629.31,576.62 629.54,577.12 629.78,578.03 630.02,578.96 630.26,579.24 630.49,578.27 630.73,577.53 630.97,577.26 631.21,576.97 631.45,576.28 631.68,575.89 631.92,575.96 632.16,575.17 632.40,574.41 632.63,574.38 632.87,573.48 633.11,573.27 633.35,573.20 633.58,573.05 633.82,572.29 634.06,571.96 634.30,571.92 634.53,571.09 634.77,570.29 635.01,568.79 635.25,567.23 635.48,564.80 635.72,563.95 635.96,562.34 636.20,560.16 636.43,561.63 636.67,562.31 636.91,564.69 637.15,562.91 637.38,561.96 637.62,560.19 637.86,558.69 638.10,556.15 638.33,554.74 638.57,555.10 638.81,557.49 639.05,560.06 639.28,561.81 639.52,563.24 639.76,565.05 640.00,564.64 640.23,562.98 640.47,561.13 640.71,561.07 640.95,562.67 641.19,564.90 641.42,566.09 641.66,567.22 641.90,565.23 642.14,564.89 642.37,563.61 642.61,562.73 642.85,561.47 643.09,561.38 643.32,559.08 643.56,560.75 643.80,563.04 644.04,563.54 644.27,564.90 644.51,565.66 644.75,566.61 644.99,567.45 645.22,568.59 645.46,569.11 645.70,569.75 645.94,569.33 646.17,568.48 646.41,567.43 646.65,566.85 646.89,566.85 647.12,567.59 647.36,568.19 647.60,568.87 647.84,568.63 648.07,569.86 648.31,570.04 648.55,570.95 648.79,570.92 649.02,570.62 649.26,571.56 649.50,572.41 649.74,574.52 649.97,575.46 650.21,576.46 650.45,577.52 650.69,576.08 650.93,575.91 651.16,574.64 651.40,574.40 651.64,574.40 651.88,573.51 652.11,573.30 652.35,572.88 652.59,572.48 652.83,571.05 653.06,571.09 653.30,571.44 653.54,570.54 653.78,569.42 654.01,569.75 654.25,569.52 654.49,569.31 654.73,569.26 654.96,568.92 655.20,568.83 655.44,568.70 655.68,568.80 655.91,569.11 656.15,569.48 656.39,569.20 656.63,569.74 656.86,569.21 657.10,568.88 657.34,569.96 657.58,570.51 657.81,570.56 658.05,570.99 658.29,570.69 658.53,571.65 658.76,572.50 659.00,572.56 659.24,573.92 659.48,574.11 659.71,574.24 659.95,575.42 660.19,575.17 660.43,574.03 660.67,573.73 660.90,573.75 661.14,573.59 661.38,573.86 661.62,574.17 661.85,575.20 662.09,575.83 662.33,575.83 662.57,575.92 662.80,576.63 663.04,576.95 663.28,577.01 663.52,577.52 663.75,578.12 663.99,578.12 664.23,578.15 664.47,578.52 664.70,578.07 664.94,577.59 665.18,577.52 665.42,577.05 665.65,576.97 665.89,577.44 666.13,576.88 666.37,576.63 666.60,576.04 666.84,576.56 667.08,575.96 667.32,575.67 667.55,575.39 667.79,574.50 668.03,574.53 668.27,573.64 668.50,573.61 668.74,573.49 668.98,572.77 669.22,572.64 669.45,572.80 669.69,572.29 669.93,572.14 670.17,571.58 670.41,571.63 670.64,572.27 670.88,572.45 671.12,571.85 671.36,572.27 671.59,572.28 671.83,572.19 672.07,572.13 672.31,572.01 672.54,571.87 672.78,571.73 673.02,572.31 673.26,573.36 673.49,573.55 673.73,574.23 673.97,574.06 674.21,574.43 674.44,574.79 674.68,574.76 674.92,575.05 675.16,575.85 675.39,575.69 675.63,575.46 675.87,575.90 676.11,576.37 676.34,576.70 676.58,576.66 676.82,577.17 677.06,577.16 677.29,577.56 677.53,577.07 677.77,576.58 678.01,577.34 678.24,577.33 678.48,577.41 678.72,577.76 678.96,578.07 679.19,577.93 679.43,577.85 679.67,577.82 679.91,577.94 680.14,577.70 680.38,577.45 680.62,577.90 680.86,578.07 681.10,578.08 681.33,578.77 681.57,577.84 681.81,577.87 682.05,577.89 682.28,577.97 682.52,577.70 682.76,577.45 683.00,577.29 683.23,577.56 683.47,578.06 683.71,578.37 683.95,578.69 684.18,578.87 684.42,579.41 684.66,579.33 684.90,579.39 685.13,579.57 685.37,579.48 685.61,579.57 685.85,579.12 686.08,579.12 686.32,579.10 686.56,578.80 686.80,578.09 687.03,578.09 687.27,578.43 687.51,578.15 687.75,578.44 687.98,578.57 688.22,578.09 688.46,578.23 688.70,578.32 688.93,578.43 689.17,577.70 689.41,577.47 689.65,576.89 689.88,576.50 690.12,576.08 690.36,576.05 690.60,575.26 690.84,574.99 691.07,575.20 691.31,575.22 691.55,575.51 691.79,575.90 692.02,576.15 692.26,577.12 692.50,576.46 692.74,577.17 692.97,577.65 693.21,577.93 693.45,578.60 693.69,578.19 693.92,578.47 694.16,578.62 694.40,578.78 694.64,578.60 694.87,578.48 695.11,578.63 695.35,578.67 695.59,578.79 695.82,578.46 696.06,578.43 696.30,578.04 696.54,577.88 696.77,577.50 697.01,577.23 697.25,577.66 697.49,577.54 697.72,577.34 697.96,577.50 698.20,577.00 698.44,577.22 698.67,577.37 698.91,577.62 699.15,577.24 699.39,577.09 699.62,577.34 699.86,577.26 700.10,577.43 700.34,576.84 700.58,576.84 700.81,576.62 701.05,577.30 701.29,578.50 701.53,578.79 701.76,578.64 702.00,579.31 702.24,578.99 702.48,578.88 702.71,578.70 702.95,578.60 703.19,578.96 703.43,579.12 703.66,578.81 703.90,578.88 704.14,578.75 704.38,578.50 704.61,579.05 704.85,578.57 705.09,578.57 705.33,579.19 705.56,578.71 705.80,578.53 706.04,578.92 706.28,578.07 706.51,578.25 706.75,578.39 706.99,578.07 707.23,578.01 707.46,578.02 707.70,577.67 707.94,578.21 708.18,577.79 708.41,577.96 708.65,578.10 708.89,578.49 709.13,578.08 709.36,577.81 709.60,577.84 709.84,577.98 710.08,577.73 710.32,578.25 710.55,578.72 710.79,578.62 711.03,578.93 711.27,578.39 711.50,577.92 711.74,578.39 711.98,578.38 712.22,578.68 712.45,578.45 712.69,578.54 712.93,578.68 713.17,578.51 713.40,578.55 713.64,579.02 713.88,578.65 714.12,578.54 714.35,578.77 714.59,578.85 714.83,578.86 715.07,578.80 715.30,578.84 715.54,578.61 715.78,578.88 716.02,578.52 716.25,578.20 716.49,578.59 716.73,578.78 716.97,578.48 717.20,578.61 717.44,579.26 717.68,579.73 717.92,580.24 718.15,580.56 718.39,580.99 718.63,581.15 718.87,581.86 719.10,581.75 719.34,582.23 719.58,582.29 719.82,582.55 720.06,583.13 720.29,583.10 720.53,582.81 720.77,582.85 721.01,582.77 721.24,582.87 721.48,582.88 721.72,582.95 721.96,582.74 722.19,583.06 722.43,582.95 722.67,583.26 722.91,583.08 723.14,583.19 723.38,583.24 723.62,583.45 723.86,583.58 724.09,583.59 724.33,583.77 724.57,583.83 724.81,584.21 725.04,584.08 725.28,583.94 725.52,583.63 725.76,583.60 725.99,583.73 726.23,583.54 726.47,583.18 726.71,582.84 726.94,582.59 727.18,582.68 727.42,582.55 727.66,583.11 727.89,583.15 728.13,582.98 728.37,583.24 728.61,583.31 728.84,583.19 729.08,583.27 729.32,583.23 729.56,583.33 729.80,583.56 730.03,583.17 730.27,583.49 730.51,583.48 730.75,583.53 730.98,583.49 731.22,583.65 731.46,583.47 731.70,583.67 731.93,583.57 732.17,583.47 732.41,583.39 732.65,583.49 732.88,583.37 733.12,583.51 733.36,583.14 733.60,583.40 733.83,583.32 734.07,583.37 734.31,583.49 734.55,583.33 734.78,583.49 735.02,583.73 735.26,583.52 735.50,583.59 735.73,583.47 735.97,583.54 736.21,583.42 736.45,583.39 736.68,583.39 736.92,583.43 737.16,583.69 737.40,583.58 737.63,583.85 737.87,583.78 738.11,583.77 738.35,583.85 738.58,583.53 738.82,583.64 739.06,583.66 739.30,583.39 739.53,583.52 739.77,583.59 740.01,583.32 740.25,583.27 740.49,583.06 740.72,583.36 740.96,583.28 741.20,583.25 741.44,582.55 741.67,582.59 741.91,582.75 742.15,582.52 742.39,582.65 742.62,582.49 742.86,582.51 743.10,582.59 743.34,582.53 743.57,582.45 743.81,582.40 744.05,582.34 744.29,582.45 744.52,582.41 744.76,582.44 745.00,582.21 745.24,582.31 745.47,582.48 745.71,582.36 745.95,582.41 746.19,582.49 746.42,582.51 746.66,582.49 746.90,582.38 747.14,582.60 747.37,582.38 747.61,582.47 747.85,582.42 748.09,582.42 748.32,582.49 748.56,582.57 748.80,582.44 749.04,582.63 749.27,582.70 749.51,582.70 749.75,582.42 749.99,582.59 750.23,581.93 750.46,581.14 750.70,581.05 750.94,580.75 751.18,580.64 751.41,580.67 751.65,580.36 751.89,580.63 752.13,580.67 752.36,580.68 752.60,581.03 752.84,580.96 753.08,580.84 753.31,580.69 753.55,580.29 753.79,580.50 754.03,580.74 754.26,580.89 754.50,580.55 754.74,580.29 754.98,579.94 755.21,580.43 755.45,580.05 755.69,580.07 755.93,580.00 756.16,579.83 756.40,579.83 756.64,579.36 756.88,579.03 757.11,578.32 757.35,578.22 757.59,577.91 757.83,578.25 758.06,577.87 758.30,578.18 758.54,578.05 758.78,577.78 759.01,577.91 759.25,577.75 759.49,577.34 759.73,577.34 759.97,576.95 760.20,576.80 760.44,575.53 760.68,576.13 760.92,575.57 761.15,575.29 761.39,574.92 761.63,575.51 761.87,574.88 762.10,574.84 762.34,574.63 762.58,574.82 762.82,574.30 763.05,574.51 763.29,574.47 763.53,574.38 763.77,574.87 764.00,574.43 764.24,574.27 764.48,573.96 764.72,574.93 764.95,574.93 765.19,575.17 765.43,575.43 765.67,575.65 765.90,575.90 766.14,575.00 766.38,575.23 766.62,574.14 766.85,573.91 767.09,573.25 767.33,573.18 767.57,573.20 767.80,572.96 768.04,572.03 768.28,571.80 768.52,571.02 768.75,570.40 768.99,570.43 769.23,569.75 769.47,568.88 769.71,568.98 769.94,568.45 770.18,568.39 770.42,568.08 770.66,566.67 770.89,567.25 771.13,566.79 771.37,567.68 771.61,568.98 771.84,569.41 772.08,570.65 772.32,569.95 772.56,569.29 772.79,569.73 773.03,569.95 773.27,569.68 773.51,568.03 773.74,568.64 773.98,567.40 774.22,568.37 774.46,567.90 774.69,569.23 774.93,569.83 775.17,571.41 775.41,572.72 775.64,572.82 775.88,572.90 776.12,572.82 776.36,572.12 776.59,572.07 776.83,572.32 777.07,571.85 777.31,571.86 777.54,572.10 777.78,572.73 778.02,573.11 778.26,572.87 778.49,572.38 778.73,571.84 778.97,570.73 779.21,571.07 779.45,570.31 779.68,570.41 779.92,569.69 780.16,568.71 780.40,568.66 780.63,568.70 780.87,569.83 781.11,569.81 781.35,568.75 781.58,569.27 781.82,568.81 782.06,568.72 782.30,568.75 782.53,569.74 782.77,568.78 783.01,569.28 783.25,569.45 783.48,570.46 783.72,570.57 783.96,570.24 784.20,570.52 784.43,570.47 784.67,571.03 784.91,571.56 785.15,571.61 785.38,572.94 785.62,572.50 785.86,572.82 786.10,573.17 786.33,572.68 786.57,573.43 786.81,573.12 787.05,572.73 787.28,572.81 787.52,573.02 787.76,572.80 788.00,572.46 788.23,572.58 788.47,572.88 788.71,572.60 788.95,572.68 789.19,571.95 789.42,571.96 789.66,571.82 789.90,572.96 790.14,571.84 790.37,571.36 790.61,571.56 790.85,572.29 791.09,572.46 791.32,572.90 791.56,573.70 791.80,574.00 792.04,574.49 792.27,574.63 792.51,574.92 792.75,574.96 792.99,574.21 793.22,575.13 793.46,574.57 793.70,574.62 793.94,574.97 794.17,574.63 794.41,574.88 794.65,574.60 794.89,574.85 795.12,574.72 795.36,574.38 795.60,575.57 795.84,575.13 796.07,575.52 796.31,575.61 796.55,575.79 796.79,576.09 797.02,576.54 797.26,575.87 797.50,576.50 797.74,576.13 797.97,576.53 798.21,576.37 798.45,576.37 798.69,576.46 798.92,576.44 799.16,575.38 799.40,574.11 799.64,572.82 799.88,572.63 800.11,572.21 800.35,572.75 800.59,572.88 800.83,572.66 801.06,572.61 801.30,573.64 801.54,573.62 801.78,573.83 802.01,573.73 802.25,573.52 802.49,574.05 802.73,573.58 802.96,573.82 803.20,573.73 803.44,574.02 803.68,574.48 803.91,574.58 804.15,573.89 804.39,574.39 804.63,575.32 804.86,575.41 805.10,575.37 805.34,575.48 805.58,575.78 805.81,576.09 806.05,575.97 806.29,576.69 806.53,577.17 806.76,577.34 807.00,577.47 807.24,577.66 807.48,577.58 807.71,577.11 807.95,577.04 808.19,577.43 808.43,577.03 808.66,577.21 808.90,577.21 809.14,577.22 809.38,577.21 809.62,576.99 809.85,577.32 810.09,577.45 810.33,577.41 810.57,577.16 810.80,577.35 811.04,577.54 811.28,577.46 811.52,577.56 811.75,577.71 811.99,577.89 812.23,577.84 812.47,577.90 812.70,577.86 812.94,577.88 813.18,577.85 813.42,577.61 813.65,577.16 813.89,577.40 814.13,577.55 814.37,577.33 814.60,576.88 814.84,577.06 815.08,576.78 815.32,576.98 815.55,576.92 815.79,577.59 816.03,577.21 816.27,576.96 816.50,577.12 816.74,576.31 816.98,576.04 817.22,576.02 817.45,575.32 817.69,575.00 817.93,574.03 818.17,574.23 818.40,574.26 818.64,574.09 818.88,574.03 819.12,573.59 819.36,573.43 819.59,573.52 819.83,573.73 820.07,573.68 820.31,573.36 820.54,573.45 820.78,573.43 821.02,573.17 821.26,572.29 821.49,573.18 821.73,572.69 821.97,573.38 822.21,573.04 822.44,573.40 822.68,573.00 822.92,572.64 823.16,573.01 823.39,572.56 823.63,572.07 823.87,572.48 824.11,571.78 824.34,571.50 824.58,572.13 824.82,572.10 825.06,572.13 825.29,572.32 825.53,571.94 825.77,571.19 826.01,571.48 826.24,570.97 826.48,570.67 826.72,571.61 826.96,571.13 827.19,572.14 827.43,572.18 827.67,571.81 827.91,572.34 828.14,572.28 828.38,572.85 828.62,572.91 828.86,573.51 829.10,573.41 829.33,574.27 829.57,574.62 829.81,574.92 830.05,574.70 830.28,574.66 830.52,574.76 830.76,574.35 831.00,575.06 831.23,574.83 831.47,575.53 831.71,576.97 831.95,578.66 832.18,579.86 832.42,581.14 832.66,580.84 832.90,580.67 833.13,580.24 833.37,579.91 833.61,579.81 833.85,579.46 834.08,579.64 834.32,579.75 834.56,579.72 834.80,579.57 835.03,579.87 835.27,579.51 835.51,579.36 835.75,579.44 835.98,579.23 836.22,579.68 836.46,579.14 836.70,578.85 836.93,578.43 837.17,578.11 837.41,578.59 837.65,578.13 837.88,578.23 838.12,578.23 838.36,578.41 838.60,577.86 838.84,577.70 839.07,577.46 839.31,577.40 839.55,577.88 839.79,577.34 840.02,576.62 840.26,576.38 840.50,576.96 840.74,577.32 840.97,576.65 841.21,576.65 841.45,576.01 841.69,576.17 841.92,575.85 842.16,576.48 842.40,576.15 842.64,574.99 842.87,575.32 843.11,574.38 843.35,574.21 843.59,573.99 843.82,574.09 844.06,573.37 844.30,573.19 844.54,572.90 844.77,572.95 845.01,572.62 845.25,572.18 845.49,571.91 845.72,571.92 845.96,572.89 846.20,573.04 846.44,574.27 846.67,574.34 846.91,574.30 847.15,573.72 847.39,573.55 847.62,572.83 847.86,573.37 848.10,573.04 848.34,572.70 848.58,572.83 848.81,572.64 849.05,573.13 849.29,572.11 849.53,572.22 849.76,571.41 850.00,571.35 850.24,571.32 850.48,571.46 850.71,571.50 850.95,571.01 851.19,571.36 851.43,571.38 851.66,571.56 851.90,572.31 852.14,572.13 852.38,571.49 852.61,571.56 852.85,571.70 853.09,571.02 853.33,572.15 853.56,572.09 853.80,572.52 854.04,571.88 854.28,572.09 854.51,572.55 854.75,572.49 854.99,572.98 855.23,572.92 855.46,573.23 855.70,573.12 855.94,572.98 856.18,573.59 856.41,573.02 856.65,572.33 856.89,573.09 857.13,573.38 857.36,573.39 857.60,574.10 857.84,573.73 858.08,573.76 858.31,573.94 858.55,573.96 858.79,573.88 859.03,573.97 859.27,574.15 859.50,574.43 859.74,574.01 859.98,573.97 860.22,573.61 860.45,573.90 860.69,573.39 860.93,573.45 861.17,573.44 861.40,573.51 861.64,573.32 861.88,573.32 862.12,573.82 862.35,573.76 862.59,573.62 862.83,573.57 863.07,573.25 863.30,573.31 863.54,573.00 863.78,572.19 864.02,571.79 864.25,571.05 864.49,570.72 864.73,571.06 864.97,570.11 865.20,569.98 865.44,570.16 865.68,570.41 865.92,570.38 866.15,570.40 866.39,570.05 866.63,570.29 866.87,570.45 867.10,570.08 867.34,570.58 867.58,570.62 867.82,570.24 868.05,569.94 868.29,568.86 868.53,569.51 868.77,569.07 869.01,568.78 869.24,569.41 869.48,568.45 869.72,568.35 869.96,567.76 870.19,568.14 870.43,567.88 870.67,568.06 870.91,568.77 871.14,569.37 871.38,569.94 871.62,569.60 871.86,570.11 872.09,569.94 872.33,570.15 872.57,570.63 872.81,572.04 873.04,571.32 873.28,571.67 873.52,571.01 873.76,571.46 873.99,571.71 874.23,572.19 874.47,571.92 874.71,571.98 874.94,572.27 875.18,572.43 875.42,571.93 875.66,571.62 875.89,571.62 876.13,571.38 876.37,570.57 876.61,570.86 876.84,570.12 877.08,569.84 877.32,570.44 877.56,569.90 877.79,570.38 878.03,570.21 878.27,570.40 878.51,570.49 878.75,570.80 878.98,571.59 879.22,570.26 879.46,570.17 879.70,570.57 879.93,570.10 880.17,570.64 880.41,570.47 880.65,570.25 880.88,569.34 881.12,569.58 881.36,568.80 881.60,568.65 881.83,568.41 882.07,568.74 882.31,569.70 882.55,568.90 882.78,567.77 883.02,568.19 883.26,569.23 883.50,567.56 883.73,567.98 883.97,567.52 884.21,567.27 884.45,567.81 884.68,566.96 884.92,566.47 885.16,566.67 885.40,566.85 885.63,566.11 885.87,566.65 886.11,564.41 886.35,564.05 886.58,563.61 886.82,564.39 887.06,563.36 887.30,564.99 887.53,563.19 887.77,562.76 888.01,561.88 888.25,562.21 888.49,562.77 888.72,562.36 888.96,561.97 889.20,561.71 889.44,561.45 889.67,560.96 889.91,559.08 890.15,558.93 890.39,559.36 890.62,560.12 890.86,558.17 891.10,558.22 891.34,556.78 891.57,557.77 891.81,557.99 892.05,557.48 892.29,555.65 892.52,555.79 892.76,555.62 893.00,554.26 893.24,555.28 893.47,555.46 893.71,556.97 893.95,559.08 894.19,557.30 894.42,557.65 894.66,557.17 894.90,558.10 895.14,557.23 895.37,557.83 895.61,557.49 895.85,558.30 896.09,556.89 896.32,556.41 896.56,557.12 896.80,556.77 897.04,556.51 897.27,556.67 897.51,554.97 897.75,554.87 897.99,553.42 898.23,553.32 898.46,552.04 898.70,551.49 898.94,551.70 899.18,551.83 899.41,549.26 899.65,549.39 899.89,549.16 900.13,550.32 900.36,549.02 900.60,546.81 900.84,547.14 901.08,543.97 901.31,542.08 901.55,540.14 901.79,538.39 902.03,537.68 902.26,537.56 902.50,534.44 902.74,531.98 902.98,529.27 903.21,527.35 903.45,523.10 903.69,522.84 903.93,521.47 904.16,516.41 904.40,521.77 904.64,528.71 904.88,528.52 905.11,524.00 905.35,522.34 905.59,519.48 905.83,521.75 906.06,524.96 906.30,529.19 906.54,527.86 906.78,530.42 907.01,532.79 907.25,532.58 907.49,534.31 907.73,534.97 907.97,532.13 908.20,535.45 908.44,531.24 908.68,528.30 908.92,526.80 909.15,523.89 909.39,524.20 909.63,522.72 909.87,519.99 910.10,519.37 910.34,517.49 910.58,516.03 910.82,512.93 911.05,513.59 911.29,508.12 911.53,506.82 911.77,500.94 912.00,501.00 912.24,503.47 912.48,502.72 912.72,502.84 912.95,496.40 913.19,495.04 913.43,496.27 913.67,495.52 913.90,496.18 914.14,491.39 914.38,493.70 914.62,486.03 914.85,492.06 915.09,494.33 915.33,499.42 915.57,500.18 915.80,504.61 916.04,507.88 916.28,508.63 916.52,504.11 916.75,502.47 916.99,495.74 917.23,494.51 917.47,496.06 917.70,496.58 917.94,497.79 918.18,491.33 918.42,491.73 918.66,488.22 918.89,488.50 919.13,484.19 919.37,479.70 919.61,480.47 919.84,485.59 920.08,488.14 920.32,485.65 920.56,486.79 920.79,489.52 921.03,489.46 921.27,491.06 921.51,492.30 921.74,498.01 921.98,495.02 922.22,495.97 922.46,494.10 922.69,496.03 922.93,491.02 923.17,488.34 923.41,488.69 923.64,484.98 923.88,486.01 924.12,486.35 924.36,484.01 924.59,479.75 924.83,480.06 925.07,483.66 925.31,484.94 925.54,482.55 925.78,481.71 926.02,481.82 926.26,479.26 926.49,477.61 926.73,475.18 926.97,478.92 927.21,480.82 927.44,477.43 927.68,484.35 927.92,481.64 928.16,492.93 928.40,492.25 928.63,497.08 928.87,498.97 929.11,503.71 929.35,502.01 929.58,501.40 929.82,501.47 930.06,498.56 930.30,502.89 930.53,500.69 930.77,498.52 931.01,495.59 931.25,494.75 931.48,493.72 931.72,490.46 931.96,489.46 932.20,487.49 932.43,485.25 932.67,485.12 932.91,485.83 933.15,491.81 933.38,494.68 933.62,497.88 933.86,504.34 934.10,509.57 934.33,513.12 934.57,516.86 934.81,518.54 935.05,519.38 935.28,523.10 935.52,521.20 935.76,523.90 936.00,521.57 936.23,523.96 936.47,521.42 936.71,521.63 936.95,523.44 937.18,525.19 937.42,521.70 937.66,522.16 937.90,521.80 938.14,523.10 938.37,525.12 938.61,526.34 938.85,524.89 939.09,525.25 939.32,526.89 939.56,526.26 939.80,526.33 940.04,529.44 940.27,527.83 940.51,527.38 940.75,527.46 940.99,528.22 941.22,528.48 941.46,526.87 941.70,527.53 941.94,526.39 942.17,528.21 942.41,528.96 942.65,529.85 942.89,528.52 943.12,532.10 943.36,532.14 943.60,533.43 943.84,534.55 944.07,533.84 944.31,533.71 944.55,533.71 944.79,533.79 945.02,533.19 945.26,532.54 945.50,533.53 945.74,533.92 945.97,534.10 946.21,531.86 946.45,535.60 946.69,535.13 946.92,534.80 947.16,534.14 947.40,533.01 947.64,535.91 947.88,537.71 948.11,536.06 948.35,534.44 948.59,534.13 948.83,534.51 949.06,532.92 949.30,533.61 949.54,534.50 949.78,534.83 950.01,536.12 950.25,535.09 950.49,531.90 950.73,529.93 950.96,529.92 951.20,528.06 951.44,526.19 951.68,522.70 951.91,523.29 952.15,520.88 952.39,520.38 952.63,514.96 952.86,515.67 953.10,514.97 953.34,515.48 953.58,517.05 953.81,517.97 954.05,516.81 954.29,513.55 954.53,514.21 954.76,513.06 955.00,515.36 955.24,514.93 955.48,515.05 955.71,513.51 955.95,514.01 956.19,515.43 956.43,515.35 956.66,511.29 956.90,508.92 957.14,506.59 957.38,506.94 957.62,504.09 957.85,501.40 958.09,500.53 958.33,501.78 958.57,499.70 958.80,499.42 959.04,496.74 959.28,497.08 959.52,496.64 959.75,493.67 959.99,496.05 960.23,497.04 960.47,495.53 960.70,493.58 960.94,497.10 961.18,492.45 961.42,496.33 961.65,499.19 961.89,503.71 962.13,499.56 962.37,502.83 962.60,504.25 962.84,507.97 963.08,507.85 963.32,509.94 963.55,510.37 963.79,512.78 964.03,517.21 964.27,515.66 964.50,513.89 964.74,514.70 964.98,516.59 965.22,514.66 965.45,512.04 965.69,511.78 965.93,512.33 966.17,509.18 966.40,507.06 966.64,505.63 966.88,503.38 967.12,503.38 967.36,503.21 967.59,504.98 967.83,503.33 968.07,500.27 968.31,495.86 968.54,494.46 968.78,492.71 969.02,491.16 969.26,488.29 969.49,486.05 969.73,488.20 969.97,489.53 970.21,490.56 970.44,486.97 970.68,489.61 970.92,481.48 971.16,481.47 971.39,479.86 971.63,477.15 971.87,470.66 972.11,473.73 972.34,477.32 972.58,471.95 972.82,477.51 973.06,480.47 973.29,483.97 973.53,485.12 973.77,486.31 974.01,487.16 974.24,480.82 974.48,478.02 974.72,475.64 974.96,474.15 975.19,481.09 975.43,473.59 975.67,473.97 975.91,471.69 976.14,470.72 976.38,472.67 976.62,467.95 976.86,466.17 977.09,467.49 977.33,471.58 977.57,470.75 977.81,472.44 978.05,472.91 978.28,480.01 978.52,479.71 978.76,487.11 979.00,487.59 979.23,489.04 979.47,488.92 979.71,491.40 979.95,494.91 980.18,492.50 980.42,496.09 980.66,495.76 980.90,498.73 981.13,498.05 981.37,504.50 981.61,499.28 981.85,501.57 982.08,503.83 982.32,499.56 982.56,501.40 982.80,501.81 983.03,502.02 983.27,501.48 983.51,501.67 983.75,500.64 983.98,501.00 984.22,501.55 984.46,501.17 984.70,501.04 984.93,502.21 985.17,500.81 985.41,502.73 985.65,503.21 985.88,501.18 986.12,503.67 986.36,502.98 986.60,501.34 986.83,505.87 987.07,500.94 987.31,502.21 987.55,498.56 987.79,496.97 988.02,498.32 988.26,498.19 988.50,500.60 988.74,504.81 988.97,506.28 989.21,506.27 989.45,506.08 989.69,508.59 989.92,506.31 990.16,508.79 990.40,505.14 990.64,507.50 990.87,511.48 991.11,511.06 991.35,514.42 991.59,514.55 991.82,516.58 992.06,516.46 992.30,515.03 992.54,515.39 992.77,519.07 993.01,519.44 993.25,518.97 993.49,521.10 993.72,522.71 993.96,526.24 994.20,526.71 994.44,524.59 994.67,528.24 994.91,526.18 995.15,523.99 995.39,523.91 995.62,524.60 995.86,524.83 996.10,522.86 996.34,521.26 996.57,516.68 996.81,518.04 997.05,514.31 997.29,516.09 997.53,516.33 997.76,513.64 998.00,514.21 998.24,514.77 998.48,508.54 998.71,510.44 998.95,511.83 999.19,512.75 999.43,515.21 999.66,515.10 999.90,515.52 1000.14,517.12 1000.38,517.53 1000.61,521.19 1000.85,516.72 1001.09,515.72 1001.33,517.84 1001.56,521.40 1001.80,519.98 1002.04,521.29 1002.28,518.58 1002.51,520.47 1002.75,520.19 1002.99,519.83 1003.23,517.77 1003.46,516.76 1003.70,515.54 1003.94,515.60 1004.18,516.77 1004.41,510.25 1004.65,513.71 1004.89,512.50 1005.13,510.77 1005.36,510.23 1005.60,510.14 1005.84,510.40 1006.08,509.56 1006.31,507.81 1006.55,511.30 1006.79,511.89 1007.03,511.50 1007.27,515.74 1007.50,511.26 1007.74,515.61 1007.98,515.17 1008.22,515.86 1008.45,516.09 1008.69,515.95 1008.93,512.94 1009.17,511.60 1009.40,508.10 1009.64,506.73 1009.88,504.29 1010.12,507.84 1010.35,510.54 1010.59,511.60 1010.83,511.15 1011.07,508.07 1011.30,510.29 1011.54,511.42 1011.78,514.56 1012.02,515.62 1012.25,517.11 1012.49,514.18 1012.73,514.61 1012.97,518.58 1013.20,517.82 1013.44,518.73 1013.68,519.84 1013.92,521.76 1014.15,519.24 1014.39,518.41 1014.63,517.27 1014.87,518.59 1015.10,516.75 1015.34,518.98 1015.58,519.36 1015.82,519.49 1016.05,519.21 1016.29,520.07 1016.53,518.86 1016.77,520.57 1017.01,518.74 1017.24,517.44 1017.48,519.36 1017.72,518.52 1017.96,519.65 1018.19,521.22 1018.43,518.21 1018.67,522.33 1018.91,521.81 1019.14,524.71 1019.38,526.60 1019.62,527.70 1019.86,532.05 1020.09,532.99 1020.33,537.56 1020.57,539.17 1020.81,537.12 1021.04,534.96 1021.28,534.71 1021.52,537.66 1021.76,538.58 1021.99,537.61 1022.23,536.36 1022.47,534.91 1022.71,536.15 1022.94,537.42 1023.18,537.06 1023.42,535.29 1023.66,533.17 1023.89,532.91 1024.13,533.39 1024.37,534.28 1024.61,534.36 1024.84,532.95 1025.08,534.53 1025.32,532.90 1025.56,532.59 1025.79,533.24 1026.03,531.66 1026.27,533.40 1026.51,535.06 1026.75,536.66 1026.98,538.23 1027.22,538.90 1027.46,541.56 1027.70,544.24 1027.93,548.15 1028.17,548.62 1028.41,551.24 1028.65,553.49 1028.88,555.33 1029.12,555.64 1029.36,555.14 1029.60,554.31 1029.83,552.41 1030.07,553.51 1030.31,552.76 1030.55,552.84 1030.78,553.19 1031.02,553.61 1031.26,552.87 1031.50,552.85 1031.73,552.51 1031.97,551.22 1032.21,551.69 1032.45,551.51 1032.68,551.16 1032.92,551.11 1033.16,551.15 1033.40,552.83 1033.63,551.09 1033.87,550.94 1034.11,551.40 1034.35,551.28 1034.58,551.47 1034.82,550.88 1035.06,548.71 1035.30,549.73 1035.53,549.50 1035.77,548.45 1036.01,548.88 1036.25,549.43 1036.48,550.16 1036.72,549.39 1036.96,547.18 1037.20,548.14 1037.44,547.52 1037.67,545.96 1037.91,546.56 1038.15,548.30 1038.39,547.50 1038.62,547.13 1038.86,547.25 1039.10,546.60 1039.34,545.27 1039.57,544.69 1039.81,544.75 1040.05,547.14 1040.29,547.58 1040.52,547.14 1040.76,544.55 1041.00,544.24 1041.24,546.30 1041.47,545.82 1041.71,546.37 1041.95,546.48 1042.19,546.68 1042.42,546.93 1042.66,545.88 1042.90,546.71 1043.14,544.94 1043.37,545.33 1043.61,546.71 1043.85,547.85 1044.09,548.22 1044.32,549.72 1044.56,549.57 1044.80,551.52 1045.04,551.72 1045.27,553.68 1045.51,553.54 1045.75,554.77 1045.99,554.74 1046.22,553.95 1046.46,555.86 1046.70,555.52 1046.94,555.24 1047.18,554.73 1047.41,556.34 1047.65,555.16 1047.89,553.86 1048.13,554.28 1048.36,553.68 1048.60,553.98 1048.84,555.49 1049.08,555.04 1049.31,554.37 1049.55,553.74 1049.79,553.47 1050.03,553.42 1050.26,553.41 1050.50,552.93 1050.74,553.83 1050.98,553.06 1051.21,552.78 1051.45,553.08 1051.69,553.42 1051.93,553.13 1052.16,553.35 1052.40,553.66 1052.64,554.17 1052.88,554.60 1053.11,554.26 1053.35,554.91 1053.59,553.49 1053.83,554.99 1054.06,554.77 1054.30,553.83 1054.54,553.65 1054.78,555.04 1055.01,553.66 1055.25,553.76 1055.49,554.14 1055.73,554.05 1055.96,553.58 1056.20,554.31 1056.44,554.34 1056.68,554.37 1056.92,554.82 1057.15,554.09 1057.39,553.97 1057.63,552.62 1057.87,554.72 1058.10,554.46 1058.34,553.78 1058.58,555.26 1058.82,554.29 1059.05,553.24 1059.29,553.96 1059.53,553.73 1059.77,553.84 1060.00,554.48 1060.24,554.50 1060.48,553.80 1060.72,553.41 1060.95,553.07 1061.19,552.70 1061.43,551.65 1061.67,552.11 1061.90,551.31 1062.14,552.50 1062.38,551.49 1062.62,554.13 1062.85,556.71 1063.09,559.04 1063.33,561.25 1063.57,561.48 1063.80,562.00 1064.04,561.91 1064.28,561.89 1064.52,561.46 1064.75,561.69 1064.99,562.07 1065.23,562.31 1065.47,562.15 1065.70,561.71 1065.94,561.44 1066.18,561.43 1066.42,561.26 1066.66,559.38 1066.89,561.24 1067.13,561.31 1067.37,561.63 1067.61,561.36 1067.84,561.34 1068.08,560.57 1068.32,560.01 1068.56,560.57 1068.79,560.27 1069.03,560.01 1069.27,560.16 1069.51,558.55 1069.74,558.61 1069.98,557.52 1070.22,557.05 1070.46,557.98 1070.69,557.60 1070.93,557.04 1071.17,556.75 1071.41,557.83 1071.64,557.81 1071.88,558.70 1072.12,557.65 1072.36,558.69 1072.59,558.96 1072.83,558.85 1073.07,558.21 1073.31,557.38 1073.54,557.74 1073.78,557.45 1074.02,559.51 1074.26,559.17 1074.49,559.30 1074.73,560.04 1074.97,560.30 1075.21,560.14 1075.44,560.26 1075.68,560.16 1075.92,559.93 1076.16,559.38 1076.40,557.33 1076.63,557.56 1076.87,559.16 1077.11,557.64 1077.35,557.30 1077.58,557.24 1077.82,556.10 1078.06,556.22 1078.30,554.85 1078.53,553.66 1078.77,552.97 1079.01,552.21 1079.25,551.71 1079.48,551.13 1079.72,551.15 1079.96,549.59 1080.20,551.59 1080.43,549.48 1080.67,550.49 1080.91,548.52 1081.15,547.83 1081.38,547.42 1081.62,548.06 1081.86,546.30 1082.10,547.76 1082.33,545.42 1082.57,547.15 1082.81,547.78 1083.05,546.65 1083.28,545.27 1083.52,547.94 1083.76,547.57 1084.00,546.69 1084.23,548.00 1084.47,548.39 1084.71,548.02 1084.95,545.70 1085.18,544.03 1085.42,545.41 1085.66,543.94 1085.90,544.78 1086.14,547.57 1086.37,547.10 1086.61,546.74 1086.85,548.19 1087.09,548.14 1087.32,546.86 1087.56,546.69 1087.80,545.16 1088.04,546.63 1088.27,546.47 1088.51,547.32 1088.75,546.80 1088.99,547.18 1089.22,546.08 1089.46,549.25 1089.70,549.44 1089.94,549.24 1090.17,550.77 1090.41,549.86 1090.65,550.88 1090.89,552.37 1091.12,552.76 1091.36,552.15 1091.60,554.11 1091.84,554.27 1092.07,553.66 1092.31,551.73 1092.55,550.48 1092.79,549.16 1093.02,548.01 1093.26,545.93 1093.50,544.36 1093.74,541.33 1093.97,540.46 1094.21,539.04 1094.45,540.70 1094.69,539.68 1094.92,539.09 1095.16,541.98 1095.40,539.38 1095.64,539.03 1095.88,537.75 1096.11,539.21 1096.35,539.97 1096.59,540.14 1096.83,538.75 1097.06,539.85 1097.30,539.45 1097.54,538.64 1097.78,537.85 1098.01,537.07 1098.25,537.88 1098.49,536.22 1098.73,538.74 1098.96,537.60 1099.20,538.88 1099.44,538.00 1099.68,537.93 1099.91,534.97 1100.15,535.53 1100.39,535.03 1100.63,534.63 1100.86,535.28 1101.10,536.32 1101.34,534.18 1101.58,535.35 1101.81,534.72 1102.05,535.69 1102.29,533.81 1102.53,534.73 1102.76,533.91 1103.00,534.37 1103.24,533.69 1103.48,535.56 1103.71,532.42 1103.95,535.03 1104.19,534.24 1104.43,536.40 1104.66,536.46 1104.90,536.18 1105.14,534.72 1105.38,536.87 1105.61,536.95 1105.85,536.19 1106.09,538.25 1106.33,539.38 1106.57,538.23 1106.80,541.36 1107.04,541.91 1107.28,541.99 1107.52,542.16 1107.75,544.48 1107.99,543.01 1108.23,544.61 1108.47,545.10 1108.70,546.10 1108.94,541.90 1109.18,540.97 1109.42,542.07 1109.65,541.94 1109.89,542.56 1110.13,543.20 1110.37,541.93 1110.60,541.40 1110.84,540.30 1111.08,542.40 1111.32,541.86 1111.55,541.71 1111.79,540.87 1112.03,542.92 1112.27,542.99 1112.50,543.36 1112.74,543.16 1112.98,543.90 1113.22,545.62 1113.45,545.13 1113.69,543.50 1113.93,544.48 1114.17,543.71 1114.40,543.40 1114.64,543.27 1114.88,543.19 1115.12,544.79 1115.35,543.05 1115.59,543.83 1115.83,543.34 1116.07,541.13 1116.31,541.14 1116.54,537.80 1116.78,535.75 1117.02,534.49 1117.26,536.71 1117.49,535.07 1117.73,534.99 1117.97,534.26 1118.21,534.71 1118.44,535.44 1118.68,533.64 1118.92,533.00 1119.16,532.16 1119.39,533.82 1119.63,532.27 1119.87,530.98 1120.11,533.90 1120.34,532.95 1120.58,532.34 1120.82,531.48 1121.06,533.93 1121.29,535.08 1121.53,535.88 1121.77,533.22 1122.01,532.16 1122.24,532.07 1122.48,531.89 1122.72,530.68 1122.96,532.98 1123.19,532.70 1123.43,533.82 1123.67,535.87 1123.91,535.78 1124.14,536.69 1124.38,538.46 1124.62,537.86 1124.86,536.89 1125.09,538.97 1125.33,536.45 1125.57,537.74 1125.81,537.51 1126.05,537.95 1126.28,537.86 1126.52,538.63 1126.76,540.82 1127.00,540.52 1127.23,541.36 1127.47,541.42 1127.71,542.88 1127.95,541.26 1128.18,542.38 1128.42,542.03 1128.66,542.45 1128.90,541.58 1129.13,541.31 1129.37,540.56 1129.61,541.43 1129.85,540.80 1130.08,541.90 1130.32,541.99 1130.56,540.42 1130.80,542.43 1131.03,539.75 1131.27,542.22 1131.51,542.91 1131.75,543.47 1131.98,542.65 1132.22,544.64 1132.46,544.49 1132.70,542.50 1132.93,542.80 1133.17,542.59 1133.41,541.55 1133.65,541.05 1133.88,541.53 1134.12,541.83 1134.36,541.26 1134.60,541.02 1134.83,540.66 1135.07,543.65 1135.31,543.17 1135.55,542.47 1135.79,544.08 1136.02,544.61 1136.26,544.67 1136.50,543.30 1136.74,542.25 1136.97,542.59 1137.21,543.91 1137.45,541.47 1137.69,542.49 1137.92,541.97 1138.16,542.12 1138.40,541.57 1138.64,540.98 1138.87,542.47 1139.11,542.85 1139.35,542.82 1139.59,543.56 1139.82,541.80 1140.06,539.93 1140.30,540.82 1140.54,540.35 1140.77,539.37 1141.01,538.42 1141.25,537.22 1141.49,537.21 1141.72,537.78 1141.96,536.33 1142.20,537.70 1142.44,535.19 1142.67,535.72 1142.91,538.24 1143.15,535.41 1143.39,535.72 1143.62,533.95 1143.86,531.46 1144.10,532.40 1144.34,533.18 1144.57,532.70 1144.81,535.44 1145.05,534.92 1145.29,535.07 1145.53,532.60 1145.76,530.49 1146.00,531.73 1146.24,528.52 1146.48,528.33 1146.71,526.47 1146.95,524.54 1147.19,526.11 1147.43,523.42 1147.66,524.81 1147.90,525.01 1148.14,525.33 1148.38,527.10 1148.61,524.47 1148.85,525.55 1149.09,526.48 1149.33,527.33 1149.56,526.21 1149.80,527.29 1150.04,523.64 1150.28,523.29 1150.51,522.69 1150.75,523.93 1150.99,519.98 1151.23,519.88 1151.46,517.82 1151.70,514.59 1151.94,513.66 1152.18,513.34 1152.41,513.57 1152.65,512.89 1152.89,512.13 1153.13,509.70 1153.36,512.58 1153.60,508.13 1153.84,508.53 1154.08,513.00 1154.31,514.13 1154.55,512.21 1154.79,516.09 1155.03,514.58 1155.26,513.61 1155.50,512.79 1155.74,509.01 1155.98,510.37 1156.22,510.44 1156.45,514.28 1156.69,513.19 1156.93,514.36 1157.17,513.59 1157.40,514.15 1157.64,514.18 1157.88,515.48 1158.12,515.50 1158.35,514.52 1158.59,515.47 1158.83,511.73 1159.07,514.08 1159.30,512.16 1159.54,511.21 1159.78,513.60 1160.02,512.74 1160.25,512.77 1160.49,513.08 1160.73,513.48 1160.97,515.53 1161.20,514.19 1161.44,514.74 1161.68,513.98 1161.92,513.63 1162.15,513.74 1162.39,513.51 1162.63,511.50 1162.87,508.07 1163.10,505.80 1163.34,505.21 1163.58,510.95 1163.82,511.92 1164.05,510.31 1164.29,507.84 1164.53,506.91 1164.77,509.37 1165.00,505.92 1165.24,506.77 1165.48,506.48 1165.72,508.63 1165.96,513.06 1166.19,510.76 1166.43,514.35 1166.67,513.63 1166.91,512.58 1167.14,517.94 1167.38,515.16 1167.62,517.23 1167.86,518.58 1168.09,518.68 1168.33,517.17 1168.57,519.15 1168.81,513.54 1169.04,513.34 1169.28,512.03 1169.52,510.16 1169.76,509.03 1169.99,511.54 1170.23,512.53 1170.47,511.71 1170.71,511.79 1170.94,510.37 1171.18,508.94 1171.42,507.35 1171.66,502.57 1171.89,499.22 1172.13,498.00 1172.37,496.18 1172.61,496.38 1172.84,497.15 1173.08,496.33 1173.32,494.93 1173.56,498.11 1173.79,491.12 1174.03,492.53 1174.27,491.22 1174.51,489.44 1174.74,490.10 1174.98,489.59 1175.22,486.93 1175.46,484.90 1175.70,479.94 1175.93,478.35 1176.17,479.83 1176.41,476.99 1176.65,477.28 1176.88,472.88 1177.12,470.84 1177.36,466.50 1177.60,462.31 1177.83,461.86 1178.07,465.48 1178.31,460.49 1178.55,458.59 1178.78,464.45 1179.02,459.52 1179.26,458.80 1179.50,458.71 1179.73,457.89 1179.97,461.62 1180.21,461.99 1180.45,470.23 1180.68,474.64 1180.92,474.46 1181.16,474.95 1181.40,477.89 1181.63,476.96 1181.87,476.33 1182.11,475.15 1182.35,469.14 1182.58,468.66 1182.82,464.33 1183.06,465.21 1183.30,465.45 1183.53,464.51 1183.77,465.17 1184.01,466.07 1184.25,467.26 1184.48,466.56 1184.72,469.17 1184.96,470.66 1185.20,469.73 1185.44,469.24 1185.67,469.72 1185.91,467.24 1186.15,470.58 1186.39,471.09 1186.62,470.22 1186.86,468.85 1187.10,472.30 1187.34,472.22 1187.57,472.63 1187.81,474.82 1188.05,479.16 1188.29,479.62 1188.52,481.13 1188.76,482.73 1189.00,480.40 1189.24,479.28 1189.47,478.57 1189.71,484.75 1189.95,482.63 1190.19,486.27 1190.42,486.12 1190.66,485.76 1190.90,483.88 1191.14,484.97 1191.37,486.93 1191.61,486.06 1191.85,484.23 1192.09,480.12 1192.32,481.19 1192.56,481.43 1192.80,472.35 1193.04,474.59 1193.27,473.80 1193.51,475.16 1193.75,475.05 1193.99,467.59 1194.22,473.82 1194.46,469.94 1194.70,465.50 1194.94,470.01 1195.18,469.98 1195.41,465.09 1195.65,467.27 1195.89,462.51 1196.13,463.43 1196.36,467.78 1196.60,463.79 1196.84,462.59 1197.08,461.84 1197.31,462.10 1197.55,461.38 1197.79,462.96 1198.03,460.93 1198.26,461.80 1198.50,461.56 1198.74,462.45 1198.98,460.66 1199.21,465.17 1199.45,463.26 1199.69,460.55 1199.93,464.35 1200.16,463.43 1200.40,468.62 1200.64,461.95 1200.88,466.87 1201.11,462.92 1201.35,460.83 1201.59,471.89 1201.83,469.22 1202.06,470.98 1202.30,470.98 1202.54,472.50 1202.78,476.39 1203.01,473.72 1203.25,479.16 1203.49,481.96 1203.73,480.54 1203.96,486.38 1204.20,486.68 1204.44,484.08 1204.68,480.00 1204.92,481.45 1205.15,483.54 1205.39,487.76 1205.63,487.84 1205.87,487.14 1206.10,486.22 1206.34,487.21 1206.58,491.47 1206.82,492.36 1207.05,489.89 1207.29,491.16 1207.53,494.62 1207.77,494.20 1208.00,492.80 1208.24,493.43 1208.48,489.72 1208.72,485.16 1208.95,490.08 1209.19,484.40 1209.43,480.16 1209.67,482.09 1209.90,479.07 1210.14,476.21 1210.38,474.11 1210.62,468.52 1210.85,473.02 1211.09,470.06 1211.33,468.74 1211.57,467.72 1211.80,467.70 1212.04,467.97 1212.28,467.73 1212.52,467.04 1212.75,470.52 1212.99,469.05 1213.23,474.53 1213.47,478.95 1213.70,481.51 1213.94,492.25 1214.18,492.36 1214.42,487.81 1214.65,483.21 1214.89,482.71 1215.13,479.13 1215.37,475.00 1215.61,479.58 1215.84,476.83 1216.08,476.65 1216.32,479.95 1216.56,481.10 1216.79,485.49 1217.03,479.21 1217.27,478.93 1217.51,478.13 1217.74,475.90 1217.98,473.41 1218.22,474.05 1218.46,475.75 1218.69,473.45 1218.93,474.27 1219.17,472.53 1219.41,473.85 1219.64,473.78 1219.88,478.11 1220.12,484.21 1220.36,479.12 1220.59,484.91 1220.83,483.47 1221.07,483.03 1221.31,487.65 1221.54,489.97 1221.78,492.54 1222.02,492.32 1222.26,486.55 1222.49,493.28 1222.73,493.98 1222.97,490.79 1223.21,491.42 1223.44,487.68 1223.68,489.10 1223.92,485.60 1224.16,482.47 1224.39,478.27 1224.63,481.01 1224.87,479.31 1225.11,482.97 1225.35,481.89 1225.58,480.26 1225.82,478.37 1226.06,478.27 1226.30,476.01 1226.53,477.41 1226.77,471.02 1227.01,475.47 1227.25,478.15 1227.48,482.38 1227.72,478.98 1227.96,484.03 1228.20,479.97 1228.43,481.88 1228.67,481.30 1228.91,483.87 1229.15,480.72 1229.38,481.71 1229.62,487.29 1229.86,482.41 1230.10,480.90 1230.33,477.21 1230.57,478.94 1230.81,481.07 1231.05,478.50 1231.28,484.55 1231.52,475.48 1231.76,475.36 1232.00,473.87 1232.23,467.79 1232.47,466.45 1232.71,464.70 1232.95,465.01 1233.18,463.77 1233.42,468.10 1233.66,465.69 1233.90,463.50 1234.13,461.52 1234.37,458.90 1234.61,459.55 1234.85,462.82 1235.09,462.23 1235.32,461.43 1235.56,466.41 1235.80,468.72 1236.04,466.14 1236.27,465.63 1236.51,459.25 1236.75,454.24 1236.99,443.56 1237.22,440.85 1237.46,437.35 1237.70,433.41 1237.94,426.36 1238.17,423.03 1238.41,424.71 1238.65,424.93 1238.89,420.32 1239.12,418.75 1239.36,418.25 1239.60,414.68 1239.84,413.21 1240.07,411.89 1240.31,417.06 1240.55,410.58 1240.79,411.95 1241.02,409.94 1241.26,415.96 1241.50,406.57 1241.74,411.05 1241.97,410.00 1242.21,411.31 1242.45,410.43 1242.69,414.94 1242.92,411.53 1243.16,410.99 1243.40,410.43 1243.64,413.88 1243.87,407.79 1244.11,402.99 1244.35,409.26 1244.59,407.02 1244.83,411.93 1245.06,411.10 1245.30,407.44 1245.54,407.51 1245.78,407.78 1246.01,398.33 1246.25,404.14 1246.49,405.01 1246.73,409.80 1246.96,407.04 1247.20,409.50 1247.44,417.30 1247.68,416.73 1247.91,420.48 1248.15,416.03 1248.39,412.20 1248.63,419.97 1248.86,411.09 1249.10,422.74 1249.34,421.46 1249.58,420.77 1249.81,421.12 1250.05,420.06 1250.29,415.75 1250.53,412.30 1250.76,405.56 1251.00,409.83 1251.24,395.15 1251.48,404.95 1251.71,411.67 1251.95,417.33 1252.19,412.35 1252.43,419.12 1252.66,425.07 1252.90,418.93 1253.14,420.69 1253.38,406.93 1253.61,410.22 1253.85,402.93 1254.09,398.33 1254.33,399.29 1254.57,408.33 1254.80,398.90 1255.04,406.53 1255.28,407.15 1255.52,407.02 1255.75,411.48 1255.99,405.85 1256.23,399.67 1256.47,397.88 1256.70,402.77 1256.94,406.54 1257.18,414.59 1257.42,412.80 1257.65,415.11 1257.89,408.21 1258.13,413.66 1258.37,415.89 1258.60,419.50 1258.84,417.54 1259.08,422.47 1259.32,420.16 1259.55,420.07 1259.79,423.13 1260.03,422.78 1260.27,424.38 1260.50,428.03 1260.74,422.17 1260.98,429.83 1261.22,426.10 1261.45,432.26 1261.69,433.88 1261.93,431.38 1262.17,434.77 1262.40,439.27 1262.64,434.49 1262.88,438.49 1263.12,440.16 1263.35,439.44 1263.59,441.08 1263.83,434.35 1264.07,439.57 1264.31,441.63 1264.54,438.99 1264.78,443.12 1265.02,443.33 1265.26,443.45 1265.49,439.19 1265.73,444.44 1265.97,444.45 1266.21,447.88 1266.44,447.06 1266.68,448.01 1266.92,447.36 1267.16,441.68 1267.39,439.65 1267.63,444.00 1267.87,443.86 1268.11,441.85 1268.34,438.82 1268.58,434.23 1268.82,433.78 1269.06,430.88 1269.29,431.86 1269.53,433.10 1269.77,435.63 1270.01,439.32 1270.24,434.16 1270.48,436.80 1270.72,436.73 1270.96,442.15 1271.19,446.15 1271.43,440.82 1271.67,446.72 1271.91,450.84 1272.14,453.42 1272.38,450.18 1272.62,448.06 1272.86,448.33 1273.09,446.81 1273.33,445.54 1273.57,446.55 1273.81,445.31 1274.04,433.57 1274.28,430.30 1274.52,429.01 1274.76,428.38 1275.00,430.45 1275.23,430.38 1275.47,424.22 1275.71,419.64 1275.95,420.93 1276.18,420.01 1276.42,419.00 1276.66,425.24 1276.90,421.55 1277.13,418.20 1277.37,411.69 1277.61,418.12 1277.85,412.46 1278.08,418.43 1278.32,405.81 1278.56,413.04 1278.80,415.27 1279.03,413.67 1279.27,409.74 1279.51,412.53 1279.75,403.75 1279.98,392.64 1280.22,396.98 1280.46,393.92 1280.70,391.18 1280.93,392.56 1281.17,391.57 1281.41,391.03 1281.65,394.43 1281.88,393.66 1282.12,391.31 1282.36,391.05 1282.60,389.71 1282.83,389.84 1283.07,390.45 1283.31,390.32 1283.55,392.94 1283.78,390.90 1284.02,393.07 1284.26,392.13 1284.50,390.54 1284.74,390.98 1284.97,392.87 1285.21,395.50 1285.45,396.26 1285.69,403.33 1285.92,408.42 1286.16,405.72 1286.40,406.47 1286.64,399.96 1286.87,394.53 1287.11,391.80 1287.35,391.81 1287.59,393.53 1287.82,393.34 1288.06,396.05 1288.30,402.39 1288.54,403.33 1288.77,404.65 1289.01,410.47 1289.25,407.25 1289.49,406.97 1289.72,406.16 1289.96,401.78 1290.20,413.08 1290.44,407.55 1290.67,409.80 1290.91,401.73 1291.15,402.56 1291.39,405.40 1291.62,412.56 1291.86,405.23 1292.10,396.62 1292.34,396.52 1292.57,397.92 1292.81,400.19 1293.05,393.05" fill="none" stroke="#a0a0a0" stroke-width="1.45" stroke-linejoin="round"/>
<path d="M56.5 219V590.1H1296V219" stroke="#8f8f8f" stroke-opacity="0.75" stroke-width="1.3" fill="none"/>
<text x="52.4" y="259.2" text-anchor="end" font-size="16" fill="#4a72a4">10K</text>
<text x="52.4" y="326.6" text-anchor="end" font-size="16" fill="#4a72a4">8K</text>
<text x="52.4" y="394.0" text-anchor="end" font-size="16" fill="#4a72a4">6K</text>
<text x="52.4" y="461.5" text-anchor="end" font-size="16" fill="#4a72a4">4K</text>
<text x="52.4" y="528.9" text-anchor="end" font-size="16" fill="#4a72a4">2K</text>
<text x="52.4" y="588" text-anchor="end" font-size="16" fill="#4a72a4">0</text>
<g clip-path="url(#cr)">
<text x="1300" y="259.2" font-size="16" fill="#ad4846">1.12B</text>
<text x="1300" y="326.6" font-size="16" fill="#ad4846">892.66M</text>
<text x="1300" y="394.0" font-size="16" fill="#ad4846">669.5M</text>
<text x="1300" y="461.5" font-size="16" fill="#ad4846">446.33M</text>
<text x="1300" y="528.9" font-size="16" fill="#ad4846">223.17M</text>
<text x="1300" y="596" font-size="16" fill="#ad4846">0</text>
</g>
<text x="120.4" y="607.9" text-anchor="middle" font-size="15.85" fill="#111">Jan 2012</text>
<text x="207.4" y="607.9" text-anchor="middle" font-size="15.85" fill="#111">Jan 2013</text>
<text x="294.1" y="607.9" text-anchor="middle" font-size="15.85" fill="#111">Jan 2014</text>
<text x="380.8" y="607.9" text-anchor="middle" font-size="15.85" fill="#111">Jan 2015</text>
<text x="467.5" y="607.9" text-anchor="middle" font-size="15.85" fill="#111">Jan 2016</text>
<text x="554.4" y="607.9" text-anchor="middle" font-size="15.85" fill="#111">Jan 2017</text>
<text x="641.1" y="607.9" text-anchor="middle" font-size="15.85" fill="#111">Jan 2018</text>
<text x="727.8" y="607.9" text-anchor="middle" font-size="15.85" fill="#111">Jan 2019</text>
<text x="814.6" y="607.9" text-anchor="middle" font-size="15.85" fill="#111">Jan 2020</text>
<text x="901.5" y="607.9" text-anchor="middle" font-size="15.85" fill="#111">Jan 2021</text>
<text x="988.2" y="607.9" text-anchor="middle" font-size="15.85" fill="#111">Jan 2022</text>
<text x="1074.9" y="607.9" text-anchor="middle" font-size="15.85" fill="#111">Jan 2023</text>
<text x="1161.6" y="607.9" text-anchor="middle" font-size="15.85" fill="#111">Jan 2024</text>
<text x="1248.6" y="607.9" text-anchor="middle" font-size="15.85" fill="#111">Jan 2025</text>
<rect x="36.5" y="228.5" width="40" height="19" fill="#fff" stroke="#4a72a4" stroke-width="1"/>
<text x="56.5" y="245" text-anchor="middle" font-size="16" fill="#4a72a4">#77</text>
<rect x="1273.5" y="228.5" width="40" height="19" fill="#fff" stroke="#4a72a4" stroke-width="1"/>
<text x="1293.5" y="245" text-anchor="middle" font-size="16" fill="#4a72a4">#80</text>
<rect x="87.4" y="231" width="14.8" height="2" fill="#4169a0"/>
<text x="106.6" y="236.6" font-size="15.85" font-weight="bold" fill="#4169a0">Balance in BTC</text>
<rect x="227.7" y="231" width="14.8" height="2" fill="#a94442"/>
<text x="246.6" y="236.6" font-size="15.85" font-weight="bold" fill="#a94442">Balance in USD</text>
<rect x="368.0" y="231" width="14.8" height="2" fill="#8f8f8f"/>
<text x="387.3" y="236.6" font-size="15.85" font-weight="bold" fill="#8f8f8f">BTC price</text>
</svg><div class="a" style="left:4px;top:754px;width:1350px;height:2px;background:#d6d6d6"></div>
<div class="a" style="left:4px;top:783px;width:1350px;height:1px;background:#d9d9d9"></div>
<div class="a" style="left:4px;top:812px;width:1350px;height:1px;background:#d9d9d9"></div>
<div class="a" style="left:4px;top:813px;width:1350px;height:28px;background:#f2f2f2"></div>
<div class="th a" style="left:8px">Block</div>
<div class="th a" style="left:113px">Time</div>
<div class="th a" style="left:347px">Amount</div>
<div class="th a" style="left:762px">Balance</div>
<div class="th a" style="left:904px">Balance, USD @ Price</div>
<div class="th a" style="left:1178px">Profit</div>
<svg class="a" style="left:0;top:730px" width="1354" height="20" viewBox="0 730 1354 20">
<defs><g id="si"><path d="M0 4.2L3.8 0L7.6 4.2Z M0 6.2L3.8 10.2L7.6 6.2Z" fill="#222"/><rect x="0.2" y="4.2" width="7.2" height="2" fill="#bcbcbc"/></g></defs>
<use href="#si" x="91.6" y="734.9"/>
<use href="#si" x="327.4" y="734.9"/>
<use href="#si" x="742.6" y="734.9"/>
<use href="#si" x="883.9" y="734.9"/>
<use href="#si" x="1157.8" y="734.9"/>
<use href="#si" x="1338.3" y="734.9"/>
</svg>
<div class="a td" style="left:557px;top:762px;color:#2a5ea8">show &lt; $100 transactions</div>
<div class="a td" style="left:8px;top:789px;color:#2a5ea8">903916</div>
<div class="a td" style="left:111px;top:789px">2025-07-04 06:43:33</div>
<div class="a td" style="left:347px;top:789px;color:#b05454">-10,000.01<span class="s10" style="color:#c07575">141274</span> BTC <span class="s10" style="color:#c48888">($1,092,377,879.08)</span></div>
<div class="a td" style="left:762px;top:789px">0 BTC</div>
<div class="a td" style="left:904px;top:789px">$0 @ $109,237.66</div>
<div class="a td" style="left:1178px;top:789px">$1,092,370,051</div>
<div class="a td" style="left:8px;top:818px;color:#2a5ea8">116375</div>
<div class="a td" style="left:111px;top:818px">2011-04-03 00:08:32</div>
<div class="a td" style="left:347px;top:818px;color:#4e8a56">+10,000 BTC <span class="s10" style="color:#78a47e">($7,804.95)</span></div>
<div class="a td" style="left:762px;top:818px">10,000 BTC</div>
<div class="a td" style="left:904px;top:818px">$7,805 @ $0.78</div>
<div class="a td" style="left:1178px;top:818px">$0</div>
</body></html>
